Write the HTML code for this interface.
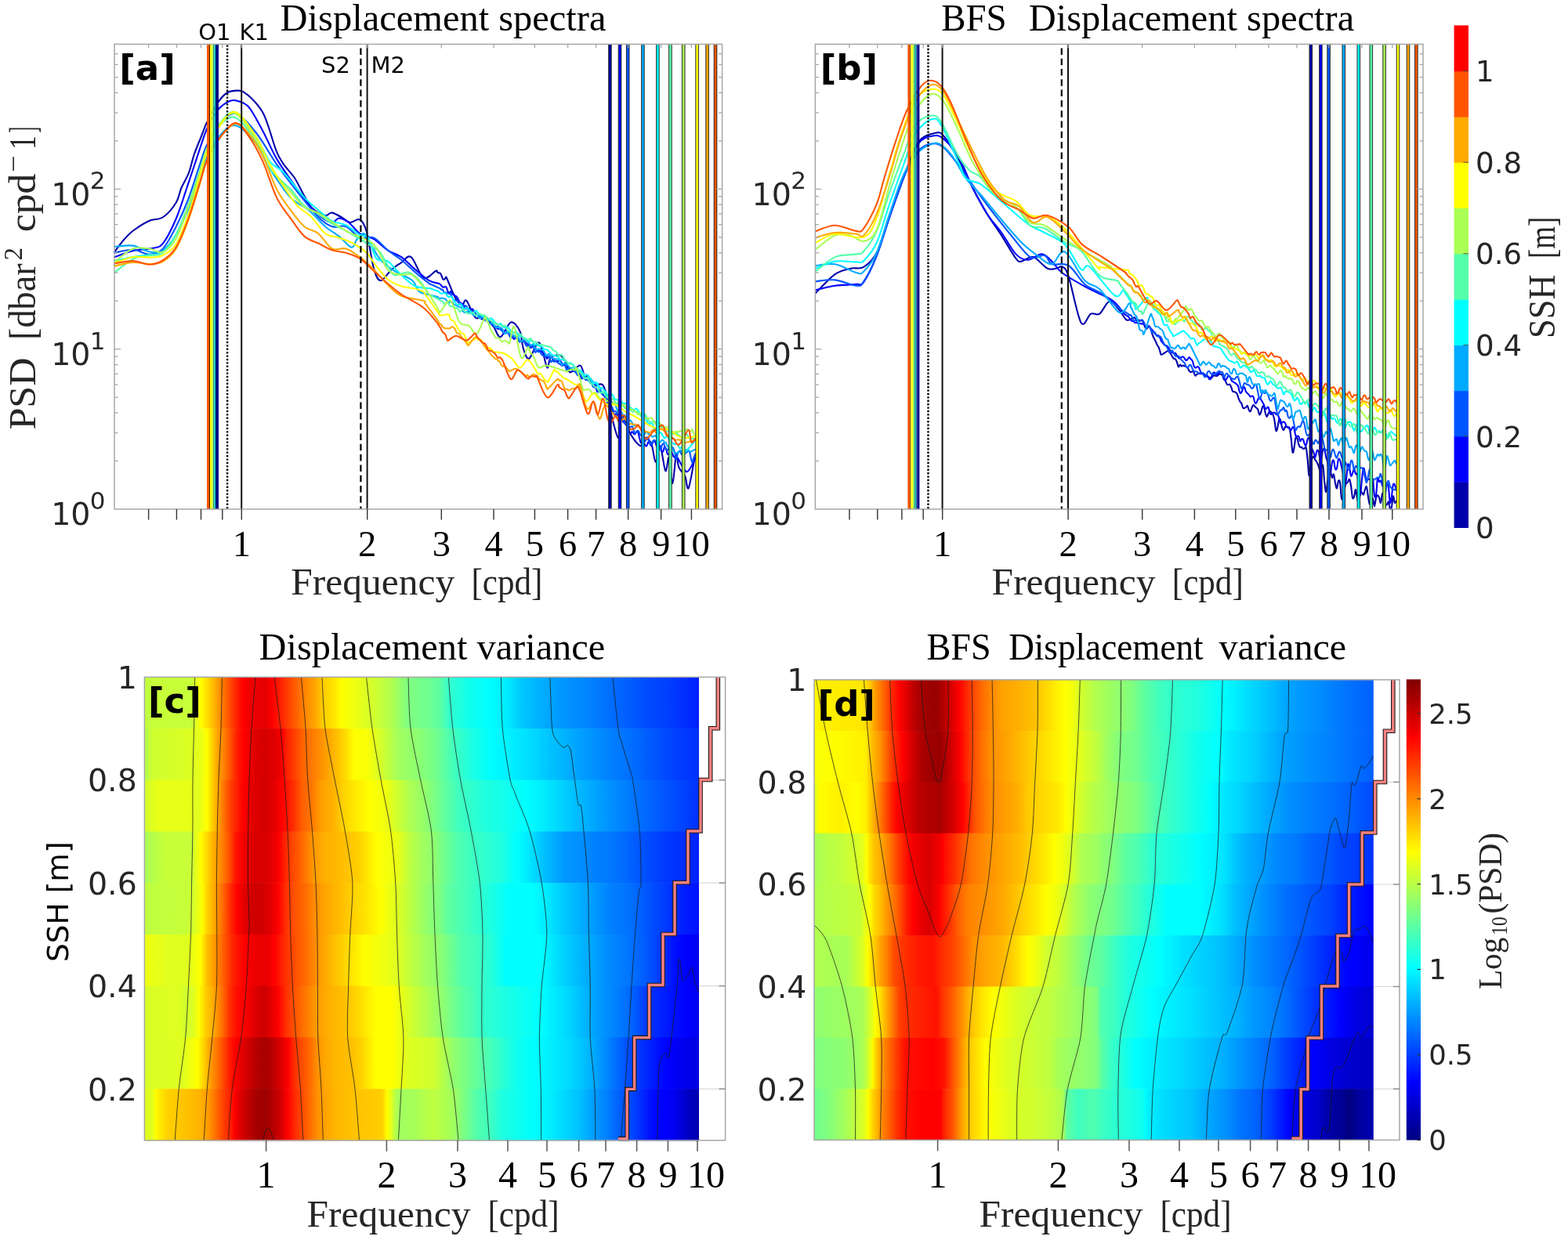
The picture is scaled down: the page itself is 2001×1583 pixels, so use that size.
<!DOCTYPE html><html><head><meta charset="utf-8"><title>Displacement spectra</title><style>html,body{margin:0;padding:0;background:#fff;}svg{display:block;}</style></head><body>
<svg width="2001" height="1583" viewBox="0 0 2001 1583">
<rect width="2001" height="1583" fill="#ffffff"/>
<g fill="none" stroke-width="2.1" stroke-linejoin="round" stroke-linecap="round">
<path d="M146,321.7C148.2,318.9 154.9,309.6 159,305C163.1,300.4 165.4,297.8 170.6,294C175.8,290.2 184,284.8 190.3,282C196.6,279.2 202.7,280.9 208.4,277C214.2,273.1 221,264.7 224.8,258.5C228.6,252.3 228.7,246.4 231.4,240C234.1,233.6 238.5,227.2 241.2,220C243.9,212.8 245.1,205 247.8,197C250.6,189 255,178.8 257.7,172C260.4,165.2 260.6,163.1 264.2,156C267.8,148.9 274.6,135.9 279,129.6C283.4,123.3 286.4,120.3 290.5,118C294.6,115.7 300.3,115.7 303.6,115.6C306.9,115.5 307.2,115.4 310.2,117.2C313.2,119 317.6,122 321.7,126.3C325.8,130.5 331.4,137.1 334.8,142.7C338.2,148.3 339,151.5 342,160C345,168.5 349.7,185.4 353,193.7C356.3,202 358.1,204.1 361.9,209.7C365.7,215.3 371.6,220.5 376,227.3C380.4,234.1 384.6,243.8 388.4,250.3C392.2,256.8 394.6,262.2 399,266.3C403.4,270.4 410.9,274.1 415,275C419.1,275.9 420,271 423.8,271.6C427.6,272.2 434.2,276.5 438,278.6C441.8,280.7 443.3,283.7 446.8,284C450.3,284.3 455.7,278.3 459.2,280.4C462.7,282.4 465.1,286 468,296.3C470.9,306.6 473.9,332 476.9,342.3C479.8,352.6 481.9,357.9 485.7,358.2C489.5,358.5 495.5,347.8 499.9,344C504.3,340.2 508.1,337.8 512.2,335.2C516.3,332.6 519.9,324.9 524.6,328.2C529.3,331.4 535.3,351.7 540.5,354.7C545.7,357.7 553.1,347.2 556,346C558.9,344.8 557.2,346.8 557.8,347.2C558.4,347.7 559,348.3 559.6,348.5C560.2,348.7 560.8,348 561.4,348.5C562,348.9 562.6,349.9 563.2,351.2C563.9,352.5 564.5,355.3 565.1,356.2C565.7,357.2 566.3,357.1 566.9,356.9C567.5,356.6 568.1,354.6 568.7,354.5C569.3,354.3 568.5,351.8 570.5,356C572.5,360.2 577.6,373.8 580.7,379.4C583.9,385 587,388.9 589.4,389.6C591.8,390.3 592.3,381.2 595.2,383.8C598.1,386.4 602.9,402.1 606.8,405.5C610.7,408.9 614.6,402.1 618.5,404C622.4,405.9 626.6,412.8 630,417.2C633.4,421.6 635.1,431.2 638.8,430.2C642.4,429.2 647.8,412.6 651.9,411.4C656,410.2 660.9,417.4 663.5,423C666.1,428.6 665.9,439 667.8,444.8C669.7,450.6 672,459 675.1,457.8C678.2,456.6 683.8,438.9 686.7,437.5C689.6,436.1 690.5,443.8 692.5,449.1C694.5,454.4 696.7,468.3 698.4,469.5C700.1,470.7 700.1,459.1 702.7,456.4C705.4,453.7 711.1,452.8 714.3,453.5C717.4,454.2 719.4,457.2 721.6,460.8C723.8,464.4 724.2,474.3 727.4,475.3C730.5,476.3 737.3,465.4 740.5,466.6C743.7,467.9 745.2,480.7 746.8,482.8C748.4,484.9 748.5,477.8 750.2,479.3C751.9,480.8 753.9,489.8 757.1,491.9C760.3,494 766.2,487.3 769.6,491.9C773,496.4 774.3,508 777.5,519.2C780.7,530.4 786.2,557.1 788.9,559C791.6,560.9 790.9,531.3 793.5,530.5C796.1,529.7 800.8,547.9 804.8,554.4C808.8,560.9 814.5,568.4 817.4,569.2C820.2,570 819.6,559.6 821.9,559C824.2,558.4 828.5,560.7 831,565.8C833.5,570.9 834.8,589.1 836.7,589.7C838.6,590.3 840.3,567.3 842.4,569.2C844.5,571.1 847.3,598.6 849.2,601.1C851.1,603.6 852.3,581.4 853.8,584C855.3,586.6 856.8,617.6 858.3,617C859.8,616.4 861.6,584 862.9,580.6C864.2,577.2 864.4,592 866.3,596.5C868.2,601 872.1,603.5 874.2,607.9C876.3,612.3 876.6,627.4 878.8,622.7C881,618 885.9,586.7 887.3,579.5" stroke="#0000aa"/>
<path d="M146,328.2C150.1,326.8 162.4,321.9 170.6,320C178.8,318.1 189,318.3 195.3,316.7C201.6,315.1 203.5,316.5 208.4,310.2C213.3,303.9 219.9,290.5 224.8,279C229.7,267.5 233.6,254.1 238,241.2C242.4,228.3 246.7,214.7 251.1,201.8C255.5,188.9 259.8,174.1 264.2,164C268.6,153.9 272.5,146.9 277.4,141C282.3,135.1 289.1,130.6 293.8,128.7C298.5,126.8 301.2,128.1 305.3,129.6C309.4,131.1 313.4,131.5 318.4,137.8C323.4,144.1 329.6,156.4 335.4,167.2C341.2,178 346.5,191.4 353,202.6C359.5,213.8 367.8,225 374.3,234.4C380.8,243.8 386.1,252.1 392,259.2C397.9,266.3 404.4,272.8 409.7,276.9C415,281 420,283.7 423.8,284C427.6,284.3 429.1,278.6 432.6,278.6C436.1,278.6 440.6,280.8 445,284C449.4,287.2 453.9,294.6 459.2,298.1C464.5,301.6 471,301.7 476.9,305.2C482.8,308.7 488.7,315.5 494.6,319.3C500.5,323.1 506.3,324.1 512.2,328.2C518.1,332.3 524,339.1 529.9,344.1C535.8,349.1 542.6,355.2 547.6,358.2C552.6,361.2 557.6,361.2 560,362C562.4,362.8 561.2,362.5 561.9,363C562.5,363.6 563.1,364.5 563.8,365.2C564.4,365.8 565,366.7 565.6,366.8C566.2,367 566.9,366.3 567.5,366.2C568.1,366.1 568.8,365.6 569.4,366.4C570,367.2 570.6,369.8 571.2,371.1C571.9,372.5 572.5,374.6 573.1,374.7C573.8,374.9 574.4,372 575,372C575.6,372 576.2,374.1 576.9,374.8C577.5,375.5 578.1,375.8 578.8,376.2C579.4,376.7 580,377 580.6,377.4C581.2,377.7 581.9,377.7 582.5,378.4C583.1,379.1 583.8,380.3 584.4,381.5C585,382.6 585.6,384.5 586.2,385.3C586.9,386.2 587.5,386.3 588.1,386.7C588.8,387.1 589.4,387.4 590,388C590.6,388.6 591.2,389.2 591.9,390.2C592.5,391.2 593.1,393.3 593.8,393.9C594.4,394.5 595,394 595.6,394C596.2,394 596.9,393.9 597.5,394.1C598.1,394.3 598.8,394.9 599.4,395.1C600,395.3 600.6,395.3 601.2,395.2C601.9,395.1 602.5,394.1 603.1,394.5C603.8,395 604.4,397.1 605,398C605.6,398.9 606.2,399.3 606.9,400.1C607.5,400.8 608.1,402 608.8,402.3C609.4,402.7 610,401.8 610.6,402.1C611.2,402.4 611.9,403.2 612.5,404C613.1,404.9 613.8,406.6 614.4,407.2C615,407.7 615.6,407.1 616.2,407.1C616.9,407.1 617.5,407 618.1,407.1C618.8,407.3 619.4,407.6 620,408C620.6,408.4 621.3,409.6 622,409.7C622.7,409.8 623.3,408.5 624,408.4C624.7,408.4 625.3,408.5 626,409.3C626.7,410.2 627.3,412.3 628,413.4C628.7,414.5 629.3,415.5 630,416C630.7,416.5 631.3,416 632,416.4C632.7,416.9 633.3,418.2 634,418.8C634.7,419.4 635.3,420.1 636,420C636.7,419.9 637.3,418.3 638,418.3C638.7,418.3 639.3,419.3 640,420C640.7,420.7 641.3,422 642,422.5C642.7,422.9 643.3,422.8 644,422.7C644.7,422.5 645.3,421.5 646,421.7C646.7,421.8 647.3,422.8 648,423.7C648.7,424.6 649.3,426.4 650,427.2C650.7,428.1 651.3,428.2 652,428.8C652.7,429.3 653.3,429.7 654,430.4C654.7,431.1 655.3,432.8 656,432.9C656.7,433 657.3,431.4 658,431.2C658.7,431.1 659.3,431.7 660,432C660.7,432.3 661.3,432.4 662,433C662.7,433.7 663.3,435.4 664,435.8C664.7,436.1 665.3,435.4 666,435.3C666.7,435.1 667.3,434.6 668,434.9C668.7,435.2 669.3,436.3 670,436.9C670.7,437.5 671.3,438.2 672,438.7C672.7,439.2 673.3,439.2 674,439.9C674.7,440.7 675.3,442.5 676,443.2C676.7,443.8 677.3,444 678,443.8C678.7,443.6 679.3,442.4 680,442C680.7,441.6 681.3,440.7 682,441.3C682.7,441.9 683.3,444.5 684,445.6C684.7,446.7 685.3,447.5 686,447.8C686.7,448.2 687.3,447.6 688,447.7C688.7,447.7 689.3,448 690,448.3C690.7,448.6 691.3,449.2 692,449.6C692.7,449.9 693.3,449.8 694,450.5C694.7,451.1 695.3,452.3 696,453.5C696.7,454.8 697.3,457.6 698,457.9C698.7,458.1 699.3,455.7 700,455C700.7,454.3 701.3,453.7 702,453.8C702.7,454 703.3,455.2 704,456.2C704.7,457.1 705.3,458.9 706,459.6C706.7,460.3 707.3,460.4 708,460.6C708.7,460.8 709.3,460.6 710,460.7C710.7,460.8 711.3,461.1 712,461.1C712.7,461.1 713.3,460.6 714,460.7C714.7,460.7 715.3,460.5 716,461.5C716.7,462.5 717.3,466 718,466.5C718.7,467.1 719.3,465 720,465C720.7,465 721.3,466.5 722,466.7C722.7,466.9 723.3,465.8 724,466.2C724.7,466.6 725.3,468.2 726,469C726.7,469.9 727.3,470.7 728,471.3C728.7,471.9 729.3,472 730,472.4C730.7,472.8 731.3,473.5 732,473.7C732.7,473.9 733.3,473.9 734,473.7C734.7,473.6 735.3,472.6 736,473C736.7,473.4 737.3,475.2 738,476C738.7,476.9 739.3,476.8 740,478C740.7,479.2 741.3,482.6 742,483.1C742.7,483.5 743.3,481.1 744,480.9C744.7,480.7 745.3,481.4 746,481.8C746.7,482.3 747.3,483.1 748,483.6C748.7,484.1 749.3,484.3 750,484.8C750.7,485.4 751.3,486.3 752,486.9C752.7,487.6 753.3,488.6 754,488.8C754.7,489.1 755.3,488.3 756,488.2C756.7,488.2 757.3,487.6 758,488.3C758.7,488.9 759.4,490.1 760,492C760.6,493.9 761.3,498.2 761.9,499.5C762.5,500.9 763.1,500 763.8,500.1C764.4,500.2 765,500 765.7,500.3C766.3,500.7 766.9,501.7 767.6,502.3C768.2,502.8 768.8,503.1 769.4,503.7C770.1,504.2 770.7,504.4 771.3,505.5C772,506.5 772.6,508.4 773.2,509.9C773.9,511.4 774.5,513.6 775.1,514.4C775.7,515.3 776.4,514.9 777,515C777.6,515.1 778.3,514.1 779,515.2C779.7,516.4 780.3,519.6 781,521.9C781.7,524.2 782.3,527.8 783,528.9C783.7,530 784.3,528.5 785,528.5C785.7,528.6 786.3,528.7 787,529C787.7,529.3 788.3,530.2 789,530.3C789.7,530.4 790.3,529.3 791,529.5C791.7,529.6 792.3,529.7 793,531.2C793.7,532.6 794.3,536.8 795,538.3C795.7,539.8 796.4,539.3 797,540C797.6,540.7 798.3,542 798.9,542.5C799.5,543.1 800.1,542 800.8,543.2C801.4,544.5 802,548.6 802.6,550.3C803.3,552 803.9,553.3 804.5,553.5C805.2,553.6 805.8,551.4 806.4,551.3C807,551.2 807.7,552.6 808.3,553.1C808.9,553.6 809.6,554.7 810.2,554.4C810.8,554.1 811.4,552 812.1,551.5C812.7,550.9 813.3,550 814,551.1C814.6,552.2 815.2,555.7 815.8,558C816.5,560.4 817.1,564.4 817.7,565.2C818.3,565.9 819,562.5 819.6,562.4C820.2,562.3 820.9,563.3 821.5,564.4C822.1,565.4 822.8,567.8 823.4,568.6C824,569.4 824.7,569.9 825.3,569.2C825.9,568.5 826.6,564.8 827.2,564.3C827.8,563.8 828.5,565.3 829.1,566C829.7,566.8 830.4,569 831,568.9C831.6,568.8 832.3,566.6 832.9,565.4C833.5,564.3 834.2,561.9 834.8,562C835.4,562 836.1,564.2 836.7,565.8C837.3,567.3 838,570.4 838.6,571.5C839.2,572.6 839.9,572.8 840.5,572.4C841.1,572 841.8,568.6 842.4,569.2C843,569.8 843.7,575 844.3,576.2C844.9,577.3 845.6,577.1 846.2,576.1C846.8,575.2 847.4,570.9 848.1,570.4C848.7,569.9 849.3,571.6 850,573.2C850.6,574.7 851.2,578.7 851.9,579.7C852.5,580.8 853.1,580.1 853.8,579.5C854.4,578.9 855,576.5 855.6,576.3C856.3,576 856.9,577 857.5,578C858.2,579 858.8,581.3 859.4,582.4C860.1,583.4 860.7,583.6 861.3,584.2C861.9,584.8 862.6,585.9 863.2,586C863.8,586.2 862.9,582.4 865.1,585.1C867.3,587.8 872.8,602.2 876.5,602.2C880.2,602.2 885.5,588 887.3,585.1" stroke="#0000ff"/>
<path d="M146,322.7C150,322.1 162.5,318.5 169.9,318.8C177.3,319.1 184.3,324.8 190.6,324.7C196.9,324.6 201.9,323.8 207.5,318C213.1,312.2 219,300.5 224.4,290C229.8,279.5 234.9,268.3 240,255C245.1,241.7 251,221.7 255,210C259,198.3 260,193.3 264,185C268,176.7 273,166.7 279,160C285,153.3 292.1,143.5 300,145C307.9,146.5 317.7,158.2 326.5,169C335.3,179.8 344.1,197 353,209.7C361.9,222.4 370.8,233.8 379.6,245C388.5,256.2 398.7,269.5 406.1,276.9C413.5,284.3 417.9,287.1 423.8,289.2C429.7,291.2 435.6,286.8 441.5,289.2C447.4,291.6 453.3,301 459.2,303.4C465.1,305.8 471,300.8 476.9,303.4C482.8,306 488.7,314.6 494.6,319.3C500.5,324 506.3,327 512.2,331.7C518.1,336.4 524,342.6 529.9,347.6C535.8,352.6 544.3,359.3 547.6,361.8C550.9,364.3 548.9,362.4 549.5,362.7C550.2,363 550.8,363.3 551.5,363.6C552.1,363.9 552.8,364.2 553.4,364.5C554,364.8 554.7,365.1 555.3,365.4C556,365.7 556.6,366.1 557.3,366.4C557.9,366.7 558.6,367 559.2,367.3C559.8,367.5 560.5,367.5 561.1,367.9C561.8,368.2 562.4,369.2 563.1,369.6C563.7,369.9 564.3,369.3 565,370C565.7,370.7 566.3,373.3 567,373.8C567.7,374.4 568.3,373.3 569,373.4C569.7,373.4 570.3,374 571,374.2C571.7,374.4 572.3,374.4 573,374.7C573.7,374.9 574.3,374.8 575,375.5C575.7,376.3 576.3,378.2 577,379.4C577.7,380.6 578.3,382.4 579,383C579.7,383.5 580.3,382.6 581,382.8C581.7,383 582.3,383.9 583,384.2C583.7,384.6 584.3,384.5 585,385C585.7,385.5 586.3,387 587,387.5C587.7,388 588.3,387.7 589,388.1C589.7,388.5 590.3,389.6 591,389.9C591.7,390.3 592.3,390.2 593,390.3C593.7,390.4 594.3,389.8 595,390.5C595.7,391.1 596.3,392.9 597,394.2C597.7,395.4 598.3,397.4 599,398.1C599.7,398.8 600.3,398.1 601,398.3C601.7,398.6 602.3,399.4 603,399.7C603.7,400 604.3,399.8 605,400C605.7,400.2 606.3,400.4 607,400.7C607.7,400.9 608.3,401 609,401.7C609.7,402.3 610.3,403.8 611,404.3C611.7,404.8 612.3,404.5 613,404.4C613.7,404.2 614.3,403.2 615,403.4C615.7,403.6 616.3,404.9 617,405.8C617.7,406.7 618.3,408.3 619,408.9C619.7,409.5 620.3,408.9 621,409.2C621.7,409.5 622.3,410.5 623,410.7C623.7,410.8 624.3,410.1 625,410C625.7,409.9 626.3,410 627,410.3C627.7,410.7 628.3,411.2 629,412.2C629.7,413.3 630.3,415.6 631,416.4C631.7,417.3 632.3,417.5 633,417.5C633.7,417.5 634.3,416.4 635,416.5C635.7,416.7 636.3,417.6 637,418.3C637.7,419.1 638.3,420.5 639,421.2C639.7,421.9 640.3,421.8 641,422.5C641.7,423.3 642.3,425.3 643,425.7C643.7,426.1 644.3,425.2 645,425C645.7,424.8 646.3,424.6 647,424.7C647.7,424.9 648.3,425.1 649,425.9C649.7,426.8 650.3,429.2 651,430.1C651.7,430.9 652.3,431.2 653,431.1C653.7,431 654.3,429.8 655,429.7C655.7,429.5 656.3,429.8 657,430.1C657.7,430.4 658.3,431 659,431.4C659.7,431.8 660.3,431.7 661,432.6C661.7,433.5 662.3,436.3 663,436.7C663.7,437.1 664.3,435.2 665,435C665.7,434.8 666.3,435.3 667,435.6C667.7,435.8 668.3,435.6 669,436.4C669.7,437.2 670.3,439.5 671,440.5C671.7,441.4 672.3,442 673,442.1C673.7,442.3 674.3,441.6 675,441.5C675.7,441.5 676.3,441.8 677,442C677.7,442.2 678.3,442.3 679,442.7C679.7,443.1 680.3,443.1 681,444.2C681.7,445.4 682.3,449.1 683,449.8C683.7,450.4 684.3,448.1 685,448C685.7,447.9 686.3,449.1 687,449.3C687.7,449.5 688.3,448.7 689,449.2C689.7,449.7 690.3,451.5 691,452.2C691.7,453 692.3,453.5 693,453.8C693.7,454.2 694.3,454 695,454.2C695.7,454.4 696.3,454.8 697,455C697.7,455.1 698.3,454.8 699,454.9C699.7,455.1 700.3,454.8 701,456C701.7,457.2 702.3,461.3 703,462C703.7,462.6 704.3,460 705,460C705.7,460 706.3,461.8 707,461.9C707.7,462.1 708.3,460.8 709,460.9C709.7,461 710.3,462.1 711,462.6C711.7,463.1 712.3,463.4 713,463.8C713.7,464.2 714.3,464.6 715,465.1C715.7,465.6 716.3,466.5 717,466.7C717.7,466.9 718.3,466.3 719,466.3C719.7,466.2 720.3,465.5 721,466.4C721.7,467.4 722.3,471.3 723,471.9C723.7,472.5 724.3,469.9 725,470C725.7,470.1 726.3,472.2 727,472.5C727.7,472.7 728.3,471.6 729,471.6C729.7,471.6 730.3,472.2 731,472.6C731.7,472.9 732.3,472.9 733,473.4C733.7,474 734.3,475 735,475.9C735.7,476.8 736.3,478.4 737,478.9C737.7,479.4 738.3,478.8 739,478.8C739.7,478.7 740.3,477.7 741,478.4C741.7,479.1 742.3,482.6 743,483.2C743.7,483.8 744.3,481.8 745,482C745.7,482.2 746.3,484.2 747,484.7C747.7,485.1 748.3,484.7 749,484.9C749.7,485.1 750.3,485.5 751,485.8C751.7,486 752.3,485.8 753,486.4C753.7,487.1 754.3,488.4 755,489.6C755.7,490.9 756.3,493.1 757,493.9C757.7,494.7 758.3,494.5 759,494.6C759.7,494.6 760.3,493.5 761,494.1C761.7,494.8 762.3,497.7 763,498.3C763.7,499 764.3,497.5 765,498C765.7,498.5 766.3,500.2 767,501.2C767.7,502.2 768.3,503 769,503.8C769.7,504.6 770.3,505.3 771,505.8C771.7,506.2 772.3,505.6 773,506.5C773.7,507.3 774.3,508.9 775,510.7C775.7,512.5 776.3,515.8 777,517.2C777.7,518.6 778.3,518.9 779,519.3C779.7,519.6 780.3,518.6 781,519.4C781.7,520.3 782.3,523.5 783,524.4C783.7,525.3 784.3,524.6 785,525C785.7,525.4 786.3,525.6 787,526.5C787.7,527.4 788.3,529.5 789,530.4C789.7,531.4 790.3,532.3 791,532.4C791.7,532.4 792.3,530.7 793,531C793.7,531.2 794.3,532.2 795,533.6C795.7,535.1 796.3,538.3 797,539.6C797.7,540.9 798.3,541.2 799,541.5C799.7,541.8 800.3,540.7 801,541.5C801.7,542.2 802.3,545.4 803,545.9C803.7,546.5 804.3,545.2 805,545C805.7,544.8 806.3,543.9 807,544.8C807.7,545.7 808.3,549.1 809,550.5C809.7,551.9 810.3,553.3 811,553.2C811.7,553.1 812.3,550.5 813,550C813.7,549.6 814.3,549.7 815,550.5C815.7,551.3 816.3,554 817,555C817.7,556 818.3,556.1 819,556.7C819.7,557.2 820.3,557 821,558.1C821.7,559.2 822.3,563.1 823,563.5C823.7,563.8 824.3,560.9 825,560C825.7,559.1 826.3,557.4 827,558.2C827.7,558.9 828.3,562.9 829,564.4C829.7,566 830.3,567.6 831,567.4C831.7,567.3 832.3,564.5 833,563.5C833.7,562.6 834.3,561.9 835,561.9C835.7,561.9 836.3,563.2 837,563.6C837.7,564 838.3,563.7 839,564.5C839.7,565.2 840.3,566.2 841,567.9C841.7,569.5 842.3,574.4 843,574.4C843.7,574.4 844.3,569.4 845,568C845.7,566.6 846.3,565.6 847,566.3C847.7,566.9 848.3,570.4 849,571.9C849.7,573.4 850.3,575.3 851,575.5C851.7,575.7 852.3,573.6 853,572.9C853.7,572.2 854.3,571.6 855,571.4C855.7,571.2 856.3,571.5 857,571.5C857.7,571.6 858.3,570.9 859,571.9C859.7,572.9 860.3,575.2 861,577.6C861.7,580 862.3,586.3 863,586.4C863.7,586.5 864.4,579.7 865,578C865.6,576.3 866.2,576 866.9,576C867.5,576 868.1,577.2 868.7,578.1C869.3,578.9 870,580.6 870.6,581C871.2,581.3 871.8,580.3 872.4,579.9C873.1,579.5 873.7,579 874.3,578.7C874.9,578.3 875.5,578.4 876.1,577.9C876.8,577.4 877.4,575.9 878,575.7C878.6,575.4 879.2,575 879.9,576.5C880.5,578 881.1,582.4 881.7,584.7C882.3,587.1 883,590.9 883.6,590.8C884.2,590.7 884.8,585.8 885.4,584C886.1,582.2 887,580.7 887.3,580" stroke="#0055ff"/>
<path d="M146,315C150,314.8 162.5,312.5 169.9,313.6C177.3,314.7 184.3,320.3 190.6,321.4C196.9,322.5 201.9,323.6 207.5,320C213.1,316.4 219,308.7 224.4,300C229.8,291.3 234.9,280.5 240,268C245.1,255.5 251,236.3 255,225C259,213.7 260,208.3 264,200C268,191.7 273,181.7 279,175C285,168.3 292.1,158.7 300,160C307.9,161.3 319.1,173.8 326.5,183C333.9,192.2 336.8,203.5 344.2,215C351.6,226.5 362.4,243.3 370.7,252.1C378.9,260.9 386.3,261.8 393.7,268C401.1,274.2 408.5,283.6 415,289.2C421.5,294.8 427,297.2 432.6,301.6C438.2,306 444.8,315.2 448.6,315.8C452.4,316.4 453,308.1 455.6,305.2C458.2,302.2 461.6,296.9 464.5,298.1C467.4,299.3 469.8,306.6 473.3,312.2C476.8,317.8 480.7,326.1 485.7,331.7C490.7,337.3 496.6,341.4 503.4,345.8C510.2,350.2 521.1,353.8 526.4,358.2C531.7,362.6 530.4,369.1 535.2,372.4C540,375.7 551.4,376.9 555,378C558.6,379.1 556.3,378.5 557,378.7C557.7,378.9 558.3,378.9 559,379.4C559.7,379.9 560.3,381.4 561,381.6C561.7,381.8 562.3,380.6 563,380.5C563.7,380.4 564.3,380.7 565,380.8C565.7,381 566.3,381.1 567,381.4C567.7,381.6 568.3,381.6 569,382.2C569.7,382.8 570.3,384.5 571,385.2C571.7,385.8 572.3,386.2 573,386.2C573.7,386.2 574.3,385.2 575,385C575.7,384.8 576.3,384.7 577,385.3C577.7,385.8 578.3,387.5 579,388.2C579.7,388.9 580.3,389.1 581,389.4C581.7,389.8 582.3,389.9 583,390.2C583.7,390.6 584.3,391.3 585,391.5C585.7,391.8 586.3,391.6 587,391.9C587.7,392.2 588.3,392.3 589,393.2C589.7,394.1 590.3,396.4 591,397.3C591.7,398.3 592.3,398.9 593,399C593.7,399.1 594.3,398.2 595,398C595.7,397.8 596.3,397.4 597,397.6C597.7,397.7 598.3,398.5 599,398.9C599.7,399.2 600.3,399.3 601,399.7C601.7,400.1 602.3,400.8 603,401.3C603.7,401.8 604.3,402.6 605,402.6C605.7,402.7 606.3,401.8 607,401.7C607.7,401.6 608.3,401.4 609,402C609.7,402.6 610.3,404.6 611,405.3C611.7,406 612.3,406.3 613,406.2C613.7,406.2 614.3,405.2 615,405C615.7,404.8 616.3,405 617,405.2C617.7,405.4 618.3,405.8 619,406.2C619.7,406.7 620.3,407 621,407.8C621.7,408.7 622.3,410.4 623,411.4C623.7,412.4 624.3,413.5 625,413.8C625.7,414 626.3,412.9 627,412.8C627.7,412.7 628.3,412.5 629,413.1C629.7,413.7 630.3,415.6 631,416.3C631.7,417.1 632.3,417.4 633,417.7C633.7,418 634.3,417.9 635,418C635.7,418.1 636.3,418.4 637,418.4C637.7,418.5 638.3,418.2 639,418.4C639.7,418.6 640.3,418.8 641,419.7C641.7,420.6 642.3,422.7 643,423.8C643.7,424.8 644.3,425.9 645,426C645.7,426 646.3,424.6 647,424.3C647.7,424 648.3,423.7 649,423.9C649.7,424.2 650.3,425.3 651,425.8C651.7,426.3 652.3,426.5 653,426.9C653.7,427.3 654.3,427.6 655,428C655.7,428.4 656.3,429.3 657,429.4C657.7,429.5 658.3,428.6 659,428.7C659.7,428.8 660.3,428.9 661,429.7C661.7,430.6 662.3,432.8 663,433.8C663.7,434.9 664.3,435.8 665,435.9C665.7,436 666.3,434.7 667,434.4C667.7,434 668.3,433.8 669,433.9C669.7,434 670.3,434.5 671,434.9C671.7,435.2 672.3,435.5 673,436.1C673.7,436.6 674.3,437.2 675,438C675.7,438.8 676.3,440.4 677,440.7C677.7,441 678.3,439.7 679,439.7C679.7,439.6 680.3,439.7 681,440.4C681.7,441.1 682.3,443.2 683,444.1C683.7,445.1 684.3,445.9 685,446.2C685.7,446.4 686.3,445.6 687,445.5C687.7,445.5 688.3,445.6 689,445.7C689.7,445.7 690.3,445.8 691,446.1C691.7,446.4 692.3,446.8 693,447.4C693.7,448.1 694.3,449 695,450C695.7,451 696.3,453.2 697,453.5C697.7,453.9 698.3,452.4 699,452.2C699.7,452 700.3,451.9 701,452.4C701.7,452.9 702.3,454.4 703,455.2C703.7,456 704.3,456.6 705,457.1C705.7,457.5 706.3,457.4 707,457.6C707.7,457.9 708.3,458.4 709,458.5C709.7,458.6 710.3,458.1 711,458.3C711.7,458.4 712.3,458.8 713,459.4C713.7,460 714.3,461 715,462C715.7,463 716.3,465.1 717,465.5C717.7,465.8 718.3,464.3 719,464C719.7,463.7 720.3,463.5 721,463.8C721.7,464 722.3,465 723,465.5C723.7,466 724.3,466.5 725,467C725.7,467.6 726.3,468.2 727,468.8C727.7,469.3 728.3,470.1 729,470.2C729.7,470.3 730.3,469.3 731,469.2C731.7,469.1 732.3,469.2 733,469.7C733.7,470.1 734.3,471.1 735,472C735.7,472.9 736.3,474.7 737,475.2C737.7,475.6 738.3,474.6 739,474.6C739.7,474.6 740.3,474.7 741,475C741.7,475.3 742.3,475.8 743,476.2C743.7,476.7 744.3,477.1 745,477.9C745.7,478.7 746.3,480.1 747,481C747.7,481.9 748.3,483.1 749,483.3C749.7,483.5 750.3,482.4 751,482.2C751.7,482.1 752.3,481.9 753,482.4C753.7,482.9 754.3,484.1 755,485C755.7,485.9 756.3,487.1 757,487.8C757.7,488.4 758.3,488.5 759,489C759.7,489.5 760.3,490.3 761,490.8C761.7,491.3 762.3,491.6 763,492.2C763.7,492.7 764.3,493 765,494.1C765.7,495.2 766.3,497.3 767,498.6C767.7,499.9 768.3,501.4 769,501.8C769.7,502.3 770.3,501.2 771,501.1C771.7,501.1 772.3,500.9 773,501.6C773.7,502.2 774.3,504.1 775,505C775.7,505.9 776.3,506.2 777,507C777.7,507.9 778.3,509.2 779,510.3C779.7,511.4 780.3,512.9 781,513.6C781.7,514.4 782.3,514.3 783,514.7C783.7,515.2 784.3,515.3 785,516.4C785.7,517.6 786.3,520.1 787,521.6C787.7,523.1 788.3,524.8 789,525.4C789.7,526 790.3,525.1 791,525.2C791.7,525.3 792.3,525.2 793,526.1C793.7,526.9 794.4,529.4 795,530C795.6,530.6 796.3,529.2 796.9,529.8C797.5,530.4 798.2,532.3 798.8,533.6C799.4,534.9 800,536.8 800.7,537.5C801.3,538.2 801.9,537.7 802.6,537.6C803.2,537.4 803.8,536.3 804.5,536.6C805.1,536.9 805.7,538.2 806.4,539.2C807,540.2 807.6,542.1 808.2,542.8C808.9,543.4 809.5,543.1 810.1,543.2C810.8,543.3 811.4,543.2 812,543.3C812.7,543.5 813.3,544 813.9,544.2C814.6,544.3 815.2,543.8 815.8,544.2C816.4,544.7 817.1,546 817.7,547C818.3,548 819,548.6 819.6,550C820.2,551.4 820.9,554.7 821.5,555.2C822.1,555.6 822.8,553.3 823.4,552.7C824,552.1 824.7,551.3 825.3,551.5C825.9,551.6 826.6,553 827.2,553.6C827.8,554.1 828.5,554.5 829.1,554.9C829.7,555.3 830.4,555.5 831,556C831.6,556.5 832.3,557.5 832.9,557.6C833.5,557.8 834.2,557 834.8,556.7C835.4,556.5 836.1,555.4 836.7,556.1C837.3,556.7 838,559 838.6,560.5C839.2,562 839.9,564.4 840.5,565.1C841.1,565.8 841.8,565.2 842.4,564.7C843,564.2 843.7,562.6 844.3,562.1C844.9,561.7 845.6,561.6 846.2,562C846.8,562.4 847.5,564.1 848.1,564.7C848.7,565.3 849.4,564.5 850,565.3C850.6,566.1 851.2,568.6 851.9,569.6C852.5,570.6 853.1,571.3 853.8,571.2C854.4,571.2 855,569.3 855.7,569.2C856.3,569.1 856.9,569.4 857.5,570.5C858.2,571.5 858.8,574.3 859.4,575.7C860.1,577 860.7,578.1 861.3,578.5C862,578.9 862.6,578 863.2,578C863.8,577.9 864.5,578.7 865.1,578.3C865.7,577.9 866.3,576.4 867,575.9C867.6,575.3 868.2,574.6 868.8,574.9C869.4,575.2 870,576.5 870.6,577.5C871.3,578.4 871.9,580.5 872.5,580.7C873.1,580.8 873.7,579.6 874.4,578.6C875,577.5 875.6,575 876.2,574.3C876.8,573.6 877.4,573.9 878,574.2C878.7,574.5 879.3,575.8 879.9,576.1C880.5,576.5 881.1,576.5 881.8,576.4C882.4,576.3 883,575.9 883.6,575.6C884.2,575.2 884.8,574.7 885.4,574.4C886.1,574.1 887,573.9 887.3,573.8" stroke="#00aaff"/>
<path d="M146,333C150,332.2 162.5,329.3 169.9,328C177.3,326.7 184.3,326.3 190.6,325.3C196.9,324.3 201.9,326.2 207.5,322C213.1,317.8 219,309.5 224.4,300C229.8,290.5 234.9,278.7 240,265C245.1,251.3 251,230.5 255,218C259,205.5 260,199.7 264,190C268,180.3 273,167.8 279,160C285,152.2 292.1,140.6 300,143C307.9,145.4 319.1,163.8 326.5,174.3C333.9,184.8 338.3,198.4 344.2,206.1C350.1,213.8 354.5,212.6 361.9,220.3C369.3,228 381,244.2 388.4,252.1C395.8,260.1 400.2,263 406.1,268C412,273 417.9,278.9 423.8,282.2C429.7,285.4 435.6,284.6 441.5,287.5C447.4,290.4 454.5,297.2 459.2,299.9C463.9,302.5 466.3,298.4 469.8,303.4C473.3,308.4 476.3,325 480.4,330C484.5,335 489.3,330 494.6,333.5C499.9,337 506.3,345.9 512.2,351.2C518.1,356.5 523.9,362.5 529.9,365.3C535.9,368.1 544.7,367.4 548,368C551.3,368.6 549.3,368.4 549.9,368.6C550.5,368.8 551.2,369.1 551.8,369.3C552.5,369.5 553.1,369.7 553.7,369.9C554.4,370.1 555,370.3 555.6,370.5C556.3,370.8 556.9,371 557.5,371.2C558.2,371.4 558.8,371.4 559.5,371.8C560.1,372.3 560.7,373.4 561.4,373.9C562,374.3 562.6,374.4 563.3,374.6C563.9,374.7 564.5,374.8 565.2,374.6C565.8,374.5 566.5,373.7 567.1,373.8C567.7,373.8 568.4,374.4 569,375C569.6,375.6 570.3,376.9 570.9,377.6C571.5,378.3 572.2,379.3 572.8,379.4C573.5,379.6 574.1,378.4 574.7,378.4C575.4,378.3 576,378.5 576.6,379.2C577.3,379.9 577.9,381.5 578.5,382.5C579.2,383.5 579.8,384.5 580.5,385.4C581.1,386.3 581.7,387.2 582.4,387.9C583,388.5 583.6,389.2 584.3,389.3C584.9,389.4 585.5,388.7 586.2,388.5C586.8,388.3 587.5,387.7 588.1,388.3C588.7,388.9 589.3,391 590,392C590.7,393 591.3,393.9 592,394.1C592.7,394.4 593.3,393.5 594,393.4C594.7,393.3 595.3,393.2 596,393.4C596.7,393.7 597.3,394.5 598,395C598.7,395.6 599.3,395.9 600,396.5C600.7,397.2 601.3,398.3 602,398.8C602.7,399.3 603.3,399.9 604,399.6C604.7,399.4 605.3,397.9 606,397.4C606.7,396.9 607.3,396.2 608,396.6C608.7,397 609.3,399.1 610,400C610.7,400.9 611.3,401.7 612,402.1C612.7,402.5 613.3,402.2 614,402.5C614.7,402.7 615.3,403.1 616,403.4C616.7,403.6 617.3,403.6 618,403.8C618.7,404.1 619.3,404.2 620,404.9C620.7,405.5 621.3,407.1 622,407.7C622.7,408.3 623.3,408.7 624,408.5C624.7,408.3 625.3,406.8 626,406.5C626.7,406.2 627.3,406.3 628,406.8C628.7,407.4 629.3,409.1 630,410C630.7,410.9 631.3,411.4 632,412C632.7,412.5 633.3,412.9 634,413.3C634.7,413.6 635.3,414.1 636,414.1C636.7,414.1 637.3,413.2 638,413.2C638.7,413.2 639.3,413.5 640,414.1C640.7,414.8 641.3,416.6 642,417.3C642.7,417.9 643.3,418.1 644,418C644.7,417.9 645.3,416.8 646,416.8C646.7,416.8 647.3,417.4 648,418C648.7,418.5 649.3,419.3 650,420C650.7,420.7 651.3,421.2 652,421.9C652.7,422.6 653.3,423.7 654,424.2C654.7,424.7 655.3,424.8 656,424.6C656.7,424.5 657.3,423.1 658,423.2C658.7,423.2 659.3,424 660,424.8C660.7,425.7 661.3,427.4 662,428.2C662.7,428.9 663.3,429 664,429.3C664.7,429.5 665.3,429.2 666,429.5C666.7,429.8 667.3,430.4 668,430.8C668.7,431.2 669.3,431.6 670,432C670.7,432.4 671.3,432.5 672,433.1C672.7,433.8 673.3,435.4 674,435.8C674.7,436.2 675.3,435.8 676,435.5C676.7,435.2 677.3,434.1 678,434.2C678.7,434.3 679.3,435.3 680,436.1C680.7,436.9 681.3,438.2 682,438.8C682.7,439.5 683.3,439.6 684,440C684.7,440.4 685.3,440.9 686,441.1C686.7,441.3 687.3,441.2 688,441.4C688.7,441.5 689.3,441.8 690,442C690.7,442.2 691.3,442.2 692,442.9C692.7,443.5 693.3,445.6 694,446.2C694.7,446.7 695.3,446.1 696,446.1C696.7,446.1 697.3,445.7 698,446.1C698.7,446.4 699.3,447.5 700,448.3C700.7,449 701.3,449.7 702,450.3C702.7,451 703.3,451.6 704,452.3C704.7,452.9 705.3,454 706,454.2C706.7,454.4 707.3,453.5 708,453.6C708.7,453.7 709.3,454.7 710,455C710.7,455.3 711.3,454.8 712,455.3C712.7,455.9 713.3,457.8 714,458.3C714.7,458.8 715.3,458.3 716,458.5C716.7,458.6 717.3,458.9 718,459.2C718.7,459.4 719.3,459.9 720,460.1C720.7,460.4 721.3,460.4 722,460.9C722.7,461.4 723.3,462.4 724,463.1C724.7,463.7 725.3,464.8 726,464.8C726.7,464.8 727.3,463.1 728,463.1C728.7,463.2 729.3,464.5 730,465C730.7,465.5 731.3,465.3 732,466.1C732.6,466.8 733.3,468.5 733.9,469.3C734.6,470.1 735.2,470.4 735.9,471C736.6,471.6 737.2,472.4 737.9,472.7C738.5,473 739.2,472.8 739.8,472.9C740.5,473 741.1,472.7 741.8,473.3C742.5,473.9 743.1,475.6 743.8,476.5C744.4,477.5 745.1,478.9 745.7,479.2C746.4,479.5 747,478.5 747.7,478.4C748.4,478.3 749,478 749.7,478.6C750.3,479.2 751,481 751.6,481.9C752.3,482.8 753,483 753.6,483.9C754.2,484.8 754.9,486.5 755.5,487.4C756.2,488.3 756.8,489.1 757.5,489.3C758.1,489.6 758.7,488.8 759.4,488.6C760,488.4 760.7,487.7 761.3,488.2C762,488.7 762.6,490.4 763.3,491.6C763.9,492.7 764.5,494.4 765.2,495.1C765.8,495.7 766.5,495.2 767.1,495.3C767.8,495.4 768.4,495.3 769,495.7C769.7,496.2 770.3,497.4 771,498.2C771.6,499 772.3,499.5 772.9,500.4C773.6,501.2 774.2,502.4 774.8,503.4C775.5,504.4 776.1,506 776.8,506.3C777.4,506.5 778.1,505.5 778.7,505C779.3,504.5 779.9,503.1 780.5,503.1C781.1,503.2 781.7,504.1 782.3,505.1C782.9,506 783.6,508 784.2,508.8C784.8,509.7 785.4,509.9 786,510.2C786.6,510.4 787.2,510.2 787.8,510.4C788.4,510.6 789,511.1 789.6,511.4C790.2,511.6 790.8,511.5 791.4,511.7C792,511.8 792.7,511.8 793.3,512.5C793.9,513.2 794.5,515.6 795.1,516C795.7,516.4 796.3,515.1 796.9,515C797.5,514.9 798.1,515.5 798.7,515.3C799.3,515.1 799.9,513.7 800.5,513.9C801.1,514.1 801.7,515.6 802.3,516.6C802.9,517.6 803.5,519.1 804.1,519.9C804.7,520.7 805.3,520.9 806,521.4C806.6,521.9 807.2,522.4 807.8,522.7C808.4,523 809,523.4 809.6,523.2C810.2,523 810.8,521.7 811.4,521.6C812,521.5 812.6,521.8 813.2,522.4C813.8,523 814.4,523.9 815,525C815.6,526.1 816.3,528.7 817,529.1C817.6,529.6 818.3,527.9 818.9,528C819.6,528 820.3,528.5 820.9,529.4C821.6,530.3 822.2,532.2 822.9,533.3C823.5,534.5 824.2,535.2 824.9,536.3C825.5,537.3 826.2,538.8 826.8,539.7C827.5,540.6 828.2,541.7 828.8,541.8C829.5,541.8 830.1,540.1 830.8,540C831.4,539.9 832.1,540 832.8,541.2C833.4,542.3 834.1,545.9 834.7,547C835.4,548.1 836.1,547.6 836.7,548C837.3,548.4 838,549.1 838.6,549.6C839.2,550.1 839.9,550.4 840.5,550.8C841.1,551.3 841.8,551.9 842.4,552.4C843,552.8 843.7,552.7 844.3,553.5C844.9,554.2 845.6,555.9 846.2,556.9C846.8,557.9 847.5,559.4 848.1,559.5C848.7,559.6 849.4,557.9 850,557.5C850.6,557.1 851.3,556.3 851.9,557C852.5,557.6 853.2,560 853.8,561.3C854.4,562.6 855.1,563.9 855.7,564.7C856.3,565.5 857,565.7 857.6,565.9C858.2,566.1 858.9,565.8 859.5,566C860.1,566.2 860.8,567.4 861.4,567.4C862,567.4 862.6,566 863.3,566.1C863.9,566.2 864.5,567.2 865.2,568.1C865.8,569.1 866.4,571.4 867.1,572C867.7,572.6 868.3,572.1 868.9,571.7C869.6,571.4 870.2,569.9 870.8,570C871.5,570.1 872.1,571.5 872.7,572.3C873.4,573.1 874,574.5 874.6,574.9C875.2,575.4 874.4,577.2 876.5,575C878.6,572.8 885.5,564.2 887.3,562" stroke="#00ffff"/>
<path d="M146,348C150,345.1 162.5,334.2 169.9,330.5C177.3,326.8 184.3,327.2 190.6,326C196.9,324.8 201.9,327.3 207.5,323C213.1,318.7 219,310.2 224.4,300C229.8,289.8 234.9,275.7 240,262C245.1,248.3 251,230 255,218C259,206 260,199.3 264,190C268,180.7 273,168.7 279,162C285,155.3 292.1,147.1 300,150C307.9,152.9 319.1,168.8 326.5,179.6C333.9,190.4 336.8,204.7 344.2,215C351.6,225.3 363.3,233.6 370.7,241.5C378.1,249.4 382.5,257.4 388.4,262.7C394.3,268 400.2,269.5 406.1,273.3C412,277.1 417.9,282.1 423.8,285.7C429.7,289.2 435.6,291.4 441.5,294.6C447.4,297.9 453.3,301.7 459.2,305.2C465.1,308.7 472.5,312.9 476.9,315.8C481.3,318.7 482.8,319 485.7,322.8C488.6,326.6 491.7,334.1 494.6,338.8C497.6,343.5 499,349.7 503.4,351.2C507.8,352.7 515.8,346.4 521.1,347.6C526.4,348.8 530.8,353.5 535.2,358.2C539.6,362.9 545.2,372.8 547.6,375.9C550,379 548.9,376.6 549.5,376.9C550.2,377.2 550.8,377.6 551.5,377.9C552.1,378.3 552.8,378.6 553.4,378.9C554,379.3 554.7,379.6 555.3,379.9C556,380.3 556.6,380.6 557.3,381C557.9,381.3 558.6,381.7 559.2,382C559.8,382.3 560.5,382.4 561.1,382.8C561.8,383.2 562.4,383.9 563.1,384.2C563.7,384.6 564.3,384.3 565,385C565.7,385.7 566.3,388.2 567,388.5C567.7,388.7 568.3,387 569,386.6C569.7,386.1 570.3,385.2 571,385.6C571.7,385.9 572.3,387.8 573,388.7C573.7,389.6 574.3,390.6 575,391C575.7,391.4 576.3,391.1 577,391.3C577.7,391.5 578.3,391.9 579,392.2C579.7,392.4 580.3,392.7 581,392.9C581.7,393.1 582.3,393 583,393.3C583.7,393.7 584.4,394.2 585,395C585.6,395.8 586.2,397.9 586.9,398.2C587.5,398.5 588.1,397.3 588.8,396.7C589.4,396.1 590,394.7 590.6,394.6C591.2,394.5 591.9,395.4 592.5,396.1C593.1,396.7 593.8,397.9 594.4,398.5C595,399.1 595.6,399.3 596.2,399.6C596.9,400 597.5,400.6 598.1,400.6C598.8,400.7 599.4,400.2 600,400C600.6,399.8 601.2,399.6 601.9,399.5C602.5,399.3 603.1,398.6 603.7,399C604.3,399.3 604.9,400.7 605.5,401.4C606.2,402.1 606.8,403.2 607.4,403.2C608,403.3 608.6,402 609.2,401.5C609.9,400.9 610.5,400 611.1,400C611.7,399.9 612.3,400.7 613,401C613.6,401.4 614.2,401.9 614.8,402.2C615.4,402.6 616,403 616.6,403.1C617.3,403.2 616.3,401.1 618.5,402.6C620.7,404.1 626.4,409.8 630,412C633.6,414.2 638.2,415 640.2,415.7C642.2,416.4 641.4,416.1 642.1,416C642.7,416 643.3,415 643.9,415.4C644.5,415.8 645.1,417.3 645.8,418.4C646.4,419.5 647,421.1 647.6,421.8C648.2,422.5 648.8,422.5 649.5,422.8C650.1,423.1 650.7,423.4 651.3,423.7C651.9,423.9 652.5,424.3 653.1,424.5C653.8,424.7 654.4,425 655,425C655.6,425 656.2,424.3 656.8,424.6C657.4,425 658,426.7 658.7,427.4C659.3,428.1 659.9,428.8 660.5,428.8C661.1,428.8 661.7,427.7 662.3,427.3C662.9,427 663.5,426.5 664.1,426.7C664.7,427 665.4,428.2 666,428.9C666.6,429.7 667.2,430.7 667.8,431.3C668.4,431.8 669,431.9 669.6,432.3C670.2,432.6 670.8,433.2 671.4,433.5C672.1,433.7 672.7,433.8 673.3,433.7C673.9,433.7 674.5,433.5 675.1,433.2C675.7,432.9 676.3,431.7 677,431.9C677.6,432.2 678.2,434.1 678.8,434.9C679.4,435.8 680.1,436.7 680.7,437C681.3,437.3 681.9,436.6 682.5,436.5C683.2,436.5 683.8,436.3 684.4,436.7C685,437 685.7,437.9 686.3,438.4C686.9,438.9 687.5,439.5 688.1,439.7C688.8,440 687.6,439.4 690,440C692.4,440.6 700.3,442.4 702.7,443.3C705.1,444.2 704,444.9 704.6,445.5C705.3,446.2 705.9,446.9 706.5,447.3C707.2,447.7 707.8,447.6 708.5,448C709.1,448.4 709.7,448.9 710.4,449.8C711,450.7 711.7,452.5 712.3,453.2C713,453.8 713.6,453.9 714.2,453.9C714.9,453.8 715.5,452.7 716.2,452.8C716.8,452.9 717.4,453.7 718.1,454.5C718.7,455.4 719.4,457 720,458C720.6,459 721.2,459.5 721.8,460.2C722.4,460.9 723.1,461.5 723.7,462.2C724.3,462.8 724.9,463.7 725.5,464.1C726.1,464.4 726.7,464.4 727.4,464.3C728,464.3 728.6,463.5 729.2,463.8C729.8,464.1 730.4,465.1 731,466C731.6,466.9 732.3,468.8 732.9,469.4C733.5,469.9 734.1,469.4 734.7,469.5C735.3,469.6 735.9,469.8 736.5,470.2C737.2,470.7 737.8,471.5 738.4,472.3C739,473.1 739.6,474.2 740.2,475C740.9,475.8 741.5,476.4 742.1,477.3C742.7,478.2 743.3,479.3 743.9,480.3C744.5,481.2 745.2,482.5 745.8,482.9C746.4,483.4 747,483.1 747.6,483C748.2,482.9 748.8,482 749.5,482.3C750.1,482.7 750.7,483.9 751.3,485C751.9,486.1 752.5,488.1 753.2,489C753.8,489.8 754.4,489.5 755,490C755.6,490.5 756.3,491.2 757,491.8C757.7,492.4 758.3,493.1 759,493.5C759.7,494 760.3,494.1 761,494.6C761.7,495.1 762.3,495.7 763,496.6C763.7,497.6 764.3,499.5 765,500.4C765.7,501.3 766.3,501.9 767,501.9C767.7,501.9 768.3,500.5 769,500.4C769.7,500.4 770.3,500.7 771,501.5C771.7,502.4 772.3,504.6 773,505.5C773.7,506.4 774.3,506.4 775,507C775.7,507.6 776.3,508.7 776.9,509.3C777.6,509.8 778.2,510.2 778.8,510.2C779.5,510.2 780.1,509.4 780.8,509.3C781.4,509.1 782.1,508.7 782.7,509.2C783.3,509.8 784,511.5 784.6,512.6C785.3,513.6 785.9,515 786.5,515.3C787.2,515.6 787.8,514.6 788.5,514.2C789.1,513.9 789.7,513 790.4,513.2C791,513.4 791.7,514.6 792.3,515.3C792.9,516 793.6,516.7 794.2,517.4C794.9,518.1 795.5,518.6 796.2,519.3C796.8,520 797.4,521.3 798.1,521.5C798.7,521.6 799.3,520.5 800,520C800.7,519.5 801.3,518.2 802,518.2C802.7,518.2 803.3,519 804,520.1C804.7,521.2 805.3,523.7 806,524.7C806.7,525.6 807.3,525.8 808,525.9C808.7,525.9 809.3,524.9 810,524.9C810.7,524.9 811.3,525.5 812,525.8C812.7,526.1 813.3,526.2 814,526.6C814.7,527 815.3,527.4 816,528.3C816.7,529.1 817.3,531.3 818,531.6C818.7,531.9 819.3,530.5 820,530C820.7,529.5 821.3,528.4 822,528.3C822.6,528.2 823.3,528.5 823.9,529.6C824.6,530.6 825.2,533.2 825.9,534.5C826.5,535.8 827.2,536.8 827.8,537.4C828.5,538 829.1,537.7 829.8,537.9C830.4,538.1 831.1,538.6 831.8,538.7C832.4,538.7 833.1,538.1 833.7,538C834.4,538 835,537.6 835.7,538.3C836.3,539.1 837,541.3 837.6,542.3C838.3,543.4 838.9,544.6 839.6,544.6C840.2,544.6 840.9,542.4 841.5,542.5C842.2,542.5 842.8,544.5 843.5,545C844.2,545.5 844.8,544.9 845.5,545.5C846.1,546.1 846.8,547.9 847.4,548.7C848.1,549.4 848.7,549.7 849.4,550.1C850,550.5 850.7,551.3 851.4,551.2C852,551.1 852.7,550.2 853.3,549.6C854,548.9 854.6,547.3 855.3,547.4C855.9,547.5 856.6,549.1 857.2,550.2C857.9,551.3 858.6,553.4 859.2,554C859.9,554.6 860.5,553.8 861.2,553.7C861.8,553.5 862.5,552.6 863.1,552.9C863.8,553.1 864.5,554.4 865.1,555C865.7,555.6 866.3,555.8 867,556.2C867.6,556.6 868.2,556.8 868.8,557.3C869.4,557.8 870,558.7 870.6,559C871.3,559.2 871.9,559.4 872.5,558.7C873.1,558.1 873.7,556 874.4,555.1C875,554.3 875.6,553.5 876.2,553.9C876.8,554.2 877.4,556.1 878,557.1C878.7,558.1 879.3,559.3 879.9,559.8C880.5,560.2 881.1,559.7 881.8,559.7C882.4,559.7 883,559.7 883.6,559.8C884.2,559.9 884.8,560.2 885.4,560.2C886.1,560.3 887,560 887.3,560" stroke="#55ffaa"/>
<path d="M146,334.4C150,331.6 162.5,320.3 169.9,317.5C177.3,314.7 184.3,316.8 190.6,317.5C196.9,318.2 201.9,324.1 207.5,322C213.1,319.9 219,314.5 224.4,305C229.8,295.5 234.9,279.2 240,265C245.1,250.8 251,232.5 255,220C259,207.5 260,200 264,190C268,180 273,167.5 279,160C285,152.5 292.1,142 300,145C307.9,148 317.7,164.9 326.5,178C335.3,191.1 345.6,212.6 353,223.8C360.4,235 364.8,238.2 370.7,245C376.6,251.8 382.5,260 388.4,264.5C394.3,269 397.2,267 406.1,272C415,277 429.7,287.9 441.5,294.6C453.3,301.3 468,303.8 476.9,312C485.8,320.2 488.7,337.5 494.6,344C500.5,350.5 506.9,349.8 512.2,351C517.5,352.2 520.5,347.1 526.4,351.2C532.3,355.3 543.8,371.3 547.6,375.9C551.4,380.5 548.8,377.8 549.4,378.7C550,379.6 550.6,380.6 551.1,381.5C551.7,382.4 552.3,383.4 552.9,384.3C553.5,385.2 554.1,386.2 554.7,387.1C555.3,388 555.9,389 556.5,389.9C557.1,390.8 557.7,391.5 558.2,392.7C558.8,393.9 559.4,396.2 560,397.1C560.6,398 559.3,400.5 561.8,398.3C564.3,396.1 570.8,381.6 574.9,383.8C579,386 582.6,406.1 586.5,411.4C590.4,416.7 594.5,413.3 598.1,415.7C601.7,418.1 604.9,427.6 608.3,425.9C611.7,424.2 616.5,408.4 618.5,405.5C620.5,402.6 619.7,407.9 620.3,408.7C620.9,409.6 621.5,409.4 622.1,410.4C622.7,411.3 623.3,412.9 623.9,414.5C624.5,416 625.1,418.1 625.8,419.6C626.4,421.1 627,422.3 627.6,423.4C628.2,424.5 628.8,425.2 629.4,426.1C630,427 630.6,428 631.2,429C631.8,429.9 632.4,431.4 633,431.7C633.6,432 634.3,431.1 634.9,431.1C635.6,431 636.2,431 636.9,431.5C637.5,432 638.2,433.4 638.8,434.2C639.4,435 640.1,436.1 640.7,436.3C641.4,436.5 642,435.8 642.7,435.5C643.3,435.3 644,434.7 644.6,434.8C645.2,434.8 645.9,435.5 646.5,435.9C647.2,436.3 647.8,436.9 648.5,437.2C649.1,437.5 649.1,440.8 650.4,437.5C651.7,434.2 653.8,414.1 656.2,417.2C658.6,420.3 662.1,452 665,456.4C667.9,460.8 671.9,444.7 673.7,443.3C675.5,441.9 674.9,446.5 675.5,447.8C676.1,449.1 676.7,450.2 677.3,451C677.9,451.7 678.5,451.8 679.1,452.5C679.7,453.2 680.3,453.8 681,455C681.6,456.2 682.2,458.2 682.8,459.9C683.4,461.5 684,463.4 684.6,464.7C685.2,466 685.8,466.9 686.4,467.7C687,468.5 686.4,469.7 688.2,469.5C690,469.3 693.5,466.6 696.9,466.6C700.3,466.6 704.4,468.3 708.5,469.5C712.6,470.7 719.1,472.9 721.6,473.8C724.1,474.7 722.8,474.7 723.4,474.6C724,474.5 724.6,473.3 725.2,473C725.8,472.6 726.4,472.6 727,472.4C727.6,472.3 728.2,472 728.9,471.9C729.5,471.7 730.1,471.4 730.7,471.5C731.3,471.6 731.9,472 732.5,472.2C733.1,472.3 733.7,472.5 734.3,472.3C734.9,472.1 734.6,467 736.1,470.9C737.6,474.8 741.9,491.1 743.4,495.6C744.9,500.1 744.6,497.8 745.2,498.1C745.8,498.4 746.4,497.7 747,497.6C747.6,497.5 748.2,497.5 748.8,497.4C749.4,497.3 750,497 750.6,497C751.3,497.1 751.9,497 752.5,497.5C753.1,498 753.7,499.2 754.3,500C754.9,500.8 755.5,502.1 756.1,502.3C756.7,502.6 757.3,501.5 757.9,501.4C758.5,501.3 759.1,501.2 759.7,501.4C760.3,501.6 760.9,502 761.5,502.6C762.1,503.3 762.7,504.6 763.3,505.5C763.9,506.4 764.5,507.3 765.1,507.9C765.7,508.5 766.2,508.7 766.8,509C767.4,509.3 768,509.4 768.6,509.6C769.2,509.7 769.8,509.9 770.4,509.8C771,509.8 771.6,508.9 772.2,509.2C772.8,509.6 773.4,511.6 774,512C774.6,512.4 775.3,511.3 776,511.9C776.6,512.5 777.3,514.8 778,515.5C778.6,516.1 779.3,516 779.9,515.8C780.6,515.6 781.3,514.5 781.9,514.4C782.6,514.2 783.2,514.4 783.9,514.7C784.6,515.1 785.2,515.8 785.9,516.2C786.5,516.6 787.2,517 787.9,517.3C788.5,517.7 789.2,518.1 789.8,518.4C790.5,518.7 791.2,519.3 791.8,519.2C792.5,519.2 793.1,518.5 793.8,518C794.5,517.6 795.1,516.3 795.8,516.4C796.4,516.5 797.1,517.6 797.8,518.6C798.4,519.7 799.1,521.8 799.7,522.7C800.4,523.6 801.1,524 801.7,523.9C802.4,523.8 803,522.2 803.7,522C804.4,521.8 805,522.6 805.7,522.8C806.4,523 807,523.1 807.7,523.3C808.3,523.5 809,523.5 809.7,524C810.3,524.5 811,525.4 811.7,526.2C812.3,527 813,528.5 813.6,529C814.3,529.4 815,529.2 815.6,528.9C816.3,528.5 817,526.8 817.6,527C818.3,527.2 818.9,529.1 819.6,530C820.3,530.9 820.9,531.7 821.6,532.4C822.3,533.1 822.9,533.9 823.6,534.2C824.2,534.5 824.9,534.1 825.6,534.2C826.2,534.2 826.9,534.5 827.6,534.5C828.2,534.4 828.9,534.1 829.6,534C830.2,533.9 830.9,533.3 831.5,533.7C832.2,534.1 832.9,535.2 833.5,536.3C834.2,537.4 834.9,539.5 835.5,540.3C836.2,541.2 836.9,541.5 837.5,541.3C838.2,541.2 838.9,539.8 839.5,539.5C840.2,539.3 840.8,539.5 841.5,539.9C842.2,540.3 842.8,541.4 843.5,542C844.2,542.6 844.8,543 845.5,543.4C846.1,543.8 846.8,544 847.4,544.4C848.1,544.8 848.7,545.6 849.4,545.8C850,546 850.7,545.7 851.4,545.4C852,545.2 852.7,544.2 853.3,544.3C854,544.4 854.6,545 855.3,546C855.9,547 856.6,549.1 857.2,550.2C857.9,551.3 858.6,552.2 859.2,552.4C859.9,552.6 860.5,551.6 861.2,551.3C861.8,551 862.5,550.6 863.1,550.8C863.8,550.9 864.5,552.1 865.1,552C865.7,551.9 866.3,550.7 866.9,550.3C867.5,550 868.1,549.9 868.7,550.1C869.3,550.3 870,551.3 870.6,551.6C871.2,552 871.8,552.4 872.4,552.1C873,551.9 873.6,550.7 874.2,550C874.8,549.3 875.4,548.1 876,547.9C876.6,547.7 877.2,548.1 877.8,548.6C878.4,549 879.1,550.3 879.7,550.7C880.3,551.1 880.9,551.4 881.5,551C882.1,550.5 882.3,546.8 883.3,548C884.3,549.2 886.6,556.3 887.3,558" stroke="#aaff55"/>
<path d="M146,335.7C150,334.4 162.5,329.2 169.9,328C177.3,326.8 184.3,328.9 190.6,328.6C196.9,328.3 201.9,328.8 207.5,326C213.1,323.2 219,320.5 224.4,312C229.8,303.5 234.9,289.5 240,275C245.1,260.5 251,238.3 255,225C259,211.7 260,205.3 264,195C268,184.7 273,171.7 279,163C285,154.3 292.1,141.2 300,143C307.9,144.8 319.1,162.9 326.5,174C333.9,185.1 338.3,199 344.2,209.7C350.1,220.4 356,229.2 361.9,238C367.8,246.8 373.7,256.2 379.6,262.7C385.5,269.2 391.4,271 397.3,276.9C403.2,282.8 409.1,293.7 415,298.1C420.9,302.5 426.7,301.3 432.6,303.4C438.5,305.5 444.4,307.3 450.3,310.5C456.2,313.7 463.6,318.7 468,322.8C472.4,326.9 472.5,329.6 476.9,335.2C481.3,340.8 488.7,351.5 494.6,356.5C500.5,361.5 506.3,363.2 512.2,365.3C518.1,367.4 525.3,367.7 529.9,368.8C534.5,369.9 538,371.1 540,372.1C542,373.1 541.3,373.9 542,374.9C542.6,375.8 543.3,376.7 544,377.6C544.6,378.6 545.3,379.5 545.9,380.4C546.6,381.3 547.3,382.3 547.9,383.2C548.6,384.1 549.2,385 549.9,386C550.6,386.9 551.2,387.8 551.9,388.7C552.6,389.7 553.2,390.6 553.9,391.5C554.5,392.4 555.2,393.4 555.9,394.3C556.5,395.2 557.2,396.1 557.8,397.1C558.5,398 559.2,398.9 559.8,399.8C560.5,400.8 559.8,402.4 561.8,402.6C563.8,402.8 570,400.9 572,401.2C574,401.5 573.2,403.3 573.9,404.6C574.5,405.8 575.1,407.8 575.7,408.6C576.3,409.4 577,409 577.6,409.2C578.2,409.5 578.8,409.4 579.5,410.1C580.1,410.9 580.7,412.5 581.3,413.8C581.9,415 582.6,416.5 583.2,417.6C583.8,418.7 584.4,419.4 585,420.3C585.7,421.3 586.3,422.3 586.9,423.1C587.5,424 588.2,424.9 588.8,425.4C589.4,425.8 590,425.6 590.6,425.9C591.3,426.1 591.9,426.1 592.5,427.1C593.1,428.1 593.8,430 594.4,431.7C595,433.4 595.6,436.2 596.2,437.2C596.9,438.1 596.1,438.4 598.1,437.5C600.1,436.6 606.3,432.3 608.3,431.7C610.3,431.1 609.6,433.9 610.3,434.1C610.9,434.4 611.6,433.2 612.2,433.2C612.9,433.2 613.6,433.2 614.2,434.1C614.9,435 615.5,437.3 616.2,438.6C616.8,439.9 617.5,441.5 618.2,442.1C618.8,442.8 619.5,442.4 620.1,442.6C620.8,442.8 621.5,443.1 622.1,443.3C622.8,443.6 623.4,444 624.1,444.2C624.7,444.4 625.4,444.1 626.1,444.6C626.7,445 627.4,446 628,446.7C628.7,447.5 627.7,448.5 630,449.1C632.3,449.7 637.8,449.2 641.7,450.6C645.6,452.1 649.7,454.7 653.3,457.8C656.9,460.9 660.1,469.2 663.5,469.5C666.9,469.8 670.1,458.3 673.7,459.3C677.3,460.3 683.1,472.2 685.3,475.3C687.5,478.4 686.5,477.4 687.1,477.6C687.7,477.9 688.3,476.8 688.9,476.8C689.5,476.8 690.1,476.9 690.7,477.6C691.3,478.3 691.9,479.9 692.5,480.9C693.2,482 693.8,483.2 694.4,484C695,484.7 695.6,484.9 696.2,485.4C696.8,485.8 697.4,486.3 698,486.5C698.6,486.8 698.3,489.3 699.8,486.9C701.3,484.5 705.5,474.5 707.1,472.4C708.7,470.3 708.4,474.2 709.1,474.5C709.8,474.8 710.4,473.9 711.1,474.2C711.8,474.5 712.4,475.5 713.1,476.3C713.8,477 714.4,478.1 715.1,478.8C715.8,479.5 716.4,479.8 717.1,480.4C717.8,480.9 718.4,481.7 719.1,482.3C719.8,482.9 720.4,483.4 721.1,483.7C721.8,484 721.3,483 723.1,484C724.9,485 729,488.1 731.8,489.8C734.6,491.5 737.3,490.2 740,494C742.7,497.8 745.2,511 748,512.3C750.8,513.6 754.2,502.4 757,502C759.8,501.6 762.2,507.7 765,510C767.8,512.3 770.6,514.6 774,515.7C777.4,516.9 781.7,515.4 785.5,516.9C789.3,518.4 793.1,522.5 796.9,524.8C800.7,527.1 804.5,528.4 808.3,530.5C812.1,532.6 815.8,535.1 819.6,537.4C823.4,539.7 827.2,542.5 831,544.2C834.8,545.9 838.6,546.9 842.4,547.6C846.2,548.4 850,547.2 853.8,548.7C857.6,550.2 861.3,555 865.1,556.7C868.9,558.4 872.8,559 876.5,559C880.2,559 885.5,557.1 887.3,556.7" stroke="#ffff00"/>
<path d="M146,339.6C150,338.8 162.5,335.4 169.9,335C177.3,334.6 184.3,337.2 190.6,337C196.9,336.8 201.9,337.2 207.5,334C213.1,330.8 219,326.7 224.4,318C229.8,309.3 234.9,295.8 240,282C245.1,268.2 251,247.8 255,235C259,222.2 260,214.5 264,205C268,195.5 273,185.8 279,178C285,170.2 293.6,159.2 300,158C306.4,156.8 311.8,163.9 317.7,170.7C323.6,177.5 329.5,187.2 335.4,199C341.3,210.8 347.1,230 353,241.5C358.9,253 364.8,260.1 370.7,268C376.6,275.9 382.5,284.2 388.4,289.2C394.3,294.2 400.2,293.4 406.1,298.1C412,302.8 417.9,314.3 423.8,317.5C429.7,320.7 435.6,315.7 441.5,317.5C447.4,319.3 453.3,323.8 459.2,328.2C465.1,332.6 471,338.1 476.9,344C482.8,349.9 488.7,357.9 494.6,363.5C500.5,369.1 504.6,374.3 512.2,377.7C519.8,381.1 535,382.4 540,383.8C545,385.2 541.3,385.5 541.9,386.4C542.5,387.2 543.2,388.1 543.8,388.9C544.4,389.8 545.1,390.7 545.7,391.5C546.3,392.4 547,393.2 547.6,394.1C548.2,394.9 548.9,395.8 549.5,396.6C550.1,397.5 550.8,398.4 551.4,399.2C552,400.1 552.7,400.9 553.3,401.8C553.9,402.6 554.6,403.5 555.2,404.4C555.8,405.2 556.5,406.1 557.1,406.9C557.7,407.8 558.4,408.4 559,409.5C559.6,410.6 560.3,412.6 560.9,413.4C561.5,414.1 562.2,413.4 562.8,414C563.4,414.6 564.1,416.4 564.7,417.2C565.4,418 566,418.2 566.7,418.6C567.4,418.9 568,419.2 568.7,419.3C569.4,419.4 570,419.1 570.7,419.1C571.4,419.1 572,419.5 572.7,419.4C573.4,419.4 574,419.2 574.7,418.8C575.4,418.4 576,417.3 576.7,417.2C577.4,417 578,417.3 578.7,417.8C579.4,418.2 580,419 580.7,420.1C581.4,421.2 582,423.6 582.6,424.5C583.3,425.4 583.9,425 584.6,425.4C585.2,425.7 585.9,426.1 586.5,426.8C587.1,427.5 587.8,428.8 588.4,429.6C589.1,430.5 589.7,431 590.4,431.6C591,432.3 591.7,432.6 592.3,433.5C592.9,434.3 593.6,435.6 594.2,436.6C594.9,437.5 595.5,438.4 596.2,439C596.8,439.6 596.1,441.9 598.1,440.4C600.1,438.9 604.4,429.2 608.3,430.2C612.2,431.2 618.9,443.5 621.4,446.2C623.9,448.9 622.6,446 623.2,446.7C623.8,447.4 624.4,449.2 625,450.3C625.6,451.4 626.2,452.4 626.8,453.1C627.4,453.9 628,454.1 628.6,454.6C629.3,455.2 629.9,455.8 630.5,456.4C631.1,457 631.7,457.8 632.3,458.1C632.9,458.3 633.5,457.7 634.1,458.1C634.7,458.6 635.3,460.2 635.9,460.8C636.5,461.4 637.1,460.6 637.7,461.4C638.3,462.2 638.9,464.5 639.5,465.5C640.1,466.5 640.7,467.2 641.3,467.5C641.9,467.8 642.5,467.3 643.1,467.4C643.8,467.5 644.4,467.7 645,468.1C645.6,468.6 646.2,469.7 646.8,470.4C647.4,471.1 648,471.9 648.6,472.4C649.2,473 648.6,474.1 650.4,473.8C652.2,473.5 655.7,469.9 659.1,470.9C662.5,471.9 668.5,478.3 670.8,479.6C673.1,480.9 672,478.5 672.6,478.6C673.2,478.7 673.8,479.7 674.4,480.2C675,480.7 675.6,481.7 676.2,481.7C676.8,481.7 677.4,480.9 678,480.3C678.7,479.6 679.3,478.3 679.9,477.9C680.5,477.6 681.1,477.8 681.7,478.2C682.3,478.6 682.9,480.1 683.5,480.3C684.1,480.6 684.7,479.2 685.3,479.6C685.9,480 686.5,482.1 687.1,482.8C687.7,483.6 688.3,483.7 688.9,484.2C689.5,484.6 690.1,485.2 690.7,485.5C691.3,485.9 691.9,485.9 692.5,486.2C693.2,486.5 693.8,486.6 694.4,487.4C695,488.3 695.6,489.8 696.2,491.2C696.8,492.6 697.4,495.1 698,495.9C698.6,496.6 697.6,497.6 699.8,495.6C702,493.6 709.2,485.6 711.4,484C713.6,482.4 712.6,485.6 713.2,485.9C713.8,486.2 714.4,485.6 715,485.8C715.7,486 716.3,486.1 716.9,487C717.5,487.9 718.1,489.8 718.7,491.3C719.3,492.8 719.9,494.8 720.5,495.8C721.1,496.8 721.7,496.9 722.4,497.1C723,497.3 723.6,496.8 724.2,497C724.8,497.2 725.4,498.4 726,498.5C726.6,498.6 727.2,497.8 727.8,497.5C728.4,497.1 729,496.7 729.6,496.4C730.2,496.1 730.8,495.9 731.4,495.9C732,495.9 732.6,496.3 733.2,496.3C733.9,496.3 734.5,496.4 735.1,495.9C735.7,495.4 736.3,494.1 736.9,493.3C737.5,492.6 738.1,491.4 738.7,491.3C739.3,491.1 738.7,487.6 740.5,492.7C742.3,497.8 746.3,518.4 749.2,521.8C752.1,525.2 755.2,510.9 757.9,513.1C760.6,515.3 762.8,534.2 765.2,534.9C767.6,535.6 769.2,517.9 772.5,517.4C775.8,516.9 782.6,529.3 785,532C787.4,534.7 786.2,533.2 786.9,533.5C787.5,533.8 788.1,533.5 788.8,533.6C789.4,533.8 790,534.2 790.6,534.6C791.2,535 791.9,535.9 792.5,536.1C793.1,536.3 793.8,535.9 794.4,535.6C795,535.3 795.6,534.2 796.2,534.1C796.9,534.1 797.5,534.6 798.1,535.3C798.8,535.9 799.4,537 800,538C800.6,539 801.2,540.8 801.9,541.4C802.5,541.9 803.1,541.3 803.8,541.2C804.4,541.1 805,540.9 805.6,541C806.2,541.1 806.9,541.7 807.5,541.8C808.1,542 808.8,541.9 809.4,541.9C810,541.9 810.6,541.4 811.2,541.8C811.9,542.2 812.5,543.7 813.1,544.2C813.8,544.7 814.4,544.6 815,545C815.6,545.4 816.2,546.4 816.9,546.4C817.5,546.4 818.1,545 818.8,545C819.4,544.9 820,545.5 820.6,546.3C821.2,547.1 821.9,548.7 822.5,549.5C823.1,550.3 823.8,550.9 824.4,551.2C825,551.5 825.6,551.3 826.2,551.4C826.9,551.5 827.5,551.9 828.1,552C828.8,552.1 829.4,552.4 830,552C830.6,551.6 831.2,550.4 831.9,549.9C832.5,549.3 833.1,548.5 833.8,548.6C834.4,548.8 835,550.2 835.6,550.8C836.2,551.4 836.9,552.5 837.5,552.5C838.1,552.4 838.8,551.4 839.4,550.7C840,550 840.6,548.7 841.2,548.2C841.9,547.7 842.5,547.9 843.1,547.9C843.8,547.8 844.4,547.7 845,548C845.6,548.3 846.2,549.2 846.9,549.8C847.5,550.4 848.1,550.8 848.8,551.5C849.4,552.2 850,553.4 850.6,553.9C851.2,554.4 851.9,554.7 852.5,554.7C853.1,554.6 853.8,553.5 854.4,553.5C855,553.5 855.6,553.7 856.2,554.7C856.9,555.7 857.5,558.4 858.1,559.3C858.8,560.2 859.4,559.5 860,560C860.6,560.5 861.2,562 861.9,562.2C862.5,562.4 863.1,561.4 863.8,561.3C864.4,561.2 865,561.4 865.6,561.5C866.2,561.6 866.9,561.5 867.5,561.6C868.1,561.7 868.8,561.5 869.4,561.8C870,562.2 870.6,563.1 871.2,563.9C871.9,564.6 872.5,566.3 873.1,566.5C873.8,566.7 872.6,565.8 875,565C877.4,564.2 885.2,562.5 887.3,562" stroke="#ffaa00"/>
<path d="M146,336.4C150,335.8 162.5,332.9 169.9,333.1C177.3,333.3 184.3,337.8 190.6,337.7C196.9,337.6 201.9,336.1 207.5,332.5C213.1,328.9 219,324.8 224.4,316C229.8,307.2 234.9,293.8 240,280C245.1,266.2 251,245.5 255,233C259,220.5 260,214.2 264,205C268,195.8 273,186 279,178C285,170 293.6,157.6 300,157C306.4,156.4 311.8,166.1 317.7,174.3C323.6,182.5 329.5,193.1 335.4,206.1C341.3,219.1 347.1,240 353,252.1C358.9,264.2 364.8,270.4 370.7,278.6C376.6,286.9 382.5,296.3 388.4,301.6C394.3,306.9 400.2,307.6 406.1,310.5C412,313.4 417.9,317.2 423.8,319.3C429.7,321.4 435.6,321 441.5,322.8C447.4,324.6 453.3,326.1 459.2,329.9C465.1,333.7 471,340.5 476.9,345.8C482.8,351.1 488.7,356.8 494.6,361.8C500.5,366.8 504.6,370.8 512.2,375.9C519.8,381 532.5,386.6 540,392.5C547.5,398.4 554.2,407.8 557.4,411.4C560.6,415 558.6,413.4 559.2,414.3C559.8,415.2 560.4,416 561,416.9C561.7,417.9 562.3,419.1 562.9,420.2C563.5,421.3 564.1,422.9 564.7,423.7C565.3,424.6 565.9,424.8 566.5,425.4C567.1,425.9 567.7,425.9 568.4,427.1C569,428.2 569.6,431.1 570.2,432.3C570.8,433.6 570,435.2 572,434.6C574,434 578.2,428.8 582.1,428.8C586,428.8 591.3,435.1 595.2,434.6C599.1,434.1 603.4,427.1 605.4,425.9C607.4,424.7 606.7,426.6 607.4,427.4C608.1,428.2 608.7,429.7 609.4,430.6C610.1,431.6 610.7,432.2 611.4,432.9C612.1,433.6 612.7,434 613.4,434.7C614.1,435.4 614.7,436.6 615.4,437.2C616.1,437.7 616.7,437.7 617.4,438C618.1,438.4 618.7,438.3 619.4,439.2C620.1,440.1 620.8,441.9 621.4,443.3C622,444.7 622.6,446.8 623.2,447.5C623.9,448.2 624.5,447.4 625.1,447.4C625.7,447.5 626.3,447.4 626.9,447.8C627.6,448.1 628.2,449 628.8,449.5C629.4,449.9 630,449.9 630.6,450.4C631.2,450.9 631.9,451.6 632.5,452.4C633.1,453.3 633.7,454.9 634.3,455.6C634.9,456.3 635.5,456.6 636.2,456.7C636.8,456.8 637.4,455.9 638,456.2C638.6,456.5 639.2,457.6 639.9,458.4C640.5,459.2 639.7,456.5 641.7,460.8C643.7,465.1 648.8,482.1 651.9,484C655,485.9 657.5,472.9 660.6,472.4C663.8,471.9 668.8,479.4 670.8,481.1C672.8,482.8 672,482.3 672.6,482.7C673.2,483.1 673.8,483.8 674.4,483.6C675,483.4 675.6,482 676.2,481.4C676.8,480.8 677.4,480.2 678,480.1C678.7,479.9 679.3,480.4 679.9,480.4C680.5,480.5 681.1,480.4 681.7,480.5C682.3,480.6 682.9,481.1 683.5,481.2C684.1,481.3 682.8,476.8 685.3,481.1C687.8,485.4 694,505.5 698.4,507.2C702.8,508.9 708.9,493.4 711.4,491.3C713.9,489.2 712.7,493.7 713.4,494.3C714.1,495 714.7,494.9 715.4,495.4C716.1,495.8 716.7,496.5 717.4,496.9C718.1,497.3 718.7,497.1 719.4,497.6C720.1,498.1 720.7,498.5 721.4,499.9C722.1,501.2 722.7,504.2 723.4,505.5C724.1,506.9 724.7,507.7 725.4,508C726.1,508.3 725.6,509.5 727.4,507.2C729.2,504.9 734,495.6 736.1,494.2C738.2,492.8 737.6,493 740,498.7C742.4,504.4 747.4,526 750.2,528.3C753,530.6 754.9,512.1 757,512.3C759.1,512.5 760.7,530 762.8,529.4C764.9,528.8 767.5,508.1 769.6,508.9C771.7,509.7 773.6,528.9 775.3,534C777,539.1 778.1,540.2 779.8,539.6C781.5,539 783.8,530.7 785.5,530.5C787.2,530.3 788.7,538.5 790,538.5C791.3,538.5 792,531.2 793.5,530.5C795,529.8 797.5,531.1 799.2,534C800.9,536.9 801.8,545.5 803.7,547.6C805.6,549.7 808.6,547.3 810.5,546.5C812.4,545.7 812.7,540.7 815,543C817.3,545.3 821.2,558.8 824.2,560.1C827.2,561.4 830.6,553.3 833.3,551C835.9,548.7 838,547.8 840.1,546.5C842.2,545.2 843.9,541.3 845.8,543C847.7,544.7 849.2,553.9 851.5,556.7C853.8,559.6 857.2,558.2 859.5,560.1C861.8,562 863.2,567.6 865.1,568C867,568.4 868.5,565.6 870.8,562.4C873.1,559.2 876.9,548.3 878.8,548.7C880.7,549.1 880.8,562.8 882.2,564.7C883.6,566.6 886.4,560.9 887.3,560.1" stroke="#ff5500"/>
</g>
<rect x="264" y="56.4" width="3" height="593.6" fill="#ff5500"/>
<rect x="267" y="56.4" width="1" height="593.6" fill="#3a1a00"/>
<rect x="268" y="56.4" width="2.5" height="593.6" fill="#ffff00"/>
<rect x="270.5" y="56.4" width="1.5" height="593.6" fill="#aaff55"/>
<rect x="272" y="56.4" width="1.5" height="593.6" fill="#3c9a68"/>
<rect x="273.5" y="56.4" width="1.5" height="593.6" fill="#00c8c8"/>
<rect x="275" y="56.4" width="1" height="593.6" fill="#001a70"/>
<rect x="276" y="56.4" width="3" height="593.6" fill="#00008c"/>
<line x1="290.1" y1="57.4" x2="290.1" y2="650" stroke="#000" stroke-width="2.4" stroke-dasharray="2.4 2.0"/>
<line x1="308.2" y1="56.4" x2="308.2" y2="650" stroke="#111" stroke-width="2"/>
<line x1="460.4" y1="61.4" x2="460.4" y2="650" stroke="#000" stroke-width="2.2" stroke-dasharray="8.5 4.8"/>
<line x1="468.6" y1="56.4" x2="468.6" y2="650" stroke="#111" stroke-width="2"/>
<rect x="776.1" y="56.4" width="4.6" height="593.6" fill="#2a2a2a"/>
<rect x="777.1" y="56.4" width="2.6" height="593.6" fill="#0000aa"/>
<rect x="788.7" y="56.4" width="4.6" height="593.6" fill="#2a2a2a"/>
<rect x="789.7" y="56.4" width="2.6" height="593.6" fill="#0000ff"/>
<rect x="798.9" y="56.4" width="4.6" height="593.6" fill="#2a2a2a"/>
<rect x="799.9" y="56.4" width="2.6" height="593.6" fill="#0055ff"/>
<rect x="818.1" y="56.4" width="4.6" height="593.6" fill="#2a2a2a"/>
<rect x="819.1" y="56.4" width="2.6" height="593.6" fill="#00aaff"/>
<rect x="837.1" y="56.4" width="4.6" height="593.6" fill="#2a2a2a"/>
<rect x="838.1" y="56.4" width="2.6" height="593.6" fill="#00ffff"/>
<rect x="853.1" y="56.4" width="4.6" height="593.6" fill="#2a2a2a"/>
<rect x="854.1" y="56.4" width="2.6" height="593.6" fill="#55ffaa"/>
<rect x="869.9" y="56.4" width="4.6" height="593.6" fill="#2a2a2a"/>
<rect x="870.9" y="56.4" width="2.6" height="593.6" fill="#aaff55"/>
<rect x="887.3" y="56.4" width="4.6" height="593.6" fill="#2a2a2a"/>
<rect x="888.3" y="56.4" width="2.6" height="593.6" fill="#ffff00"/>
<rect x="900.3" y="56.4" width="4.6" height="593.6" fill="#2a2a2a"/>
<rect x="901.3" y="56.4" width="2.6" height="593.6" fill="#ffaa00"/>
<rect x="910.7" y="56.4" width="4.6" height="593.6" fill="#2a2a2a"/>
<rect x="911.7" y="56.4" width="2.6" height="593.6" fill="#ff5500"/>
<rect x="146" y="56.4" width="775.6" height="593.6" fill="none" stroke="#a6a6a6" stroke-width="1.5"/>
<line x1="146" y1="588.5" x2="150.5" y2="588.5" stroke="#a6a6a6" stroke-width="1.3"/>
<line x1="921.6" y1="588.5" x2="917.1" y2="588.5" stroke="#a6a6a6" stroke-width="1.3"/>
<line x1="146" y1="552.5" x2="150.5" y2="552.5" stroke="#a6a6a6" stroke-width="1.3"/>
<line x1="921.6" y1="552.5" x2="917.1" y2="552.5" stroke="#a6a6a6" stroke-width="1.3"/>
<line x1="146" y1="527" x2="150.5" y2="527" stroke="#a6a6a6" stroke-width="1.3"/>
<line x1="921.6" y1="527" x2="917.1" y2="527" stroke="#a6a6a6" stroke-width="1.3"/>
<line x1="146" y1="507.2" x2="150.5" y2="507.2" stroke="#a6a6a6" stroke-width="1.3"/>
<line x1="921.6" y1="507.2" x2="917.1" y2="507.2" stroke="#a6a6a6" stroke-width="1.3"/>
<line x1="146" y1="491" x2="150.5" y2="491" stroke="#a6a6a6" stroke-width="1.3"/>
<line x1="921.6" y1="491" x2="917.1" y2="491" stroke="#a6a6a6" stroke-width="1.3"/>
<line x1="146" y1="477.3" x2="150.5" y2="477.3" stroke="#a6a6a6" stroke-width="1.3"/>
<line x1="921.6" y1="477.3" x2="917.1" y2="477.3" stroke="#a6a6a6" stroke-width="1.3"/>
<line x1="146" y1="465.5" x2="150.5" y2="465.5" stroke="#a6a6a6" stroke-width="1.3"/>
<line x1="921.6" y1="465.5" x2="917.1" y2="465.5" stroke="#a6a6a6" stroke-width="1.3"/>
<line x1="146" y1="455" x2="150.5" y2="455" stroke="#a6a6a6" stroke-width="1.3"/>
<line x1="921.6" y1="455" x2="917.1" y2="455" stroke="#a6a6a6" stroke-width="1.3"/>
<line x1="146" y1="445.7" x2="154" y2="445.7" stroke="#a6a6a6" stroke-width="1.3"/>
<line x1="921.6" y1="445.7" x2="913.6" y2="445.7" stroke="#a6a6a6" stroke-width="1.3"/>
<line x1="146" y1="384.2" x2="150.5" y2="384.2" stroke="#a6a6a6" stroke-width="1.3"/>
<line x1="921.6" y1="384.2" x2="917.1" y2="384.2" stroke="#a6a6a6" stroke-width="1.3"/>
<line x1="146" y1="348.2" x2="150.5" y2="348.2" stroke="#a6a6a6" stroke-width="1.3"/>
<line x1="921.6" y1="348.2" x2="917.1" y2="348.2" stroke="#a6a6a6" stroke-width="1.3"/>
<line x1="146" y1="322.7" x2="150.5" y2="322.7" stroke="#a6a6a6" stroke-width="1.3"/>
<line x1="921.6" y1="322.7" x2="917.1" y2="322.7" stroke="#a6a6a6" stroke-width="1.3"/>
<line x1="146" y1="302.9" x2="150.5" y2="302.9" stroke="#a6a6a6" stroke-width="1.3"/>
<line x1="921.6" y1="302.9" x2="917.1" y2="302.9" stroke="#a6a6a6" stroke-width="1.3"/>
<line x1="146" y1="286.7" x2="150.5" y2="286.7" stroke="#a6a6a6" stroke-width="1.3"/>
<line x1="921.6" y1="286.7" x2="917.1" y2="286.7" stroke="#a6a6a6" stroke-width="1.3"/>
<line x1="146" y1="273" x2="150.5" y2="273" stroke="#a6a6a6" stroke-width="1.3"/>
<line x1="921.6" y1="273" x2="917.1" y2="273" stroke="#a6a6a6" stroke-width="1.3"/>
<line x1="146" y1="261.2" x2="150.5" y2="261.2" stroke="#a6a6a6" stroke-width="1.3"/>
<line x1="921.6" y1="261.2" x2="917.1" y2="261.2" stroke="#a6a6a6" stroke-width="1.3"/>
<line x1="146" y1="250.7" x2="150.5" y2="250.7" stroke="#a6a6a6" stroke-width="1.3"/>
<line x1="921.6" y1="250.7" x2="917.1" y2="250.7" stroke="#a6a6a6" stroke-width="1.3"/>
<line x1="146" y1="241.4" x2="154" y2="241.4" stroke="#a6a6a6" stroke-width="1.3"/>
<line x1="921.6" y1="241.4" x2="913.6" y2="241.4" stroke="#a6a6a6" stroke-width="1.3"/>
<line x1="146" y1="179.9" x2="150.5" y2="179.9" stroke="#a6a6a6" stroke-width="1.3"/>
<line x1="921.6" y1="179.9" x2="917.1" y2="179.9" stroke="#a6a6a6" stroke-width="1.3"/>
<line x1="146" y1="143.9" x2="150.5" y2="143.9" stroke="#a6a6a6" stroke-width="1.3"/>
<line x1="921.6" y1="143.9" x2="917.1" y2="143.9" stroke="#a6a6a6" stroke-width="1.3"/>
<line x1="146" y1="118.4" x2="150.5" y2="118.4" stroke="#a6a6a6" stroke-width="1.3"/>
<line x1="921.6" y1="118.4" x2="917.1" y2="118.4" stroke="#a6a6a6" stroke-width="1.3"/>
<line x1="146" y1="98.6" x2="150.5" y2="98.6" stroke="#a6a6a6" stroke-width="1.3"/>
<line x1="921.6" y1="98.6" x2="917.1" y2="98.6" stroke="#a6a6a6" stroke-width="1.3"/>
<line x1="146" y1="82.4" x2="150.5" y2="82.4" stroke="#a6a6a6" stroke-width="1.3"/>
<line x1="921.6" y1="82.4" x2="917.1" y2="82.4" stroke="#a6a6a6" stroke-width="1.3"/>
<line x1="146" y1="68.7" x2="150.5" y2="68.7" stroke="#a6a6a6" stroke-width="1.3"/>
<line x1="921.6" y1="68.7" x2="917.1" y2="68.7" stroke="#a6a6a6" stroke-width="1.3"/>
<line x1="189.6" y1="650" x2="189.6" y2="663.5" stroke="#333" stroke-width="1.4"/>
<line x1="189.6" y1="56.4" x2="189.6" y2="61.4" stroke="#a6a6a6" stroke-width="1.3"/>
<line x1="225.4" y1="650" x2="225.4" y2="663.5" stroke="#333" stroke-width="1.4"/>
<line x1="225.4" y1="56.4" x2="225.4" y2="61.4" stroke="#a6a6a6" stroke-width="1.3"/>
<line x1="256.5" y1="650" x2="256.5" y2="663.5" stroke="#333" stroke-width="1.4"/>
<line x1="256.5" y1="56.4" x2="256.5" y2="61.4" stroke="#a6a6a6" stroke-width="1.3"/>
<line x1="283.8" y1="650" x2="283.8" y2="663.5" stroke="#333" stroke-width="1.4"/>
<line x1="283.8" y1="56.4" x2="283.8" y2="61.4" stroke="#a6a6a6" stroke-width="1.3"/>
<line x1="308.3" y1="650" x2="308.3" y2="663.5" stroke="#333" stroke-width="1.4"/>
<line x1="308.3" y1="56.4" x2="308.3" y2="61.4" stroke="#a6a6a6" stroke-width="1.3"/>
<line x1="468.7" y1="650" x2="468.7" y2="663.5" stroke="#333" stroke-width="1.4"/>
<line x1="468.7" y1="56.4" x2="468.7" y2="61.4" stroke="#a6a6a6" stroke-width="1.3"/>
<line x1="563.3" y1="650" x2="563.3" y2="663.5" stroke="#333" stroke-width="1.4"/>
<line x1="563.3" y1="56.4" x2="563.3" y2="61.4" stroke="#a6a6a6" stroke-width="1.3"/>
<line x1="630" y1="650" x2="630" y2="663.5" stroke="#333" stroke-width="1.4"/>
<line x1="630" y1="56.4" x2="630" y2="61.4" stroke="#a6a6a6" stroke-width="1.3"/>
<line x1="682.4" y1="650" x2="682.4" y2="663.5" stroke="#333" stroke-width="1.4"/>
<line x1="682.4" y1="56.4" x2="682.4" y2="61.4" stroke="#a6a6a6" stroke-width="1.3"/>
<line x1="724.6" y1="650" x2="724.6" y2="663.5" stroke="#333" stroke-width="1.4"/>
<line x1="724.6" y1="56.4" x2="724.6" y2="61.4" stroke="#a6a6a6" stroke-width="1.3"/>
<line x1="760.6" y1="650" x2="760.6" y2="663.5" stroke="#333" stroke-width="1.4"/>
<line x1="760.6" y1="56.4" x2="760.6" y2="61.4" stroke="#a6a6a6" stroke-width="1.3"/>
<line x1="801.6" y1="650" x2="801.6" y2="663.5" stroke="#333" stroke-width="1.4"/>
<line x1="801.6" y1="56.4" x2="801.6" y2="61.4" stroke="#a6a6a6" stroke-width="1.3"/>
<line x1="843.6" y1="650" x2="843.6" y2="663.5" stroke="#333" stroke-width="1.4"/>
<line x1="843.6" y1="56.4" x2="843.6" y2="61.4" stroke="#a6a6a6" stroke-width="1.3"/>
<line x1="882.4" y1="650" x2="882.4" y2="663.5" stroke="#333" stroke-width="1.4"/>
<line x1="882.4" y1="56.4" x2="882.4" y2="61.4" stroke="#a6a6a6" stroke-width="1.3"/>
<text x="308.3" y="710.4" font-family="'Liberation Serif', serif" font-size="46.5" fill="#000" text-anchor="middle">1</text>
<text x="468.7" y="710.4" font-family="'Liberation Serif', serif" font-size="46.5" fill="#000" text-anchor="middle">2</text>
<text x="563.3" y="710.4" font-family="'Liberation Serif', serif" font-size="46.5" fill="#000" text-anchor="middle">3</text>
<text x="630" y="710.4" font-family="'Liberation Serif', serif" font-size="46.5" fill="#000" text-anchor="middle">4</text>
<text x="682.4" y="710.4" font-family="'Liberation Serif', serif" font-size="46.5" fill="#000" text-anchor="middle">5</text>
<text x="724.6" y="710.4" font-family="'Liberation Serif', serif" font-size="46.5" fill="#000" text-anchor="middle">6</text>
<text x="760.6" y="710.4" font-family="'Liberation Serif', serif" font-size="46.5" fill="#000" text-anchor="middle">7</text>
<text x="801.6" y="710.4" font-family="'Liberation Serif', serif" font-size="46.5" fill="#000" text-anchor="middle">8</text>
<text x="843.6" y="710.4" font-family="'Liberation Serif', serif" font-size="46.5" fill="#000" text-anchor="middle">9</text>
<text x="882.4" y="710.4" font-family="'Liberation Serif', serif" font-size="46.5" fill="#000" text-anchor="middle">10</text>
<text x="65.2" y="670.2" font-family="'DejaVu Sans', 'Liberation Sans', sans-serif" font-size="39.5" fill="#262626">10<tspan dy="-20.3" dx="-0.6" font-size="31">0</tspan></text>
<text x="65.2" y="466" font-family="'DejaVu Sans', 'Liberation Sans', sans-serif" font-size="39.5" fill="#262626">10<tspan dy="-20.3" dx="-0.6" font-size="31">1</tspan></text>
<text x="65.2" y="261.6" font-family="'DejaVu Sans', 'Liberation Sans', sans-serif" font-size="39.5" fill="#262626">10<tspan dy="-20.3" dx="-0.6" font-size="31">2</tspan></text>
<text x="152.3" y="102.3" font-family="'DejaVu Sans', 'Liberation Sans', sans-serif" font-size="45" fill="#000" font-weight="bold">[a]</text>
<text x="253.2" y="50.7" font-family="'DejaVu Sans', 'Liberation Sans', sans-serif" font-size="29" fill="#000">O1</text>
<text x="305.5" y="50.7" font-family="'DejaVu Sans', 'Liberation Sans', sans-serif" font-size="29" fill="#000">K1</text>
<text x="410" y="92.7" font-family="'DejaVu Sans', 'Liberation Sans', sans-serif" font-size="29" fill="#000">S2</text>
<text x="473.5" y="92.7" font-family="'DejaVu Sans', 'Liberation Sans', sans-serif" font-size="29" fill="#000">M2</text>
<text x="357.6" y="39.1" font-family="'Liberation Serif', serif" font-size="48.5" fill="#000" textLength="415.9" lengthAdjust="spacingAndGlyphs">Displacement spectra</text>
<text x="371.2" y="759" font-family="'Liberation Serif', serif" font-size="47.6" fill="#262626" textLength="209" lengthAdjust="spacingAndGlyphs">Frequency</text>
<text x="601.4" y="759" font-family="'Liberation Serif', serif" font-size="47.6" fill="#262626" textLength="91" lengthAdjust="spacingAndGlyphs">[cpd]</text>
<g fill="none" stroke-width="2.1" stroke-linejoin="round" stroke-linecap="round">
<path d="M1041,373.9C1045.1,369.9 1058.1,355.3 1065.6,350.1C1073.1,344.9 1079.7,344.2 1085.8,342.7C1091.9,341.2 1096.8,344.2 1102.3,340.9C1107.8,337.5 1113.3,333.3 1118.8,322.6C1124.3,311.9 1129.4,293 1135.2,276.8C1141,260.6 1147.5,241.4 1153.6,225.5C1159.7,209.6 1165.2,190.9 1171.9,181.6C1178.6,172.3 1188.3,170.9 1193.8,169.7C1199.3,168.5 1199.9,168.5 1204.8,174.2C1209.7,179.8 1217.1,192.6 1223.2,203.6C1229.3,214.6 1235.4,228.6 1241.5,240.2C1247.6,251.8 1253.7,263.1 1259.8,273.2C1265.9,283.3 1272,291.2 1278.1,300.6C1284.2,310.1 1292.1,324.4 1296.4,329.9C1300.7,335.4 1300,333.9 1303.7,333.6C1307.4,333.3 1312.9,326.6 1318.4,328.1C1323.9,329.6 1331.8,340.3 1336.7,342.7C1341.6,345.1 1344.5,343 1347.7,342.7C1350.9,342.4 1353.1,338.9 1355.8,340.6C1358.5,342.4 1359.8,341.4 1363.7,353.2C1367.7,365 1374.8,403.8 1379.5,411.7C1384.2,419.6 1388.1,402.5 1392.1,400.6C1396,398.8 1399.2,403.2 1403.2,400.6C1407.2,398 1411.6,385.6 1415.8,384.8C1420,384 1424.8,391.9 1428.5,395.9C1432.2,399.8 1434.8,406.9 1437.9,408.5C1441.1,410.1 1445.5,405.5 1447.4,405.4C1449.3,405.3 1448.6,407.2 1449.3,407.9C1449.9,408.7 1450.5,409.5 1451.1,409.6C1451.7,409.8 1452.4,409.1 1453,408.9C1453.6,408.8 1454.2,408.7 1454.8,408.8C1455.5,408.9 1456.1,409.1 1456.7,409.3C1457.3,409.6 1457.9,409.4 1458.6,410.4C1459.2,411.4 1459.8,413.8 1460.4,415.4C1461,417 1461.7,419.4 1462.3,419.9C1462.9,420.5 1463.5,419.4 1464.1,418.8C1464.8,418.1 1465.4,416.1 1466,416C1466.6,415.9 1467.2,417.2 1467.8,418.5C1468.4,419.7 1469,422 1469.6,423.8C1470.2,425.5 1470.8,427.5 1471.4,429C1472,430.5 1472.6,431.5 1473.2,432.7C1473.8,433.9 1474.4,435.1 1475,436.4C1475.6,437.7 1476.2,439.2 1476.8,440.4C1477.4,441.5 1478,441.9 1478.6,443.3C1479.2,444.6 1479.8,446.9 1480.4,448.5C1481,450 1480.6,452.8 1482.2,452.7C1483.8,452.6 1488.5,448.5 1490.1,448C1491.7,447.5 1491.4,448.8 1492.1,449.4C1492.7,450 1493.4,450.8 1494,451.7C1494.7,452.7 1495.4,454.1 1496,455.1C1496.7,456.1 1497.3,457.4 1498,457.9C1498.7,458.5 1499.3,457.6 1500,458.4C1500.6,459.1 1501.3,460.7 1502,462.4C1502.6,464 1503.3,467.8 1503.9,468.3C1504.6,468.8 1505.2,465.6 1505.9,465.4C1506.6,465.2 1507.2,467.2 1507.8,467.4C1508.5,467.6 1509.1,466.6 1509.8,466.6C1510.4,466.5 1511.1,467 1511.7,467.2C1512.3,467.4 1513,467.4 1513.6,467.8C1514.3,468.2 1514.9,468.7 1515.6,469.7C1516.2,470.6 1516.9,472.5 1517.5,473.4C1518.1,474.3 1518.8,474.9 1519.4,475.1C1520.1,475.2 1520.7,474.3 1521.4,474.3C1522,474.2 1522.7,474 1523.3,474.9C1523.9,475.8 1524.5,478.9 1525.2,479.5C1525.8,480.1 1526.4,478.7 1527,478.3C1527.6,477.9 1528.2,477.3 1528.9,477.1C1529.5,476.8 1530.1,476.9 1530.7,476.9C1531.3,476.9 1532,477.1 1532.6,477C1533.2,476.9 1533.8,476.3 1534.4,476.4C1535.1,476.4 1535.7,476.4 1536.3,477.2C1536.9,477.9 1537.5,480.3 1538.1,480.8C1538.8,481.3 1539.4,479.9 1540,480C1540.6,480.1 1541.3,481.1 1542,481.4C1542.7,481.7 1543.3,481.7 1544,481.9C1544.7,482.1 1545.3,482.9 1546,482.6C1546.7,482.3 1547.3,480.7 1548,480.1C1548.7,479.6 1549.3,479.3 1550,479.3C1550.7,479.3 1551.3,480.1 1552,480.1C1552.7,480.1 1553.3,480 1554,479.5C1554.7,479.1 1555.3,477.6 1556,477.4C1556.7,477.1 1557.3,477.8 1558,478.1C1558.7,478.4 1559.4,478 1560,479C1560.6,480 1561.2,483.2 1561.9,484.4C1562.5,485.6 1563.1,485.2 1563.8,486.2C1564.4,487.2 1565,489.5 1565.6,490.3C1566.2,491.1 1566.9,491.2 1567.5,491.3C1568.1,491.3 1568.8,490.2 1569.4,490.7C1570,491.2 1570.6,492.7 1571.2,494.2C1571.9,495.7 1572.5,498.7 1573.1,499.7C1573.8,500.6 1574.4,499.8 1575,500C1575.6,500.2 1576.2,500.7 1576.9,501.1C1577.5,501.6 1578.1,501.6 1578.8,502.9C1579.4,504.1 1580,507.1 1580.6,508.7C1581.2,510.4 1581.9,511.7 1582.5,512.8C1583.1,513.9 1583.8,513.9 1584.4,515.2C1585,516.5 1585.6,519.7 1586.2,520.7C1586.9,521.7 1587.5,521.2 1588.1,521C1588.8,520.9 1589.4,520.5 1590,520C1590.6,519.5 1591.3,517.4 1591.9,518C1592.5,518.6 1593.2,522.2 1593.8,523.5C1594.5,524.7 1595.1,525.7 1595.7,525.2C1596.4,524.7 1597,521.7 1597.6,520.3C1598.3,518.9 1598.9,517.2 1599.5,517C1600.2,516.7 1600.8,518.4 1601.5,519C1602.1,519.7 1602.7,520.1 1603.4,520.7C1604,521.3 1604.6,521.3 1605.3,522.8C1605.9,524.2 1606.5,528.7 1607.2,529.3C1607.8,530 1608.5,528 1609.1,526.5C1609.7,524.9 1610.4,521.3 1611,520C1611.6,518.7 1612.3,517.3 1612.9,518.6C1613.6,519.9 1614.2,525.4 1614.9,527.6C1615.5,529.8 1616.2,531.8 1616.8,531.9C1617.4,531.9 1618.1,528.9 1618.7,527.7C1619.4,526.5 1620,525 1620.7,524.9C1621.3,524.8 1622,526.3 1622.6,527C1623.2,527.7 1623.9,527.5 1624.5,529.1C1625.2,530.8 1625.8,533.5 1626.5,537C1627.1,540.4 1627.8,548.3 1628.4,549.8C1629,551.4 1629.7,548.5 1630.3,546.1C1631,543.7 1631.6,536.9 1632.3,535.3C1632.9,533.7 1633.6,534.8 1634.2,536.5C1634.8,538.3 1635.5,543.6 1636.1,545.7C1636.8,547.8 1637.4,549.3 1638.1,549.2C1638.7,549.1 1639.4,545.8 1640,545C1640.6,544.2 1641.3,544.4 1641.9,544.5C1642.6,544.6 1643.2,545.1 1643.8,545.5C1644.5,545.9 1645.1,544.4 1645.8,546.8C1646.4,549.3 1647,555.1 1647.7,560.2C1648.3,565.3 1648.9,575.5 1649.6,577.4C1650.2,579.4 1650.9,574.9 1651.5,571.8C1652.1,568.8 1652.8,561.3 1653.4,559.2C1654.1,557.1 1654.7,557.8 1655.3,559.2C1656,560.5 1656.6,565.2 1657.3,567.1C1657.9,569.1 1658.5,570.3 1659.2,570.9C1659.8,571.6 1660.5,570.6 1661.1,570.9C1661.7,571.3 1662.4,572.6 1663,572.9C1663.7,573.1 1664.3,572.7 1664.9,572.4C1665.6,572.2 1666.2,568.8 1666.8,571.4C1667.5,574 1668.1,581.9 1668.8,587.9C1669.4,593.9 1670,607.8 1670.7,607.3C1671.3,606.8 1672,588.5 1672.6,584.8C1673.2,581.1 1673.9,585.4 1674.6,585.1C1675.2,584.8 1675.9,582.4 1676.5,582.8C1677.2,583.1 1677.8,586.1 1678.5,587.2C1679.1,588.4 1679.8,588.5 1680.4,589.7C1681.1,590.9 1681.7,592.6 1682.4,594.4C1683,596.1 1683.7,599.9 1684.3,600.3C1685,600.7 1685.6,597.9 1686.3,596.9C1687,595.9 1687.6,591.3 1688.3,594.3C1688.9,597.3 1689.6,609.2 1690.2,614.9C1690.9,620.5 1691.5,628.2 1692.2,628.1C1692.8,628.1 1693.5,618.6 1694.1,614.5C1694.8,610.4 1695.4,605.7 1696.1,603.7C1696.7,601.7 1697.4,601.6 1698,602.6C1698.7,603.7 1699.3,609.5 1700,610C1700.7,610.5 1701.3,604.3 1702,605.5C1702.7,606.6 1703.3,613.8 1704,616.8C1704.7,619.8 1705.3,623.9 1706,623.5C1706.7,623 1707.3,615.4 1708,614.1C1708.7,612.8 1709.3,611.9 1710,615.6C1710.7,619.3 1711.3,633.3 1712,636.2C1712.7,639.2 1713.3,635.9 1714,633.1C1714.7,630.4 1715.3,622.4 1716,619.8C1716.7,617.1 1717.3,617.9 1718,617.2C1718.7,616.5 1719.3,616.3 1720,615.5C1720.7,614.6 1721.3,611.1 1722,611.8C1722.7,612.6 1723.3,616 1724,619.8C1724.7,623.7 1725.3,632.7 1726,635.1C1726.7,637.5 1727.3,635.9 1728,634.3C1728.7,632.6 1729.3,624.8 1730,625C1730.7,625.2 1731.3,632.7 1732,635.4C1732.7,638.1 1733.3,642.3 1734,641.3C1734.7,640.2 1735.3,631.2 1736,629.1C1736.7,627.1 1737.3,628.3 1738,628.7C1738.7,629.1 1739.3,632.1 1740,631.4C1740.7,630.7 1741.3,626.4 1742,624.8C1742.7,623.1 1743.3,619.9 1744,621.5C1744.7,623.1 1745.3,630.7 1746,634.4C1746.7,638.2 1747.3,643.8 1748,644.1C1748.7,644.4 1749.3,637.6 1750,636.3C1750.7,635 1751.3,634.9 1752,636.6C1752.7,638.2 1753.3,646.4 1754,646.3C1754.7,646.2 1755.3,638.1 1756,635.8C1756.7,633.5 1757.3,632.4 1758,632.3C1758.7,632.2 1759.3,633.4 1760,635C1760.7,636.6 1761.3,642.7 1762,642C1762.6,641.3 1763.3,632.5 1764,630.6C1764.6,628.8 1765.3,628.9 1765.9,630.9C1766.6,632.9 1767.3,640.4 1767.9,642.6C1768.6,644.8 1769.2,644.7 1769.9,644.4C1770.6,644 1771.2,639.9 1771.9,640.7C1772.6,641.5 1773.2,647.8 1773.9,649C1774.5,650.2 1775.2,650.3 1775.9,647.7C1776.5,645.1 1777.2,634.4 1777.8,633.4C1778.5,632.3 1779.2,640.5 1779.8,641.6C1780.5,642.7 1781.5,640.3 1781.8,640" stroke="#0000aa"/>
<path d="M1041,370.2C1045.1,369.3 1056.9,365.9 1065.6,364.7C1074.3,363.5 1087,363.7 1093.1,362.9C1099.2,362.1 1098,366.1 1102.3,360C1106.6,353.9 1113.3,340.2 1118.8,326.3C1124.3,312.4 1129.4,293.6 1135.2,276.8C1141,260 1147.5,241.1 1153.6,225.5C1159.7,209.9 1165.5,192.1 1171.9,183.4C1178.3,174.7 1186.5,174.2 1192,173.3C1197.5,172.4 1199.6,173.5 1204.8,177.9C1210,182.3 1217.1,189.5 1223.2,199.9C1229.3,210.3 1235.4,228 1241.5,240.2C1247.6,252.4 1253.7,263.7 1259.8,273.2C1265.9,282.7 1272,288.5 1278.1,297C1284.2,305.5 1290.9,318.6 1296.4,324.4C1301.9,330.2 1305.6,331.8 1311.1,331.8C1316.6,331.8 1324.2,324.1 1329.4,324.4C1334.6,324.7 1337.8,329.6 1342.2,333.6C1346.6,337.6 1348.3,342.9 1355.8,348.5C1363.3,354.1 1376.9,361.6 1387.4,367.4C1397.9,373.2 1411.1,377.7 1419,383.2C1426.9,388.7 1431.8,397.5 1434.8,400.6C1437.8,403.7 1436.1,401.5 1436.8,402C1437.4,402.4 1438.1,402.9 1438.8,403.4C1439.4,403.9 1440.1,404.2 1440.7,405.1C1441.4,405.9 1442,407.6 1442.7,408.4C1443.4,409.2 1444,409.5 1444.7,409.8C1445.3,410.1 1446,410 1446.6,410.4C1447.3,410.7 1448,411.8 1448.6,412C1449.3,412.2 1449.9,411.5 1450.6,411.7C1451.3,411.9 1451.9,412.9 1452.6,413.1C1453.2,413.2 1453.9,412.6 1454.5,412.7C1455.2,412.7 1455.9,413.3 1456.5,413.4C1457.2,413.5 1457.8,413.2 1458.5,413.4C1459.2,413.6 1459.8,413.8 1460.5,414.6C1461.1,415.3 1461.8,417.1 1462.5,417.7C1463.1,418.3 1463.8,418.2 1464.4,418C1465.1,417.8 1465.7,416.2 1466.4,416.4C1467.1,416.6 1467.7,418.6 1468.4,419.4C1469,420.2 1469.7,420.4 1470.4,421.1C1471,421.8 1471.7,422.8 1472.3,423.7C1473,424.5 1473.6,425.6 1474.3,426.4C1475,427.1 1475.6,427.9 1476.3,428.2C1476.9,428.4 1477.6,427.6 1478.2,428.1C1478.9,428.5 1479.6,429.6 1480.2,430.9C1480.9,432.2 1481.5,434.6 1482.2,435.8C1482.9,437 1483.5,437.4 1484.2,438.2C1484.8,439 1485.5,440.1 1486.2,440.5C1486.8,441 1487.5,440.6 1488.1,440.9C1488.8,441.2 1489.4,441.6 1490.1,442.4C1490.8,443.2 1491.4,444.5 1492.1,445.6C1492.7,446.8 1493.4,448.6 1494,449.3C1494.7,450 1495.4,449.6 1496,449.9C1496.7,450.2 1497.3,451.1 1498,451.2C1498.7,451.3 1499.3,450.3 1500,450.7C1500.6,451.2 1501.3,453.2 1502,454.2C1502.6,455.1 1503.3,456 1503.9,456.6C1504.6,457.2 1505.2,457.9 1505.9,457.8C1506.6,457.6 1507.2,456.1 1507.9,455.7C1508.5,455.3 1509.2,455 1509.8,455.4C1510.5,455.7 1511.2,456.8 1511.8,457.7C1512.5,458.5 1513.1,460.1 1513.8,460.3C1514.5,460.4 1515.1,459.1 1515.8,458.4C1516.4,457.7 1517.1,456.1 1517.8,456.1C1518.4,456.1 1519.1,457.7 1519.7,458.5C1520.4,459.2 1521,459.1 1521.7,460.6C1522.4,462.1 1523,465.9 1523.7,467.4C1524.3,468.9 1525,469.6 1525.7,469.7C1526.3,469.9 1527,468.3 1527.6,468.2C1528.3,468 1528.9,467.9 1529.6,468.8C1530.3,469.6 1530.9,471.7 1531.6,473.1C1532.2,474.5 1532.9,476.6 1533.5,477.1C1534.2,477.7 1534.9,476.2 1535.5,476.6C1536.2,477.1 1536.9,479.3 1537.5,479.6C1538.1,479.9 1538.8,478.1 1539.4,478.2C1540,478.3 1540.6,479.2 1541.2,480.2C1541.9,481.1 1542.5,483.3 1543.1,483.9C1543.8,484.5 1544.4,484.5 1545,483.7C1545.6,482.8 1546.2,480.2 1546.9,478.8C1547.5,477.5 1548.1,475.9 1548.8,475.5C1549.4,475 1550,475.8 1550.6,476.3C1551.2,476.8 1551.9,478.3 1552.5,478.4C1553.1,478.6 1553.8,477.7 1554.4,477.1C1555,476.5 1555.6,475.3 1556.2,475C1556.9,474.6 1557.5,474.9 1558.1,475C1558.8,475.1 1559.4,474.5 1560,475.6C1560.6,476.7 1561.3,480.1 1562,481.7C1562.7,483.3 1563.3,485.3 1564,485.4C1564.7,485.5 1565.3,483.2 1566,482.2C1566.7,481.1 1567.3,479.3 1568,479.2C1568.7,479.1 1569.3,480.4 1570,481.5C1570.7,482.7 1571.3,485.2 1572,486.3C1572.7,487.3 1573.3,487.2 1574,487.7C1574.7,488.1 1575.3,488.5 1576,489C1576.7,489.4 1577.3,489.8 1578,490.4C1578.7,491 1579.3,491.1 1580,492.8C1580.7,494.4 1581.3,499 1582,500.5C1582.7,502 1583.3,502.1 1584,501.5C1584.7,500.8 1585.3,497.8 1586,496.6C1586.7,495.3 1587.3,493.6 1588,494.1C1588.7,494.7 1589.3,498.7 1590,500C1590.7,501.3 1591.3,501.2 1591.9,501.9C1592.5,502.5 1593.2,503.3 1593.8,504.1C1594.5,504.8 1595.1,506.3 1595.7,506.5C1596.4,506.8 1597,505.6 1597.6,505.6C1598.3,505.6 1598.9,505.3 1599.5,506.7C1600.2,508.1 1600.8,512.8 1601.5,514.1C1602.1,515.4 1602.7,515 1603.4,514.3C1604,513.6 1604.6,511 1605.3,509.9C1605.9,508.7 1606.5,507.3 1607.2,507.3C1607.8,507.3 1608.5,508.9 1609.1,509.9C1609.7,510.8 1610.4,512 1611,513.1C1611.6,514.2 1612.3,515.2 1612.9,516.7C1613.6,518.2 1614.2,521.2 1614.9,521.9C1615.5,522.5 1616.2,521 1616.8,520.7C1617.4,520.4 1618.1,518.9 1618.7,520.1C1619.4,521.3 1620,526.2 1620.7,527.7C1621.3,529.2 1622,529 1622.6,528.9C1623.2,528.7 1623.9,527.3 1624.5,526.9C1625.2,526.5 1625.8,526.4 1626.5,526.8C1627.1,527.1 1627.8,528.5 1628.4,528.9C1629,529.4 1629.7,528.8 1630.3,529.6C1631,530.3 1631.6,531.6 1632.3,533.4C1632.9,535.2 1633.6,539.6 1634.2,540.6C1634.8,541.5 1635.5,539.6 1636.1,539.3C1636.8,538.9 1637.4,538.4 1638.1,538.5C1638.7,538.7 1639.4,538.9 1640,540C1640.6,541.1 1641.3,544.2 1641.9,545.1C1642.6,546 1643.2,544.8 1643.8,545.3C1644.5,545.7 1645.1,547.3 1645.8,547.9C1646.4,548.5 1647,549.4 1647.7,549C1648.3,548.5 1648.9,545.5 1649.6,545.2C1650.2,544.9 1650.9,545.3 1651.5,547.1C1652.1,548.9 1652.8,554.4 1653.4,556C1654.1,557.6 1654.7,556.5 1655.3,556.7C1656,556.9 1656.6,556.2 1657.3,557.2C1657.9,558.3 1658.5,562.5 1659.2,563C1659.8,563.6 1660.5,560.7 1661.1,560.4C1661.7,560.1 1662.4,560.1 1663,561.3C1663.7,562.4 1664.3,565.9 1664.9,567.1C1665.6,568.3 1666.2,569.4 1666.8,568.3C1667.5,567.2 1668.1,561.9 1668.8,560.4C1669.4,558.9 1670,558 1670.7,559.2C1671.3,560.4 1672,565.4 1672.6,567.7C1673.2,570 1673.9,571.6 1674.6,573.3C1675.2,575 1675.9,576.3 1676.5,578C1677.2,579.6 1677.8,583.8 1678.5,583.4C1679.1,583 1679.8,577 1680.4,575.7C1681.1,574.4 1681.7,574.2 1682.4,575.6C1683,577 1683.7,582.7 1684.3,584.3C1685,585.9 1685.6,587.1 1686.3,585.4C1687,583.8 1687.6,576.5 1688.3,574.5C1688.9,572.4 1689.6,571.5 1690.2,573C1690.9,574.5 1691.5,580.7 1692.2,583.5C1692.8,586.3 1693.5,586.7 1694.1,589.7C1694.8,592.7 1695.4,599.2 1696.1,601.5C1696.7,603.8 1697.4,605.5 1698,603.6C1698.7,601.7 1699.3,592.6 1700,590C1700.7,587.4 1701.3,586.6 1702,588C1702.7,589.4 1703.3,597 1704,598.7C1704.7,600.3 1705.3,599.9 1706,597.9C1706.7,595.8 1707.3,588.1 1708,586.4C1708.7,584.6 1709.3,585.9 1710,587.4C1710.7,589 1711.3,592.9 1712,595.8C1712.7,598.8 1713.3,600.8 1714,605.1C1714.7,609.4 1715.3,620.6 1716,621.6C1716.7,622.7 1717.3,616.1 1718,611.4C1718.7,606.7 1719.3,595.8 1720,593.3C1720.7,590.8 1721.3,594 1722,596.4C1722.7,598.7 1723.3,606.1 1724,607.5C1724.7,608.8 1725.3,605.9 1726,604.4C1726.7,603 1727.3,598.7 1728,598.8C1728.7,598.9 1729.3,603.9 1730,605C1730.7,606.1 1731.3,602.9 1732,605.5C1732.7,608.2 1733.3,616.5 1734,620.9C1734.7,625.4 1735.3,633.8 1736,632.2C1736.7,630.7 1737.3,617.3 1738,611.5C1738.7,605.8 1739.3,598.7 1740,597.6C1740.7,596.5 1741.3,602.2 1742,604.8C1742.7,607.4 1743.3,612.2 1744,613.4C1744.7,614.5 1745.3,612 1746,611.8C1746.7,611.5 1747.3,612 1748,611.9C1748.7,611.8 1749.3,611.1 1750,611.1C1750.7,611.2 1751.3,608.7 1752,612.3C1752.7,615.9 1753.3,629.5 1754,632.9C1754.7,636.2 1755.3,636.3 1756,632.6C1756.7,628.9 1757.3,613.8 1758,610.8C1758.7,607.9 1759.3,614.5 1760,615C1760.7,615.5 1761.3,612.9 1762,613.6C1762.6,614.4 1763.3,618 1764,619.5C1764.6,621 1765.3,621.8 1765.9,622.7C1766.6,623.6 1767.3,625.6 1767.9,624.8C1768.6,623.9 1769.2,618 1769.9,617.5C1770.6,617.1 1771.2,617.8 1771.9,621.8C1772.6,625.9 1773.2,639.7 1773.9,641.7C1774.5,643.7 1775.2,637.7 1775.9,633.9C1776.5,630.2 1777.2,621.7 1777.8,619.1C1778.5,616.6 1779.2,617.5 1779.8,618.6C1780.5,619.7 1781.5,624.5 1781.8,625.7" stroke="#0000ff"/>
<path d="M1041,359.2C1045.1,358.9 1056.9,356.5 1065.6,357.4C1074.3,358.3 1087,364.4 1093.1,364.7C1099.2,365 1098,365.6 1102.3,359.2C1106.6,352.8 1113.3,340 1118.8,326.3C1124.3,312.6 1129.4,293.6 1135.2,276.8C1141,260 1147.5,239.5 1153.6,225.5C1159.7,211.5 1165.8,199.6 1171.9,192.6C1178,185.6 1184.7,184 1190.2,183.4C1195.7,182.8 1199.3,184.3 1204.8,188.9C1210.3,193.5 1217.1,203 1223.2,210.9C1229.3,218.8 1235.4,228 1241.5,236.5C1247.6,245 1251.9,251.4 1260,262C1268.1,272.6 1280.9,289 1290,300C1299.1,311 1307.5,323.8 1314.7,328.1C1321.9,332.4 1328.4,324.5 1333,326C1337.6,327.5 1337.1,334.8 1342.2,337C1347.3,339.2 1356.7,334.7 1363.7,339C1370.7,343.3 1377.1,356.6 1384.2,362.7C1391.3,368.8 1398.8,369.9 1406.4,375.3C1414,380.7 1425.8,391.5 1430,395C1434.2,398.5 1431.2,395.7 1431.9,396.1C1432.5,396.4 1433.1,396.8 1433.7,397.2C1434.4,397.5 1435,397.9 1435.6,398.2C1436.2,398.6 1436.9,399 1437.5,399.3C1438.1,399.7 1438.7,399.9 1439.4,400.4C1440,400.9 1440.6,402 1441.2,402.3C1441.9,402.6 1442.5,401.5 1443.1,402C1443.7,402.6 1444.4,404.3 1445,405.5C1445.6,406.8 1446.2,408.9 1446.9,409.5C1447.5,410 1448.1,409.3 1448.7,408.8C1449.4,408.4 1450,406.7 1450.6,406.9C1451.2,407.1 1451.9,409.2 1452.5,409.7C1453.2,410.3 1453.8,410.3 1454.5,410.1C1455.1,409.8 1455.8,408.7 1456.4,408.5C1457,408.2 1457.7,408 1458.3,408.7C1459,409.3 1459.6,411.1 1460.3,412.4C1460.9,413.6 1461.6,415.4 1462.2,416.2C1462.8,417 1463.5,417 1464.1,417.3C1464.8,417.5 1465.4,417.5 1466.1,417.7C1466.7,417.8 1467.3,416.9 1468,418C1468.7,419.1 1469.3,423.5 1470,424.4C1470.7,425.3 1471.3,423.3 1472,423.4C1472.7,423.4 1473.3,423.7 1474,424.6C1474.7,425.4 1475.3,427.6 1476,428.5C1476.7,429.3 1477.3,429.6 1478,429.7C1478.7,429.9 1479.3,428.9 1480,429.2C1480.7,429.4 1481.3,430 1482,431.2C1482.7,432.3 1483.3,434.5 1484,435.9C1484.7,437.3 1485.3,438.7 1486,439.7C1486.7,440.7 1487.3,440.8 1488,441.7C1488.7,442.6 1489.3,443.6 1490,444.9C1490.7,446.1 1491.3,448.4 1492,449C1492.7,449.7 1493.3,448.8 1494,448.5C1494.7,448.2 1495.3,446.9 1496,447.3C1496.7,447.8 1497.3,450 1498,451.2C1498.7,452.4 1499.3,454.1 1500,454.7C1500.6,455.3 1501.3,454.9 1502,454.8C1502.6,454.8 1503.3,454.2 1503.9,454.5C1504.6,454.8 1505.2,455.8 1505.9,456.7C1506.6,457.5 1507.2,458.8 1507.9,459.6C1508.5,460.4 1509.2,460.8 1509.8,461.5C1510.5,462.2 1511.2,462.6 1511.8,463.7C1512.5,464.8 1513.1,466.9 1513.8,467.9C1514.5,468.9 1515.1,469.9 1515.8,469.6C1516.4,469.4 1517.1,466.9 1517.8,466.3C1518.4,465.8 1519.1,465.4 1519.7,466.2C1520.4,466.9 1521,469.4 1521.7,470.7C1522.4,472 1523,473.2 1523.7,473.8C1524.3,474.4 1525,474 1525.6,474.2C1526.3,474.3 1527,474.3 1527.6,474.7C1528.3,475.1 1529,476.2 1529.6,476.4C1530.2,476.6 1530.9,476.1 1531.5,476C1532.1,475.9 1532.8,475.5 1533.4,475.8C1534,476 1534.7,476.7 1535.3,477.6C1535.9,478.5 1536.6,480.7 1537.2,481.2C1537.8,481.6 1538.5,481.4 1539.1,480.4C1539.7,479.4 1540.4,476.3 1541,475.2C1541.6,474.1 1542.3,473.6 1542.9,473.8C1543.5,474 1544.2,475.7 1544.8,476.4C1545.4,477.1 1546.1,477.8 1546.7,477.9C1547.3,478.1 1548,477.7 1548.6,477.5C1549.2,477.3 1549.9,477.1 1550.5,476.9C1551.1,476.7 1551.8,476.6 1552.4,476.2C1553,475.9 1553.7,475.1 1554.3,474.6C1554.9,474.2 1555.6,473.4 1556.2,473.6C1556.8,473.7 1557.5,475.3 1558.1,475.6C1558.7,476 1559.3,474.5 1560,475.6C1560.7,476.7 1561.3,481.7 1562,482.1C1562.7,482.4 1563.3,478.6 1564,477.8C1564.7,476.9 1565.3,476.5 1566,476.8C1566.7,477.1 1567.3,479 1568,479.8C1568.7,480.6 1569.3,481.4 1570,481.9C1570.7,482.4 1571.3,482.5 1572,482.9C1572.7,483.3 1573.3,484 1574,484.1C1574.7,484.3 1575.3,484.2 1576,483.7C1576.7,483.2 1577.3,481.6 1578,481.2C1578.7,480.9 1579.3,480.4 1580,481.6C1580.7,482.8 1581.3,486 1582,488.4C1582.7,490.8 1583.3,495 1584,495.9C1584.7,496.8 1585.3,495 1586,493.8C1586.7,492.6 1587.3,489.6 1588,489C1588.7,488.3 1589.3,489.7 1590,490C1590.7,490.3 1591.3,490.7 1591.9,491C1592.5,491.2 1593.2,491.2 1593.8,491.7C1594.5,492.1 1595.1,493 1595.7,493.8C1596.4,494.5 1597,495.9 1597.6,496C1598.3,496.1 1598.9,495.3 1599.5,494.5C1600.2,493.6 1600.8,491.3 1601.5,490.8C1602.1,490.4 1602.7,490.1 1603.4,491.7C1604,493.4 1604.6,497.8 1605.3,500.7C1605.9,503.6 1606.5,508.1 1607.2,509.1C1607.8,510.1 1608.5,508.2 1609.1,506.6C1609.7,505 1610.4,500.3 1611,499.5C1611.6,498.7 1612.3,501.5 1612.9,501.8C1613.6,502.1 1614.2,501.6 1614.9,501.5C1615.5,501.5 1616.2,500.8 1616.8,501.5C1617.4,502.2 1618.1,504 1618.7,505.7C1619.4,507.3 1620,510.2 1620.7,511.1C1621.3,512.1 1622,511.9 1622.6,511.4C1623.2,510.8 1623.9,508.3 1624.5,507.9C1625.2,507.6 1625.8,507.3 1626.5,509.3C1627.1,511.3 1627.8,516.7 1628.4,520C1629,523.3 1629.7,528.1 1630.3,529.2C1631,530.3 1631.6,527.7 1632.3,526.8C1632.9,525.8 1633.6,524 1634.2,523.4C1634.8,522.8 1635.5,523.8 1636.1,523.2C1636.8,522.7 1637.4,519.8 1638.1,520.1C1638.7,520.4 1639.4,524.3 1640,525C1640.6,525.7 1641.3,523 1641.9,524.2C1642.6,525.4 1643.2,530.5 1643.8,532.1C1644.5,533.7 1645.1,534 1645.8,533.8C1646.4,533.6 1647,531.1 1647.7,530.8C1648.3,530.5 1648.9,530.2 1649.6,532C1650.2,533.9 1650.9,539.1 1651.5,541.9C1652.1,544.7 1652.8,548.4 1653.4,549.1C1654.1,549.7 1654.7,546.6 1655.3,545.8C1656,545 1656.6,544.5 1657.3,544.3C1657.9,544.2 1658.5,545.7 1659.2,545C1659.8,544.3 1660.5,541.7 1661.1,540.3C1661.7,539 1662.4,536.6 1663,537C1663.7,537.4 1664.3,540.2 1664.9,542.8C1665.6,545.4 1666.2,550.3 1666.8,552.6C1667.5,554.8 1668.1,555.9 1668.8,556.2C1669.4,556.6 1670,555 1670.7,554.6C1671.3,554.3 1672,552.5 1672.6,554C1673.2,555.5 1673.9,561.3 1674.6,563.5C1675.2,565.6 1675.9,567.2 1676.5,567C1677.2,566.7 1677.8,562.5 1678.5,561.9C1679.1,561.2 1679.8,562.5 1680.4,563.2C1681.1,563.8 1681.7,566.3 1682.4,565.8C1683,565.3 1683.7,561.9 1684.3,560.3C1685,558.8 1685.6,556 1686.3,556.4C1687,556.8 1687.6,560 1688.3,562.5C1688.9,565 1689.6,569.5 1690.2,571.6C1690.9,573.6 1691.5,574.2 1692.2,574.7C1692.8,575.2 1693.5,574.1 1694.1,574.7C1694.8,575.2 1695.4,576.2 1696.1,577.7C1696.7,579.3 1697.4,584.3 1698,583.8C1698.7,583.4 1699.3,576.5 1700,575C1700.7,573.5 1701.3,573.5 1702,574.6C1702.7,575.6 1703.3,579.6 1704,581.2C1704.7,582.9 1705.3,585 1706,584.6C1706.7,584.1 1707.3,580 1708,578.7C1708.7,577.4 1709.3,576 1710,576.7C1710.7,577.3 1711.3,580.7 1712,582.5C1712.7,584.3 1713.3,586.2 1714,587.3C1714.7,588.4 1715.3,588.1 1716,589C1716.7,589.8 1717.3,590.6 1718,592.3C1718.7,594 1719.3,597.8 1720,599C1720.7,600.1 1721.3,600.8 1722,599C1722.7,597.3 1723.3,590.2 1724,588.7C1724.7,587.1 1725.3,587.9 1726,589.8C1726.7,591.7 1727.3,599 1728,599.9C1728.7,600.8 1729.3,595.6 1730,595C1730.7,594.4 1731.3,596.1 1732,596.4C1732.7,596.6 1733.3,596.2 1734,596.4C1734.7,596.6 1735.3,597.5 1736,597.6C1736.7,597.7 1737.3,596.7 1738,597.2C1738.7,597.7 1739.3,598.7 1740,600.8C1740.7,602.8 1741.3,606.8 1742,609.4C1742.7,612 1743.3,616.4 1744,616.1C1744.7,615.9 1745.3,610.7 1746,607.8C1746.7,604.9 1747.3,599.1 1748,598.9C1748.7,598.6 1749.3,603.9 1750,606.2C1750.7,608.6 1751.3,612 1752,613C1752.7,614 1753.3,612.5 1754,612.1C1754.7,611.8 1755.3,611.3 1756,610.9C1756.7,610.5 1757.3,609.7 1758,609.5C1758.7,609.4 1759.3,610.8 1760,610C1760.7,609.2 1761.3,604.1 1762,604.8C1762.6,605.4 1763.3,610 1764,613.8C1764.6,617.6 1765.3,624.7 1765.9,627.4C1766.6,630.1 1767.3,631.5 1767.9,629.9C1768.6,628.2 1769.2,620 1769.9,617.4C1770.6,614.7 1771.2,613.3 1771.9,613.9C1772.6,614.4 1773.2,619.1 1773.9,620.7C1774.5,622.3 1775.2,622.9 1775.9,623.5C1776.5,624.2 1777.2,624.2 1777.8,624.5C1778.5,624.8 1779.2,625.8 1779.8,625.4C1780.5,625.1 1781.5,622.8 1781.8,622.3" stroke="#0055ff"/>
<path d="M1041,339.1C1045.1,338.8 1056.9,335.8 1065.6,337.3C1074.3,338.8 1087,346.7 1093.1,348.2C1099.2,349.7 1098,350.7 1102.3,346.4C1106.6,342.1 1113.3,334.8 1118.8,322.6C1124.3,310.4 1129.4,290 1135.2,273.2C1141,256.4 1147.5,235 1153.6,221.9C1159.7,208.8 1165.8,200.8 1171.9,194.4C1178,188 1185.3,184.9 1190.2,183.4C1195.1,181.9 1196.9,182.4 1201.2,185.2C1205.5,187.9 1210.6,192.9 1215.8,199.9C1221,206.9 1226.5,219.5 1232.3,227.4C1238.1,235.3 1244.5,240.5 1250.6,247.5C1256.7,254.5 1262.8,262.2 1268.9,269.5C1275,276.8 1281.2,284.5 1287.3,291.5C1293.4,298.5 1299.5,305.8 1305.6,311.6C1311.7,317.4 1317.8,322 1323.9,326.3C1330,330.6 1336.4,338.1 1342.2,337.3C1348,336.5 1352,318.2 1359,321.6C1366,325.1 1376.8,350.1 1384.2,358C1391.6,365.9 1395.8,362.2 1403.2,369C1410.6,375.8 1422.2,396 1428.5,399C1434.8,402 1438.7,388.4 1441.1,387.2C1443.5,386 1442.4,390.5 1443,391.9C1443.6,393.3 1444.2,394.2 1444.9,395.5C1445.5,396.8 1446.1,398.4 1446.8,399.6C1447.4,400.8 1448,401.8 1448.7,402.5C1449.3,403.3 1449.9,402.7 1450.5,404.2C1451.2,405.6 1451.8,408.6 1452.4,411.3C1453.1,414 1453.7,418.5 1454.3,420.3C1455,422.1 1455.6,421.6 1456.2,422C1456.8,422.4 1457.5,421.8 1458.1,422.4C1458.7,423.1 1458.4,429.3 1460,425.9C1461.6,422.5 1466.3,405.9 1468,402.2C1469.7,398.5 1469.3,402.5 1470,403.6C1470.7,404.7 1471.3,406.6 1472,408.7C1472.7,410.9 1473.3,414.9 1474,416.3C1474.7,417.7 1475.3,416.8 1476,416.9C1476.7,417.1 1477.3,416.8 1478,417.2C1478.7,417.6 1479.3,418.5 1480,419.1C1480.7,419.6 1481.3,419.8 1482,420.5C1482.7,421.1 1483.3,421.6 1484,422.9C1484.7,424.3 1485.3,427.1 1486,428.7C1486.7,430.3 1487.3,431.9 1488,432.6C1488.7,433.3 1489.3,432.2 1490,433.2C1490.7,434.2 1491.3,437 1492,438.7C1492.7,440.5 1493.3,443 1494,443.8C1494.7,444.6 1495.3,443.6 1496,443.7C1496.7,443.9 1497.4,444.7 1498,444.9C1498.6,445.1 1499.2,445.1 1499.9,444.7C1500.5,444.2 1501.1,442.7 1501.7,442.1C1502.3,441.4 1503,440.6 1503.6,440.8C1504.2,441.1 1504.8,442.7 1505.5,443.5C1506.1,444.3 1506.7,445.5 1507.3,445.5C1507.9,445.5 1508.6,443.8 1509.2,443.6C1509.8,443.3 1510.4,443.5 1511,443.8C1511.7,444.1 1512.3,445.7 1512.9,445.5C1513.5,445.2 1514.2,443.1 1514.8,442.3C1515.4,441.5 1516,440.8 1516.6,440.4C1517.3,440.1 1516.3,436.5 1518.5,440.1C1520.7,443.7 1527.4,457.8 1529.6,462.2C1531.8,466.6 1530.9,465.9 1531.5,466.3C1532.1,466.8 1532.8,465.8 1533.4,465C1534,464.2 1534.7,461.9 1535.3,461.6C1535.9,461.3 1536.6,462.7 1537.2,463.3C1537.8,464 1538.5,465.5 1539.1,465.6C1539.7,465.7 1540.4,464.6 1541,464C1541.6,463.5 1542.3,462.3 1542.9,462.4C1543.5,462.4 1544.2,463.8 1544.8,464.5C1545.4,465.2 1546.1,466.3 1546.7,466.7C1547.3,467.1 1548,466.4 1548.6,466.8C1549.2,467.2 1549.9,468.8 1550.5,469.2C1551.1,469.6 1551.8,470.1 1552.4,469.3C1553,468.5 1553.7,465.3 1554.3,464.5C1554.9,463.7 1555.6,464 1556.2,464.7C1556.8,465.4 1557.5,468.1 1558.1,468.5C1558.7,468.9 1559.3,467.2 1560,467C1560.7,466.8 1561.3,467.2 1562,467.3C1562.7,467.5 1563.3,467.6 1564,468C1564.7,468.4 1565.3,469.5 1566,469.9C1566.7,470.4 1567.3,470 1568,470.9C1568.7,471.9 1569.3,474.6 1570,475.6C1570.7,476.6 1571.3,477.8 1572,477C1572.7,476.3 1573.3,472 1574,471.1C1574.7,470.3 1575.3,470.9 1576,471.9C1576.7,472.9 1577.3,476.2 1578,477.3C1578.7,478.4 1579.3,478.6 1580,478.5C1580.7,478.4 1581.3,477 1582,476.7C1582.7,476.4 1583.3,476.7 1584,476.7C1584.7,476.8 1585.3,476.5 1586,476.8C1586.7,477.1 1587.3,478 1588,478.5C1588.7,479.1 1589.3,478.4 1590,480C1590.7,481.6 1591.3,487.7 1591.9,487.9C1592.5,488.2 1593.2,482.4 1593.8,481.6C1594.5,480.7 1595.1,481.6 1595.7,482.7C1596.4,483.9 1597,487.2 1597.6,488.5C1598.3,489.9 1598.9,490.6 1599.5,491C1600.2,491.4 1600.8,490.7 1601.5,490.7C1602.1,490.7 1602.7,491.2 1603.4,491.1C1604,491 1604.6,490.3 1605.3,490.3C1605.9,490.3 1606.5,489.3 1607.2,491.1C1607.8,492.9 1608.5,500 1609.1,501.1C1609.7,502.2 1610.4,497.7 1611,497.7C1611.6,497.7 1612.3,501.1 1612.9,501.1C1613.6,501.2 1614.2,497.9 1614.9,497.9C1615.5,497.9 1616.2,500.4 1616.8,501.4C1617.4,502.4 1618.1,503.3 1618.7,503.8C1619.4,504.3 1620,504.1 1620.7,504.4C1621.3,504.8 1622,505.8 1622.6,505.7C1623.2,505.7 1623.9,504.7 1624.5,504C1625.2,503.4 1625.8,500.8 1626.5,502C1627.1,503.2 1627.8,507.9 1628.4,511.2C1629,514.5 1629.7,521.1 1630.3,521.9C1631,522.8 1631.6,518.2 1632.3,516.3C1632.9,514.5 1633.6,511.6 1634.2,510.9C1634.8,510.1 1635.5,511.5 1636.1,511.7C1636.8,512 1637.4,512 1638.1,512.5C1638.7,513.1 1639.4,514 1640,515C1640.6,516 1641.3,517.8 1641.9,518.5C1642.6,519.1 1643.2,519.3 1643.8,518.7C1644.5,518.1 1645.1,514.5 1645.8,515C1646.4,515.4 1647,518.1 1647.7,521.4C1648.3,524.7 1648.9,532.9 1649.6,534.7C1650.2,536.5 1650.9,533.6 1651.5,532.2C1652.1,530.8 1652.8,527.2 1653.4,526.1C1654.1,524.9 1654.7,525.8 1655.3,525.4C1656,525.1 1656.6,524.3 1657.3,524.2C1657.9,524 1658.5,523.4 1659.2,524.7C1659.8,526 1660.5,529.8 1661.1,531.7C1661.7,533.6 1662.4,536.1 1663,536.2C1663.7,536.3 1664.3,532.8 1664.9,532.3C1665.6,531.9 1666.2,531.4 1666.8,533.8C1667.5,536.1 1668.1,544.3 1668.8,546.5C1669.4,548.6 1670,548.2 1670.7,546.9C1671.3,545.6 1672,539.7 1672.6,538.7C1673.2,537.7 1673.9,540.9 1674.6,540.8C1675.2,540.6 1675.9,538.8 1676.5,537.9C1677.2,537 1677.8,534.7 1678.5,535.5C1679.1,536.3 1679.8,540.3 1680.4,542.9C1681.1,545.5 1681.7,550.1 1682.4,551C1683,551.9 1683.7,549.2 1684.3,548.6C1685,548 1685.6,545.9 1686.3,547.4C1687,548.9 1687.6,556 1688.3,557.4C1688.9,558.8 1689.6,557.1 1690.2,556C1690.9,555 1691.5,551.3 1692.2,551C1692.8,550.7 1693.5,554 1694.1,554.1C1694.8,554.2 1695.4,552.7 1696.1,551.5C1696.7,550.4 1697.4,546.4 1698,547C1698.7,547.6 1699.3,552.4 1700,555C1700.7,557.6 1701.3,561.7 1702,562.8C1702.7,563.8 1703.3,561.8 1704,561.5C1704.7,561.2 1705.3,559.7 1706,560.9C1706.7,562.1 1707.3,568.3 1708,568.5C1708.7,568.7 1709.3,563.8 1710,562.3C1710.7,560.8 1711.3,558.8 1712,559.5C1712.7,560.2 1713.3,565.9 1714,566.7C1714.7,567.4 1715.3,565.5 1716,564.2C1716.7,562.8 1717.3,558.8 1718,558.8C1718.7,558.9 1719.3,562.5 1720,564.5C1720.7,566.5 1721.3,570.1 1722,571C1722.7,572 1723.3,569.7 1724,570.1C1724.7,570.6 1725.3,572.5 1726,573.8C1726.7,575.2 1727.3,578.9 1728,578.3C1728.7,577.6 1729.3,571.5 1730,570C1730.7,568.5 1731.3,567.7 1732,569.1C1732.7,570.4 1733.3,577.2 1734,578.3C1734.7,579.4 1735.3,576.9 1736,575.5C1736.7,574.2 1737.3,570.7 1738,570.4C1738.7,570 1739.3,572.5 1740,573.4C1740.7,574.3 1741.3,575.3 1742,575.9C1742.7,576.4 1743.3,575.2 1744,576.8C1744.7,578.4 1745.3,584 1746,585.6C1746.7,587.2 1747.3,588.4 1748,586.4C1748.7,584.4 1749.3,574.8 1750,573.5C1750.7,572.1 1751.3,575.9 1752,578.2C1752.7,580.5 1753.3,586.1 1754,587.2C1754.7,588.2 1755.3,585.5 1756,584.3C1756.7,583.2 1757.3,580.6 1758,580.2C1758.7,579.8 1759.3,582.1 1760,582C1760.7,581.9 1761.3,579.2 1762,579.5C1762.6,579.8 1763.3,580.8 1764,583.8C1764.6,586.8 1765.3,595.6 1765.9,597.5C1766.6,599.5 1767.3,598.3 1767.9,595.7C1768.6,593.2 1769.2,583.7 1769.9,582.3C1770.6,580.9 1771.2,585.2 1771.9,587.2C1772.6,589.1 1773.2,593.3 1773.9,594.2C1774.5,595.1 1775.2,593.1 1775.9,592.5C1776.5,591.8 1777.2,590.9 1777.8,590.2C1778.5,589.4 1779.2,587.7 1779.8,587.9C1780.5,588.2 1781.5,591 1781.8,591.6" stroke="#00aaff"/>
<path d="M1041,342.7C1045.1,341.2 1056.9,335 1065.6,333.6C1074.3,332.2 1087,334.6 1093.1,334.5C1099.2,334.4 1098,336.8 1102.3,332.7C1106.6,328.6 1113.3,321.9 1118.8,309.8C1124.3,297.7 1129.4,277.1 1135.2,260.3C1141,243.5 1148.1,223.9 1153.6,209C1159.1,194.1 1162.4,180 1168.2,170.6C1174,161.2 1182.9,154.1 1188.4,152.3C1193.9,150.5 1195.4,150.4 1201.2,159.6C1207,168.8 1218,195.9 1223.2,207.2C1228.4,218.5 1227.7,222.8 1232.3,227.4C1236.9,232 1244.5,231 1250.6,234.7C1256.7,238.3 1261.3,242.9 1268.9,249.3C1276.5,255.7 1288.8,266.8 1296.4,273.2C1304,279.6 1308.6,283.8 1314.7,287.8C1320.8,291.8 1325.6,292.9 1333,297C1340.4,301.1 1351.2,304.3 1359,312.1C1366.8,319.9 1374.2,338.9 1379.5,343.7C1384.8,348.4 1383.5,335.1 1390.6,340.6C1397.7,346.1 1415,371.9 1422.1,376.9C1429.2,381.9 1431,371.2 1433.2,370.6C1435.4,370 1434.5,372.4 1435.1,373.2C1435.8,374.1 1436.4,375 1437.1,375.9C1437.7,376.7 1438.4,377.6 1439,378.5C1439.6,379.4 1440.3,380.3 1440.9,381.4C1441.6,382.5 1442.2,384.3 1442.9,385.1C1443.5,386 1444.2,386.3 1444.8,386.7C1445.4,387 1446.1,386.4 1446.7,387.2C1447.4,388.1 1448,390.6 1448.7,391.8C1449.3,392.9 1448.2,396.2 1450.6,394.3C1453,392.4 1460.8,381.6 1463.2,380.1C1465.6,378.6 1464.4,384.3 1465,385.1C1465.6,385.9 1466.2,384.6 1466.8,384.7C1467.3,384.8 1467.9,384.7 1468.5,385.6C1469.1,386.5 1469.7,388.6 1470.3,390C1470.9,391.4 1471.5,393.2 1472.1,394.1C1472.7,395 1473.3,395.1 1473.9,395.5C1474.4,395.9 1475,395.7 1475.6,396.3C1476.2,396.9 1476.8,398.4 1477.4,399C1478,399.6 1478.6,399.4 1479.3,400C1479.9,400.6 1480.5,401.2 1481.1,402.5C1481.8,403.8 1482.4,405.8 1483,407.6C1483.6,409.5 1484.3,412.3 1484.9,413.6C1485.5,414.9 1486.1,415.3 1486.8,415.5C1487.4,415.6 1488,414.4 1488.6,414.6C1489.3,414.8 1489.9,415.8 1490.5,416.8C1491.1,417.9 1491.8,420 1492.4,421.2C1493,422.4 1493.6,423.2 1494.3,424.1C1494.9,424.9 1495.5,425.5 1496.1,426.3C1496.8,427.2 1495.9,429.6 1498,429C1500.1,428.4 1506.9,423.7 1509,422.7C1511.1,421.7 1510.2,422.4 1510.9,422.7C1511.5,423 1512.1,423.9 1512.7,424.5C1513.4,425 1514,425.6 1514.6,426.2C1515.2,426.7 1515.9,427.2 1516.5,428C1517.1,428.8 1517.7,430.1 1518.4,430.9C1519,431.6 1519.6,432.3 1520.2,432.4C1520.9,432.6 1521.5,431.7 1522.1,431.7C1522.7,431.7 1523.4,431.6 1524,432.5C1524.6,433.4 1525.2,435.6 1525.9,437C1526.5,438.4 1527.1,440.6 1527.7,440.8C1528.4,441.1 1527.7,439.9 1529.6,438.5C1531.5,437.1 1537.1,432.6 1539,432.2C1540.9,431.8 1540.3,435.7 1540.9,436.3C1541.5,436.9 1542.2,435.8 1542.8,435.6C1543.5,435.3 1544.1,434.5 1544.7,434.9C1545.4,435.4 1546,436.9 1546.6,438.1C1547.3,439.2 1547.9,441.1 1548.5,441.9C1549.2,442.6 1549.8,442.3 1550.5,442.4C1551.1,442.5 1551.7,442.2 1552.4,442.4C1553,442.6 1553.6,443.2 1554.3,443.4C1554.9,443.6 1555.5,443.3 1556.2,443.6C1556.8,443.9 1557.5,444.2 1558.1,445C1558.7,445.7 1558.4,445.9 1560,448.3C1561.6,450.7 1565.9,457 1567.5,459.1C1569.1,461.2 1568.8,460.4 1569.4,460.7C1570.1,461.1 1570.7,461 1571.4,461.3C1572,461.5 1572.7,461.8 1573.3,462.2C1574,462.5 1574.6,463.4 1575.3,463.4C1575.9,463.4 1576.6,462.4 1577.2,462.1C1577.9,461.9 1578.5,461.3 1579.2,461.9C1579.8,462.6 1580.5,464.7 1581.1,465.9C1581.8,467.1 1582.4,468.9 1583.1,469.3C1583.7,469.6 1584.4,468.6 1585,468.1C1585.7,467.6 1586.3,466.4 1587,466.3C1587.6,466.2 1588.3,466.9 1588.9,467.3C1589.6,467.7 1590.2,468.3 1590.9,468.7C1591.5,469.2 1592.2,469.3 1592.8,470C1593.4,470.7 1594,471.9 1594.6,472.8C1595.2,473.7 1595.8,475.1 1596.4,475.3C1597,475.5 1597.7,474.3 1598.3,473.9C1598.9,473.4 1599.5,472.4 1600.1,472.7C1600.7,473 1601.3,474.5 1601.9,475.7C1602.5,476.8 1603.1,478.8 1603.7,479.6C1604.3,480.4 1604.9,480.3 1605.5,480.3C1606.1,480.3 1606.8,479.7 1607.4,479.7C1608,479.8 1608.6,480.1 1609.2,480.6C1609.8,481 1610.4,482.2 1611,482.4C1611.6,482.6 1612.3,481.5 1612.9,481.9C1613.6,482.4 1614.2,483.7 1614.9,485.1C1615.5,486.4 1616.2,489.3 1616.8,490.2C1617.4,491 1618.1,490.6 1618.7,490C1619.4,489.4 1620,487.2 1620.7,486.8C1621.3,486.4 1622,486.8 1622.6,487.5C1623.2,488.1 1623.9,489.8 1624.5,490.6C1625.2,491.3 1625.8,491.5 1626.5,491.9C1627.1,492.3 1627.8,492.6 1628.4,493.1C1629,493.7 1629.7,495 1630.3,495.4C1631,495.9 1631.6,495.9 1632.3,495.7C1632.9,495.6 1633.6,494.1 1634.2,494.5C1634.8,494.8 1635.5,496.5 1636.1,498.1C1636.8,499.6 1637.4,503.3 1638.1,503.7C1638.7,504 1639.4,500.6 1640,500C1640.6,499.4 1641.3,499.9 1641.9,499.9C1642.6,499.9 1643.2,499.7 1643.8,499.9C1644.5,500.2 1645.1,501 1645.8,501.5C1646.4,502 1647,502.1 1647.7,502.9C1648.3,503.8 1648.9,505.4 1649.6,506.7C1650.2,508 1650.9,510.4 1651.5,511C1652.1,511.7 1652.8,511.2 1653.4,510.6C1654.1,510 1654.7,507.6 1655.3,507.5C1656,507.4 1656.6,508.9 1657.3,510.2C1657.9,511.5 1658.5,514.6 1659.2,515.5C1659.8,516.4 1660.5,515.9 1661.1,515.5C1661.7,515.2 1662.4,513.7 1663,513.4C1663.7,513 1664.3,513.3 1664.9,513.3C1665.6,513.3 1666.2,513.1 1666.8,513.3C1667.5,513.5 1668.1,513.2 1668.8,514.4C1669.4,515.5 1670,519.2 1670.7,520.2C1671.3,521.1 1672,519.1 1672.6,520C1673.2,520.9 1673.9,525.4 1674.6,525.5C1675.2,525.6 1675.9,521.1 1676.5,520.5C1677.2,519.8 1677.8,520.8 1678.5,521.7C1679.1,522.5 1679.8,524.9 1680.4,525.6C1681.1,526.3 1681.7,525.9 1682.4,526.1C1683,526.2 1683.7,526.3 1684.3,526.5C1685,526.6 1685.6,527.4 1686.3,527.2C1687,527 1687.6,525.5 1688.3,525.3C1688.9,525.1 1689.6,524.7 1690.2,526.1C1690.9,527.5 1691.5,531.3 1692.2,533.7C1692.8,536 1693.5,539.5 1694.1,540.1C1694.8,540.6 1695.4,538.5 1696.1,537.1C1696.7,535.7 1697.4,532.1 1698,531.7C1698.7,531.4 1699.3,534.6 1700,535C1700.7,535.4 1701.3,534 1702,534C1702.7,534.1 1703.3,534.7 1704,535.5C1704.7,536.4 1705.3,538.7 1706,539.3C1706.7,540 1707.3,540.1 1708,539.4C1708.7,538.7 1709.3,535.5 1710,535C1710.7,534.5 1711.3,534.9 1712,536.5C1712.7,538.1 1713.3,542.7 1714,544.5C1714.7,546.4 1715.3,548 1716,547.7C1716.7,547.3 1717.3,543.9 1718,542.5C1718.7,541.1 1719.3,539.7 1720,539.1C1720.7,538.5 1721.3,538.9 1722,538.9C1722.7,539 1723.3,538.4 1724,539.4C1724.7,540.3 1725.3,542.9 1726,544.6C1726.7,546.4 1727.3,549.9 1728,550C1728.7,550.1 1729.3,546.4 1730,545C1730.7,543.6 1731.3,541.8 1732,541.8C1732.7,541.7 1733.3,543.3 1734,544.7C1734.7,546.2 1735.3,549.5 1736,550.4C1736.7,551.3 1737.3,550.7 1738,550.1C1738.7,549.5 1739.3,547.6 1740,546.8C1740.7,546.1 1741.3,546.1 1742,545.5C1742.7,544.9 1743.3,543.2 1744,543.1C1744.7,543 1745.3,543.2 1746,544.8C1746.7,546.3 1747.3,550.8 1748,552.5C1748.7,554.2 1749.3,555.5 1750,554.9C1750.7,554.2 1751.3,550.3 1752,548.7C1752.7,547.2 1753.3,545.5 1754,545.5C1754.7,545.5 1755.3,547.6 1756,548.7C1756.7,549.7 1757.3,551.4 1758,551.6C1758.7,551.8 1759.3,549.8 1760,550C1760.7,550.2 1761.3,552.4 1762,552.5C1762.6,552.7 1763.3,551.6 1764,550.7C1764.6,549.8 1765.3,547.2 1765.9,547.3C1766.6,547.4 1767.3,549.6 1767.9,551.4C1768.6,553.3 1769.2,557.5 1769.9,558.5C1770.6,559.5 1771.2,558.5 1771.9,557.5C1772.6,556.5 1773.2,553.3 1773.9,552.2C1774.5,551.2 1775.2,551 1775.9,551.2C1776.5,551.4 1777.2,552.6 1777.8,553.3C1778.5,553.9 1779.2,554.7 1779.8,555.2C1780.5,555.6 1781.5,555.7 1781.8,555.8" stroke="#00ffff"/>
<path d="M1041,346.4C1045.1,343.3 1056.9,331.8 1065.6,328.1C1074.3,324.4 1087,325.6 1093.1,324.4C1099.2,323.2 1098,325.7 1102.3,320.8C1106.6,315.9 1113.3,307.6 1118.8,295.1C1124.3,282.6 1129.4,262.2 1135.2,245.7C1141,229.2 1148.1,210.5 1153.6,196.2C1159.1,181.8 1162.4,167.7 1168.2,159.6C1174,151.5 1182.9,148.3 1188.4,147.7C1193.9,147.1 1195.4,147.2 1201.2,155.9C1207,164.6 1217.1,189.5 1223.2,199.9C1229.3,210.3 1233.2,213.9 1237.8,218.2C1242.4,222.5 1245.4,220.6 1250.6,225.5C1255.8,230.4 1261.3,241.1 1268.9,247.5C1276.5,253.9 1288.8,257.3 1296.4,264C1304,270.7 1308.6,283.2 1314.7,287.8C1320.8,292.4 1325.5,287.8 1333,291.5C1340.5,295.2 1352.2,305.1 1360,309.8C1367.8,314.6 1372.3,313 1379.5,320C1386.7,327 1395.6,345.3 1403.2,351.6C1410.8,357.9 1421.3,356.5 1425.3,358C1429.3,359.5 1426.6,359.7 1427.3,360.5C1427.9,361.3 1428.6,362.2 1429.2,363C1429.9,363.8 1430.5,364.7 1431.2,365.5C1431.8,366.4 1432.5,367.2 1433.1,368C1433.8,368.9 1434.4,369.7 1435.1,370.5C1435.7,371.4 1436.4,372.2 1437,373C1437.7,373.9 1438.3,374.6 1439,375.5C1439.6,376.5 1440.3,377.6 1440.9,378.6C1441.6,379.6 1442.2,380.4 1442.9,381.4C1443.5,382.5 1444.2,383.9 1444.8,384.7C1445.5,385.4 1446.1,385.6 1446.8,386C1447.4,386.4 1448.1,386.1 1448.7,386.8C1449.4,387.6 1450,388.9 1450.7,390.4C1451.3,391.8 1452,394.3 1452.6,395.5C1453.3,396.7 1453.9,397.5 1454.6,397.8C1455.2,398.1 1455.9,396.7 1456.5,397.2C1457.2,397.6 1456.9,402.6 1458.5,400.6C1460.1,398.6 1464.4,386.8 1466,385C1467.6,383.2 1467.3,389 1468,389.5C1468.7,390.1 1469.3,388.5 1470,388.4C1470.7,388.2 1471.3,387.9 1472,388.6C1472.7,389.3 1473.3,391.2 1474,392.4C1474.7,393.6 1475.3,395.4 1476,396C1476.7,396.7 1477.3,396.3 1478,396.3C1478.7,396.3 1479.3,395.9 1480,396.2C1480.7,396.5 1481.3,397.4 1482,398.1C1482.7,398.8 1483.3,399.5 1484,400.4C1484.7,401.2 1485.3,401.9 1486,403.1C1486.7,404.4 1487.3,406.6 1488,407.8C1488.7,409.1 1489.3,410.4 1490,410.6C1490.7,410.8 1491.3,409.5 1492,409.1C1492.7,408.6 1493.3,407.7 1494,408C1494.7,408.3 1495.3,409.8 1496,410.8C1496.7,411.8 1497.3,413.6 1498,414C1498.7,414.4 1499.3,413.8 1500,413.4C1500.6,413 1501.3,412 1502,411.5C1502.6,411 1503.3,410.9 1503.9,410.5C1504.6,410 1505.2,409.3 1505.9,408.8C1506.6,408.4 1507.2,407.5 1507.9,407.5C1508.5,407.6 1509.2,408.7 1509.8,409.2C1510.5,409.6 1511.2,410.9 1511.8,410.2C1512.5,409.5 1513.1,406 1513.8,405C1514.5,404 1515.1,404.3 1515.8,404.3C1516.4,404.3 1517.1,404.5 1517.8,405.1C1518.4,405.8 1519.1,407.2 1519.7,408.1C1520.4,408.9 1521,409.5 1521.7,410.1C1522.4,410.8 1523,411.3 1523.7,411.9C1524.3,412.6 1525,413.6 1525.7,414C1526.3,414.4 1527,414.3 1527.6,414.3C1528.3,414.2 1528.9,413.3 1529.6,413.6C1530.3,414 1530.9,415.2 1531.6,416.3C1532.2,417.4 1532.9,419.7 1533.5,420.5C1534.2,421.3 1534.9,421.1 1535.5,420.9C1536.2,420.7 1536.8,419.4 1537.5,419.1C1538.2,418.8 1538.8,418.8 1539.5,419.2C1540.1,419.5 1540.8,420.6 1541.5,421.2C1542.1,421.9 1542.8,422.5 1543.4,423.1C1544.1,423.8 1544.8,424 1545.4,425C1546,426 1546.6,428.3 1547.2,429.4C1547.8,430.5 1548.4,431.2 1549.1,431.4C1549.7,431.7 1550.3,430.8 1550.9,430.8C1551.5,430.8 1552.1,430.6 1552.7,431.3C1553.3,432.1 1553.9,434 1554.5,435.3C1555.1,436.6 1555.7,438.4 1556.3,439.2C1557,440.1 1557.6,440.1 1558.2,440.4C1558.8,440.8 1559.4,441.1 1560,441.4C1560.6,441.7 1561.3,441.8 1561.9,442.2C1562.6,442.6 1563.2,443.4 1563.9,443.8C1564.5,444.3 1565.1,444.4 1565.8,445.1C1566.4,445.8 1567.1,446.8 1567.7,447.9C1568.4,449.1 1569,451.2 1569.6,452.1C1570.3,453 1570.9,453.5 1571.6,453.4C1572.2,453.3 1572.9,451.8 1573.5,451.5C1574.1,451.2 1574.8,451.1 1575.4,451.7C1576.1,452.4 1576.7,454.3 1577.4,455.4C1578,456.4 1578.7,457.3 1579.3,457.9C1579.9,458.6 1580.6,458.5 1581.2,459C1581.9,459.5 1582.5,460.3 1583.2,461C1583.8,461.6 1584.4,462.4 1585.1,462.7C1585.7,463 1586.4,462.6 1587,462.7C1587.7,462.7 1588.3,462.5 1588.9,463.2C1589.6,464 1590.2,466.4 1590.9,467.2C1591.5,468 1592.2,467.5 1592.8,468C1593.4,468.5 1594,470.3 1594.6,470.2C1595.2,470.2 1595.8,468.2 1596.4,467.9C1597,467.6 1597.7,468.1 1598.3,468.6C1598.9,469.1 1599.5,470.3 1600.1,470.9C1600.7,471.4 1601.3,471.4 1601.9,471.8C1602.5,472.2 1603.1,472.5 1603.7,473.1C1604.3,473.8 1604.9,475.2 1605.5,475.8C1606.1,476.4 1606.8,477.1 1607.4,476.9C1608,476.8 1608.6,475 1609.2,474.8C1609.8,474.6 1610.4,475.4 1611,475.6C1611.6,475.8 1612.3,475 1612.9,475.8C1613.6,476.5 1614.2,479.3 1614.9,480.1C1615.5,480.9 1616.2,480.8 1616.8,480.8C1617.4,480.8 1618.1,479.8 1618.7,480C1619.4,480.2 1620,481.3 1620.7,481.8C1621.3,482.4 1622,483.1 1622.6,483.5C1623.2,483.8 1623.9,483.3 1624.5,483.8C1625.2,484.4 1625.8,485.7 1626.5,486.9C1627.1,488.2 1627.8,490.6 1628.4,491.4C1629,492.2 1629.7,492.2 1630.3,491.6C1631,491.1 1631.6,488.7 1632.3,488C1632.9,487.3 1633.6,486.7 1634.2,487.3C1634.8,487.8 1635.5,490 1636.1,491.3C1636.8,492.5 1637.4,494 1638.1,494.6C1638.7,495.2 1639.4,494.5 1640,495C1640.6,495.5 1641.3,496.9 1641.9,497.7C1642.6,498.4 1643.2,499.5 1643.8,499.6C1644.5,499.7 1645.1,498.4 1645.8,498.1C1646.4,497.9 1647,497.3 1647.7,498.1C1648.3,498.9 1648.9,501.4 1649.6,502.8C1650.2,504.2 1650.9,506.3 1651.5,506.6C1652.1,506.8 1652.8,505.4 1653.4,504.5C1654.1,503.5 1654.7,501.3 1655.3,500.9C1656,500.4 1656.6,501 1657.3,501.7C1657.9,502.5 1658.5,504.3 1659.2,505.3C1659.8,506.4 1660.5,506.9 1661.1,507.8C1661.7,508.8 1662.4,509.7 1663,511C1663.7,512.2 1664.3,514.6 1664.9,515.2C1665.6,515.8 1666.2,515.4 1666.8,514.6C1667.5,513.8 1668.1,511 1668.8,510.4C1669.4,509.9 1670,510.5 1670.7,511.2C1671.3,511.9 1672,513.5 1672.6,514.8C1673.2,516.1 1673.9,518.8 1674.6,519.1C1675.2,519.3 1675.9,517 1676.5,516.4C1677.2,515.7 1677.8,514.9 1678.5,514.9C1679.1,515 1679.8,516.2 1680.4,516.9C1681.1,517.5 1681.7,518 1682.4,518.8C1683,519.6 1683.7,520.2 1684.3,521.8C1685,523.3 1685.6,526.5 1686.3,528C1687,529.4 1687.6,531 1688.3,530.5C1688.9,530 1689.6,526.5 1690.2,524.9C1690.9,523.4 1691.5,521.1 1692.2,521C1692.8,521 1693.5,523.3 1694.1,524.7C1694.8,526.1 1695.4,528.5 1696.1,529.4C1696.7,530.2 1697.4,529.7 1698,529.8C1698.7,529.9 1699.3,529.9 1700,530C1700.7,530.1 1701.3,530.5 1702,530.6C1702.7,530.7 1703.3,530.5 1704,530.6C1704.7,530.7 1705.3,530.1 1706,531.3C1706.7,532.5 1707.3,535.8 1708,537.8C1708.7,539.8 1709.3,543.2 1710,543.4C1710.7,543.5 1711.3,540.5 1712,538.7C1712.7,536.9 1713.3,533.2 1714,532.4C1714.7,531.5 1715.3,532.7 1716,533.7C1716.7,534.7 1717.3,537.1 1718,538.3C1718.7,539.4 1719.3,539.8 1720,540.6C1720.7,541.3 1721.3,542 1722,542.7C1722.7,543.4 1723.3,544.8 1724,544.8C1724.7,544.9 1725.3,543.7 1726,543C1726.7,542.3 1727.3,540.5 1728,540.9C1728.7,541.2 1729.3,543.1 1730,545C1730.7,546.9 1731.3,551.6 1732,552.3C1732.7,553 1733.3,550.9 1734,549.4C1734.7,547.9 1735.3,544.4 1736,543.3C1736.7,542.2 1737.3,542.6 1738,542.9C1738.7,543.3 1739.3,544.7 1740,545.4C1740.7,546.2 1741.3,546.4 1742,547.3C1742.7,548.2 1743.3,549.7 1744,550.8C1744.7,551.9 1745.3,554 1746,554C1746.7,554.1 1747.3,552.5 1748,551.1C1748.7,549.7 1749.3,546.3 1750,545.8C1750.7,545.3 1751.3,546.6 1752,548C1752.7,549.5 1753.3,553.6 1754,554.7C1754.7,555.7 1755.3,555 1756,554.3C1756.7,553.7 1757.3,551 1758,550.6C1758.7,550.2 1759.3,551.9 1760,552C1760.7,552.1 1761.3,551.4 1762,551.4C1762.6,551.4 1763.3,551.2 1764,551.9C1764.6,552.7 1765.3,554.3 1765.9,555.8C1766.6,557.4 1767.3,560.5 1767.9,561.1C1768.6,561.8 1769.2,561 1769.9,559.8C1770.6,558.5 1771.2,554.7 1771.9,553.6C1772.6,552.6 1773.2,552.5 1773.9,553.4C1774.5,554.4 1775.2,558.2 1775.9,559.5C1776.5,560.9 1777.2,561.5 1777.8,561.8C1778.5,562.1 1779.2,561.3 1779.8,561.2C1780.5,561 1781.5,561 1781.8,561" stroke="#55ffaa"/>
<path d="M1041,318C1045.1,315.1 1058.3,303.5 1065.6,300.6C1072.9,297.7 1078.9,299.4 1085,300.6C1091.1,301.8 1096.7,309.2 1102.3,308C1107.9,306.8 1113.3,305.2 1118.8,293.3C1124.3,281.4 1129.4,255.7 1135.2,236.5C1141,217.3 1148.1,193.8 1153.6,177.9C1159.1,162 1162.4,150.9 1168.2,141.3C1174,131.7 1182.3,122 1188.4,120.2C1194.5,118.4 1199,122.5 1204.8,130.3C1210.6,138.1 1217.1,154.1 1223.2,166.9C1229.3,179.7 1233.9,193.8 1241.5,207.2C1249.1,220.6 1259.8,238 1268.9,247.5C1278.1,257 1288.8,257.9 1296.4,264C1304,270.1 1308.6,280.1 1314.7,284.1C1320.8,288.1 1325.5,284.1 1333,287.8C1340.5,291.5 1351.3,300.4 1360,306.1C1368.7,311.8 1375.7,316.5 1385,322C1394.3,327.5 1410.3,335.8 1415.8,339C1421.3,342.2 1417.1,340.3 1417.7,340.9C1418.4,341.6 1419,342.2 1419.7,342.9C1420.3,343.5 1421,344.2 1421.6,344.8C1422.3,345.5 1422.9,346.1 1423.6,346.8C1424.2,347.4 1424.9,348.1 1425.5,348.7C1426.2,349.4 1426.8,350 1427.5,350.7C1428.1,351.3 1428.8,352 1429.4,352.6C1430.1,353.3 1430.7,353.9 1431.4,354.6C1432,355.2 1432.7,355.9 1433.3,356.5C1434,357.2 1434.6,357.8 1435.3,358.5C1435.9,359.1 1436.6,359.8 1437.2,360.4C1437.9,361.1 1438.5,361.7 1439.2,362.4C1439.8,363 1440.5,363.8 1441.1,364.3C1441.7,364.8 1442.4,364.3 1443,365.2C1443.6,366 1444.2,368.4 1444.9,369.4C1445.5,370.3 1446.1,370.4 1446.8,370.8C1447.4,371.2 1448,371.4 1448.7,371.8C1449.3,372.3 1449.9,373.1 1450.5,373.6C1451.2,374.1 1451.8,374.4 1452.4,374.7C1453.1,375 1453.7,374.8 1454.3,375.4C1455,375.9 1455.6,377 1456.2,378.1C1456.8,379.2 1457.5,381.4 1458.1,382C1458.7,382.6 1459.4,381.8 1460,381.7C1460.6,381.6 1461.3,381.3 1462,381.5C1462.7,381.7 1463.3,382.2 1464,383.1C1464.7,384.1 1465.3,386.1 1466,387.1C1466.7,388.1 1467.3,388.6 1468,389.2C1468.7,389.8 1469.3,390.3 1470,390.9C1470.7,391.6 1471.3,392.7 1472,393.1C1472.7,393.5 1473.3,393.4 1474,393.2C1474.7,393.1 1475.3,392.1 1476,392.3C1476.7,392.5 1477.3,393.4 1478,394.5C1478.7,395.6 1479.3,397.8 1480,398.8C1480.7,399.7 1481.3,400 1482,400.2C1482.7,400.3 1483.3,399.4 1484,399.7C1484.7,400 1485.3,401 1486,401.8C1486.7,402.6 1487.3,403.9 1488,404.6C1488.7,405.2 1489.3,405.2 1490,405.9C1490.7,406.5 1491.3,407.6 1492,408.4C1492.7,409.3 1493.3,410.7 1494,411C1494.7,411.4 1495.3,410.3 1496,410.4C1496.7,410.5 1497.3,412.3 1498,411.7C1498.7,411.1 1499.3,407.8 1500,407C1500.6,406.3 1501.3,407.5 1502,407.2C1502.6,406.9 1503.3,406 1503.9,405.1C1504.6,404.2 1505.2,402.7 1505.9,401.8C1506.6,401 1507.2,400.8 1507.9,400C1508.5,399.2 1509.2,398.2 1509.8,397C1510.5,395.9 1511.2,394.1 1511.8,393.1C1512.5,392.1 1513.1,390.7 1513.8,391.1C1514.5,391.5 1515.1,394.7 1515.8,395.4C1516.4,396.2 1517.1,395.7 1517.8,395.5C1518.4,395.4 1519.1,394.2 1519.7,394.4C1520.4,394.5 1521,395.5 1521.7,396.6C1522.4,397.8 1523,399.8 1523.7,401.1C1524.3,402.3 1525,403.1 1525.7,404C1526.3,404.9 1527,405.6 1527.6,406.5C1528.3,407.4 1528.9,408.9 1529.6,409.5C1530.3,410 1530.9,409.8 1531.6,409.7C1532.2,409.7 1532.9,408.7 1533.5,409.1C1534.2,409.5 1534.9,411 1535.5,412.2C1536.2,413.5 1536.8,415.7 1537.5,416.5C1538.2,417.4 1538.8,417.5 1539.5,417.6C1540.1,417.6 1540.8,416.8 1541.5,417C1542.1,417.3 1542.8,418.1 1543.4,419C1544.1,420 1544.8,421.8 1545.4,422.7C1546,423.6 1546.6,423.7 1547.2,424.3C1547.8,424.9 1548.4,425.6 1549.1,426.5C1549.7,427.3 1550.3,428.7 1550.9,429.2C1551.5,429.6 1552.1,429.5 1552.7,429C1553.3,428.5 1553.9,426.8 1554.5,426.3C1555.1,425.8 1555.7,425.7 1556.3,426.2C1557,426.7 1557.6,428.8 1558.2,429.6C1558.8,430.4 1559.4,430.4 1560,431C1560.6,431.6 1561.3,432.5 1561.9,432.9C1562.6,433.2 1563.2,432.9 1563.9,433.2C1564.5,433.5 1565.1,434.3 1565.8,434.8C1566.4,435.3 1567.1,435.7 1567.7,436.2C1568.4,436.7 1569,436.9 1569.6,437.8C1570.3,438.7 1570.9,440.5 1571.6,441.6C1572.2,442.7 1572.9,444.2 1573.5,444.3C1574.1,444.4 1574.8,442.9 1575.4,442.2C1576.1,441.5 1576.7,440 1577.4,440.1C1578,440.1 1578.7,441.5 1579.3,442.6C1579.9,443.7 1580.6,445.7 1581.2,446.7C1581.9,447.7 1582.5,448.2 1583.2,448.7C1583.8,449.2 1584.4,449.4 1585.1,449.9C1585.7,450.3 1586.4,451 1587,451.3C1587.7,451.5 1588.3,451.4 1588.9,451.4C1589.6,451.4 1590.2,450.8 1590.9,451.3C1591.5,451.8 1592.2,453.1 1592.8,454.3C1593.4,455.5 1594,458 1594.6,458.6C1595.2,459.3 1595.8,458.8 1596.4,458.1C1597,457.5 1597.7,455.5 1598.3,454.9C1598.9,454.3 1599.5,454.1 1600.1,454.5C1600.7,454.9 1601.3,456.4 1601.9,457.2C1602.5,458.1 1603.1,458.9 1603.7,459.6C1604.3,460.2 1604.9,460.5 1605.5,461.1C1606.1,461.6 1606.8,462.4 1607.4,462.8C1608,463.2 1608.6,463.5 1609.2,463.4C1609.8,463.2 1610.4,462.6 1611,462C1611.6,461.4 1612.3,459.7 1612.9,460C1613.6,460.4 1614.2,462.6 1614.9,464.1C1615.5,465.5 1616.2,468.2 1616.8,468.9C1617.4,469.6 1618.1,468.8 1618.7,468.5C1619.4,468.1 1620,466.9 1620.7,466.8C1621.3,466.8 1622,467.6 1622.6,468.1C1623.2,468.7 1623.9,469.6 1624.5,470.2C1625.2,470.8 1625.8,471 1626.5,471.7C1627.1,472.5 1627.8,473.7 1628.4,474.6C1629,475.6 1629.7,477.1 1630.3,477.2C1631,477.4 1631.6,476.3 1632.3,475.6C1632.9,474.8 1633.6,472.7 1634.2,472.7C1634.8,472.6 1635.5,473.7 1636.1,475.1C1636.8,476.4 1637.4,480.1 1638.1,480.9C1638.7,481.7 1639.4,479.8 1640,480C1640.6,480.2 1641.3,481.6 1641.9,482.1C1642.6,482.6 1643.2,482.8 1643.8,483C1644.5,483.3 1645.1,483.5 1645.8,483.6C1646.4,483.6 1647,482.9 1647.7,483.2C1648.3,483.5 1648.9,484.4 1649.6,485.4C1650.2,486.5 1650.9,488.8 1651.5,489.6C1652.1,490.4 1652.8,490.5 1653.4,490C1654.1,489.5 1654.7,487.3 1655.3,486.7C1656,486.2 1656.6,486 1657.3,486.8C1657.9,487.7 1658.5,490.5 1659.2,491.9C1659.8,493.3 1660.5,494.5 1661.1,495.2C1661.7,495.9 1662.4,495.5 1663,495.9C1663.7,496.2 1664.3,497.2 1664.9,497.5C1665.6,497.8 1666.2,498.1 1666.8,497.8C1667.5,497.4 1668.1,495.7 1668.8,495.3C1669.4,494.9 1670,494.5 1670.7,495.2C1671.3,495.9 1672,498.2 1672.6,499.5C1673.2,500.8 1673.9,502.6 1674.6,502.8C1675.2,503.1 1675.9,501.4 1676.5,500.9C1677.2,500.3 1677.8,499.2 1678.5,499.5C1679.1,499.8 1679.8,501.7 1680.4,502.6C1681.1,503.6 1681.7,504.6 1682.4,505.1C1683,505.6 1683.7,505.1 1684.3,505.5C1685,506 1685.6,507.4 1686.3,508C1687,508.5 1687.6,509.2 1688.3,508.6C1688.9,508.1 1689.6,505.7 1690.2,504.6C1690.9,503.5 1691.5,501.9 1692.2,502.1C1692.8,502.3 1693.5,504.6 1694.1,506C1694.8,507.4 1695.4,509.7 1696.1,510.5C1696.7,511.2 1697.4,510.7 1698,510.6C1698.7,510.5 1699.3,509.7 1700,510C1700.7,510.3 1701.3,512.1 1702,512.7C1702.7,513.2 1703.3,513.1 1704,513.1C1704.7,513.2 1705.3,512.2 1706,512.7C1706.7,513.3 1707.3,515.5 1708,516.5C1708.7,517.5 1709.3,518.8 1710,518.5C1710.7,518.1 1711.3,515.5 1712,514.4C1712.7,513.3 1713.3,511.6 1714,511.9C1714.7,512.1 1715.3,514.4 1716,515.8C1716.7,517.2 1717.3,519.4 1718,520.4C1718.7,521.5 1719.3,521.4 1720,522C1720.7,522.5 1721.3,523.1 1722,523.7C1722.7,524.3 1723.3,525.6 1724,525.4C1724.7,525.2 1725.3,523.4 1726,522.8C1726.7,522.1 1727.3,521.1 1728,521.5C1728.7,521.9 1729.3,523.8 1730,525C1730.7,526.2 1731.3,528.5 1732,528.6C1732.7,528.6 1733.3,526 1734,525.2C1734.7,524.3 1735.3,523.2 1736,523.4C1736.7,523.6 1737.3,525.4 1738,526.3C1738.7,527.3 1739.3,528.3 1740,529.1C1740.7,529.9 1741.3,530.1 1742,530.9C1742.7,531.7 1743.3,533.4 1744,534C1744.7,534.6 1745.3,535.2 1746,534.4C1746.7,533.6 1747.3,530.3 1748,529.2C1748.7,528 1749.3,526.9 1750,527.4C1750.7,528 1751.3,531.2 1752,532.5C1752.7,533.9 1753.3,535.2 1754,535.4C1754.7,535.6 1755.3,534.1 1756,533.7C1756.7,533.4 1757.3,533.1 1758,533.3C1758.7,533.5 1759.3,534.6 1760,535C1760.7,535.4 1761.3,535.1 1762,535.6C1762.6,536.2 1763.3,536.9 1764,538.1C1764.6,539.3 1765.3,542 1765.9,542.9C1766.6,543.8 1767.3,544.3 1767.9,543.5C1768.6,542.7 1769.2,539 1769.9,537.9C1770.6,536.8 1771.2,536 1771.9,536.7C1772.6,537.4 1773.2,540.6 1773.9,542.1C1774.5,543.6 1775.2,545.1 1775.9,545.8C1776.5,546.5 1777.2,546.2 1777.8,546.4C1778.5,546.7 1779.2,547.4 1779.8,547.5C1780.5,547.6 1781.5,547.1 1781.8,547" stroke="#aaff55"/>
<path d="M1041,309.8C1045.1,308 1055.4,300 1065.6,298.8C1075.8,297.6 1093.4,305.9 1102.3,302.5C1111.2,299.1 1113.3,292 1118.8,278.6C1124.3,265.2 1130,239.6 1135.2,221.9C1140.4,204.2 1144.4,188.3 1149.9,172.4C1155.4,156.5 1161.5,136.4 1168.2,126.6C1174.9,116.8 1184.1,114.4 1190.2,113.8C1196.3,113.2 1199.3,115.4 1204.8,123C1210.3,130.6 1217.1,146.8 1223.2,159.6C1229.3,172.4 1233.9,186.2 1241.5,199.9C1249.1,213.6 1259.8,232.5 1268.9,242C1278.1,251.5 1288.8,251.2 1296.4,256.7C1304,262.2 1308,271.6 1314.7,275C1321.4,278.4 1329.2,273.8 1336.7,276.8C1344.2,279.9 1349.5,282.7 1360,293.3C1370.5,303.9 1393,332.7 1400,340.6C1407,348.5 1401.3,340.7 1402,340.8C1402.7,340.9 1403.3,341 1404,341C1404.7,341.1 1405.3,341.2 1406,341.3C1406.7,341.3 1407.3,341.4 1408,341.5C1408.7,341.6 1409.3,341.6 1410,341.7C1410.7,341.8 1411.3,341.8 1412,341.9C1412.7,342 1413.3,342.1 1414,342.1C1414.7,342.2 1415.3,342.3 1416,342.4C1416.7,342.4 1417.3,342.5 1418,342.6C1418.7,342.7 1419.3,342.7 1420,342.8C1420.7,342.9 1421.3,342.9 1422,343C1422.7,343.1 1423.3,343.2 1424,343.2C1424.7,343.3 1425.3,343.4 1426,343.5C1426.7,343.5 1427.3,343.6 1428,343.7C1428.7,343.8 1429.3,343.8 1430,343.9C1430.7,344 1431.3,344 1432,344.1C1432.7,344.2 1433.3,344.3 1434,344.3C1434.7,344.4 1435.3,344.5 1436,344.6C1436.7,344.6 1437.3,344.7 1438,344.8C1438.7,344.9 1439.3,344.2 1440,345C1440.7,345.8 1441.3,349 1441.9,349.8C1442.5,350.6 1443.2,349.7 1443.8,349.9C1444.5,350.2 1445.1,350.7 1445.7,351.4C1446.4,352 1447,353.1 1447.6,353.8C1448.3,354.6 1448.9,355 1449.5,355.8C1450.2,356.7 1450.8,357.7 1451.4,359C1452.1,360.2 1452.7,362.2 1453.4,363.2C1454,364.2 1454.6,364.6 1455.3,364.8C1455.9,365 1456.5,363.8 1457.2,364.2C1457.8,364.6 1458.4,365.7 1459.1,367.1C1459.7,368.5 1460.3,371.2 1461,372.5C1461.6,373.9 1462.3,374.8 1462.9,375.3C1463.5,375.7 1464.2,375 1464.8,375.3C1465.4,375.6 1466.1,376.7 1466.8,377.2C1467.4,377.7 1468.1,377.9 1468.7,378.2C1469.4,378.6 1470,378.6 1470.7,379.5C1471.3,380.4 1472,382.1 1472.6,383.7C1473.3,385.2 1473.9,387.8 1474.6,388.9C1475.2,389.9 1475.9,390 1476.5,390C1477.2,390.1 1477.8,388.8 1478.5,389.1C1479.1,389.4 1479.8,390.8 1480.4,391.9C1481.1,393 1481.7,394.9 1482.4,395.9C1483,396.9 1483.7,397.2 1484.3,397.8C1485,398.4 1485.6,398.9 1486.3,399.5C1486.9,400 1487.6,400.7 1488.2,401C1488.9,401.2 1489.5,400.8 1490.2,401C1490.8,401.3 1491.5,401.5 1492.1,402.7C1492.8,403.9 1493.4,406.4 1494.1,408.2C1494.7,410 1495.4,412.8 1496,413.4C1496.7,414 1497.3,412.2 1498,411.7C1498.7,411.2 1499.3,410.6 1500,410.3C1500.6,409.9 1501.3,409.9 1502,409.8C1502.6,409.6 1503.3,409.4 1503.9,409.2C1504.6,408.9 1505.2,408.5 1505.9,408.5C1506.6,408.4 1507.2,408.9 1507.9,408.7C1508.5,408.5 1509.2,408 1509.8,407.1C1510.5,406.3 1511.2,404.1 1511.8,403.8C1512.5,403.5 1513.1,404.4 1513.8,405.4C1514.5,406.4 1515.1,408.5 1515.8,409.8C1516.4,411.2 1517.1,412.9 1517.8,413.4C1518.4,413.9 1519.1,412.9 1519.7,412.9C1520.4,412.9 1521,413.1 1521.7,413.4C1522.4,413.7 1523,414.3 1523.7,414.8C1524.3,415.3 1525,415.4 1525.7,416.2C1526.3,417.1 1527,418.6 1527.6,419.9C1528.3,421.2 1528.9,423.3 1529.6,424C1530.3,424.8 1530.9,424.5 1531.6,424.6C1532.2,424.7 1532.9,423.9 1533.5,424.5C1534.2,425.1 1534.9,427.2 1535.5,428.2C1536.2,429.3 1536.9,429.7 1537.5,430.6C1538.1,431.5 1538.8,433.2 1539.4,433.4C1540,433.7 1540.6,432.4 1541.2,432.1C1541.9,431.7 1542.5,431.8 1543.1,431.5C1543.8,431.1 1544.4,430.4 1545,430.1C1545.6,429.8 1546.2,429.2 1546.9,429.6C1547.5,430 1548.1,431.5 1548.8,432.5C1549.4,433.4 1550,435.1 1550.6,435.5C1551.2,435.9 1551.9,435.2 1552.5,434.7C1553.1,434.3 1553.8,433 1554.4,432.8C1555,432.5 1555.6,432.9 1556.2,433.4C1556.9,433.9 1557.5,435.4 1558.1,435.6C1558.8,435.8 1559.4,434.4 1560,434.6C1560.6,434.8 1561.3,436 1561.9,436.6C1562.5,437.1 1563.1,437.6 1563.8,437.7C1564.4,437.7 1565,437.2 1565.7,437C1566.3,436.8 1566.9,436 1567.5,436.4C1568.2,436.9 1568.8,438.4 1569.4,439.8C1570.1,441.1 1570.7,443.4 1571.3,444.3C1571.9,445.2 1572.6,445.3 1573.2,445.3C1573.8,445.3 1574.5,444.4 1575.1,444.3C1575.7,444.2 1576.3,444.5 1577,444.8C1577.6,445.2 1578.2,446.1 1578.9,446.5C1579.5,447 1580.1,447 1580.7,447.4C1581.4,447.9 1582,448.4 1582.6,449.1C1583.3,449.8 1583.9,451.3 1584.5,451.7C1585.1,452 1585.8,451.6 1586.4,451.2C1587,450.8 1587.7,449.3 1588.3,449.2C1588.9,449.1 1589.6,449.8 1590.2,450.7C1590.8,451.5 1591.4,453.4 1592.1,454C1592.7,454.7 1593.3,454.8 1594,454.7C1594.6,454.6 1595.2,453.7 1595.9,453.4C1596.5,453.2 1597.1,453.1 1597.8,453C1598.4,452.8 1599,452.9 1599.6,452.7C1600.3,452.5 1600.9,451.8 1601.5,451.9C1602.2,452.1 1602.8,452.6 1603.4,453.4C1604.1,454.2 1604.7,456.1 1605.3,456.6C1606,457.1 1606.6,456.7 1607.2,456.2C1607.8,455.7 1608.5,453.8 1609.1,453.6C1609.7,453.4 1610.4,454.4 1611,455C1611.6,455.6 1612.3,456.4 1612.9,456.9C1613.6,457.5 1614.2,457.9 1614.9,458.3C1615.5,458.6 1616.2,458.7 1616.8,459.1C1617.4,459.4 1618.1,460.1 1618.7,460.3C1619.4,460.5 1620,460.4 1620.7,460.3C1621.3,460.1 1622,459.2 1622.6,459.5C1623.2,459.9 1623.9,461.2 1624.5,462.5C1625.2,463.7 1625.8,466.4 1626.5,467.3C1627.1,468.2 1627.8,467.9 1628.4,467.7C1629,467.5 1629.7,466.2 1630.3,466C1631,465.9 1631.6,466.3 1632.3,466.6C1632.9,467 1633.6,467.6 1634.2,467.9C1634.8,468.3 1635.5,468.2 1636.1,468.8C1636.8,469.4 1637.4,470.9 1638.1,471.4C1638.7,471.9 1639.4,471.7 1640,472C1640.6,472.3 1641.3,473.3 1641.9,473.2C1642.6,473.2 1643.2,471.5 1643.8,471.7C1644.5,472 1645.1,473.5 1645.8,474.7C1646.4,475.9 1647,478.2 1647.7,478.9C1648.3,479.6 1648.9,479.1 1649.6,478.9C1650.2,478.8 1650.9,478 1651.5,477.7C1652.1,477.5 1652.8,477.7 1653.4,477.6C1654.1,477.5 1654.7,477 1655.3,477C1656,477 1656.6,476.9 1657.3,477.7C1657.9,478.5 1658.5,480.6 1659.2,481.9C1659.8,483.2 1660.5,485.1 1661.1,485.6C1661.7,486 1662.4,485.2 1663,484.6C1663.7,484.1 1664.3,482.5 1664.9,482.5C1665.6,482.5 1666.2,483.8 1666.8,484.7C1667.5,485.5 1668.1,487.1 1668.8,487.7C1669.4,488.2 1670,488 1670.7,488C1671.3,488 1672,487.5 1672.6,487.5C1673.2,487.5 1673.9,488.2 1674.6,488C1675.2,487.7 1675.9,486.2 1676.5,486C1677.2,485.9 1677.8,485.9 1678.5,487C1679.1,488.1 1679.8,491.1 1680.4,492.7C1681.1,494.4 1681.7,496.5 1682.4,496.9C1683,497.4 1683.7,496 1684.3,495.4C1685,494.7 1685.6,493.2 1686.3,493C1687,492.8 1687.6,493.8 1688.3,494.2C1688.9,494.6 1689.6,495 1690.2,495.4C1690.9,495.7 1691.5,495.9 1692.2,496.4C1692.8,497 1693.5,498.4 1694.1,498.7C1694.8,498.9 1695.4,498.6 1696.1,498.1C1696.7,497.6 1697.4,495.2 1698,495.5C1698.7,495.8 1699.3,498.6 1700,500C1700.7,501.4 1701.3,503 1702,504.1C1702.7,505.3 1703.3,506.9 1704,506.9C1704.7,507 1705.3,505.1 1706,504.4C1706.7,503.7 1707.3,502.9 1708,502.6C1708.7,502.2 1709.3,502.2 1710,502.2C1710.7,502.1 1711.3,501.7 1712,502.3C1712.7,503 1713.3,504.9 1714,506C1714.7,507.1 1715.3,509 1716,509.1C1716.7,509.3 1717.3,507.5 1718,506.8C1718.7,506.1 1719.3,504.7 1720,505.1C1720.7,505.5 1721.3,507.7 1722,509.1C1722.7,510.6 1723.3,512.9 1724,513.7C1724.7,514.5 1725.3,514.1 1726,513.9C1726.7,513.6 1727.3,512.4 1728,512.1C1728.7,511.8 1729.3,512.5 1730,512C1730.7,511.5 1731.3,509 1732,508.8C1732.7,508.7 1733.3,509.7 1734,511.1C1734.7,512.4 1735.3,515.7 1736,516.9C1736.7,518 1737.3,518.3 1738,517.9C1738.7,517.5 1739.3,515.1 1740,514.6C1740.7,514 1741.3,514.1 1742,514.6C1742.7,515.1 1743.3,516.9 1744,517.8C1744.7,518.6 1745.3,519.3 1746,519.6C1746.7,520 1747.3,519.8 1748,519.8C1748.7,519.7 1749.3,520 1750,519.6C1750.7,519.1 1751.3,517.6 1752,517C1752.7,516.4 1753.3,515.3 1754,516C1754.7,516.6 1755.3,519.5 1756,521.1C1756.7,522.8 1757.3,525.6 1758,525.7C1758.7,525.9 1759.3,522.6 1760,522C1760.7,521.4 1761.3,521.9 1762,521.9C1762.6,522 1763.3,522.1 1764,522.3C1764.6,522.6 1765.3,523.1 1765.9,523.5C1766.6,523.9 1767.3,524.2 1767.9,524.8C1768.6,525.4 1769.2,526.7 1769.9,527C1770.6,527.4 1771.2,527.5 1771.9,526.9C1772.6,526.3 1773.2,523.9 1773.9,523.5C1774.5,523.1 1775.2,523.4 1775.9,524.4C1776.5,525.4 1777.2,528.4 1777.8,529.5C1778.5,530.7 1779.2,531.4 1779.8,531.3C1780.5,531.1 1781.5,529 1781.8,528.5" stroke="#ffff00"/>
<path d="M1041,303.4C1045.1,302.3 1056.9,297.8 1065.6,297C1074.3,296.2 1087,298.2 1093.1,298.8C1099.2,299.4 1098,304.9 1102.3,300.6C1106.6,296.3 1113.3,285.8 1118.8,273.2C1124.2,260.6 1129.8,241.4 1135,225C1140.2,208.6 1144.5,190.8 1150,175C1155.5,159.2 1161.6,141.1 1168,130C1174.4,118.9 1182.4,110.5 1188.4,108.3C1194.4,106.1 1198.7,110.4 1204,117C1209.3,123.6 1214,135.8 1220,148C1226,160.2 1233.3,176.7 1240,190C1246.7,203.3 1253,217.2 1260,228C1267,238.8 1275.1,249.2 1281.8,255C1288.5,260.8 1293.9,258.1 1300,263C1306.1,267.9 1312.3,281.8 1318.4,284.1C1324.5,286.4 1329.8,274.9 1336.7,277C1343.6,279.1 1352.6,290.1 1360,297C1367.4,303.9 1371.2,310.7 1381,318.5C1390.8,326.3 1412.3,339.2 1419,343.7C1425.7,348.2 1420.3,345 1421,345.6C1421.7,346.3 1422.3,346.9 1423,347.5C1423.7,348.2 1424.3,348.8 1425,349.4C1425.6,350.1 1426.3,350.7 1427,351.4C1427.6,352 1428.3,352.6 1429,353.3C1429.6,353.9 1430.3,354.6 1431,355.2C1431.6,355.8 1432.3,356.5 1433,357.1C1433.6,357.7 1434.3,358.4 1435,359C1435.6,359.7 1436.3,360.3 1437,360.9C1437.6,361.6 1438.3,362.3 1438.9,362.9C1439.6,363.5 1440.3,364.2 1440.9,364.5C1441.6,364.8 1442.3,363.9 1442.9,364.5C1443.6,365 1444.3,366.4 1444.9,367.7C1445.6,368.9 1446.3,371 1446.9,372C1447.6,372.9 1448.3,373.2 1448.9,373.4C1449.6,373.6 1450.3,373 1450.9,373.2C1451.6,373.5 1452.2,374.1 1452.9,374.8C1453.6,375.6 1454.2,376.9 1454.9,377.8C1455.6,378.6 1456.2,379.1 1456.9,380.1C1457.6,381.1 1458.2,382.6 1458.8,383.6C1459.5,384.6 1460.1,385.6 1460.8,385.9C1461.4,386.3 1462.1,386.3 1462.7,385.9C1463.3,385.6 1464,384.4 1464.6,384C1465.3,383.6 1465.9,383.2 1466.6,383.7C1467.2,384.1 1467.9,385.7 1468.5,386.8C1469.1,387.9 1469.8,389.5 1470.4,390.3C1471.1,391.1 1471.7,391.2 1472.4,391.5C1473,391.8 1473.7,391.7 1474.3,392C1474.9,392.4 1475.6,393 1476.2,393.4C1476.9,393.8 1477.5,394.1 1478.2,394.5C1478.8,394.9 1479.5,395.1 1480.1,395.8C1480.7,396.5 1481.4,397.7 1482,398.7C1482.7,399.6 1483.3,400.9 1484,401.4C1484.6,401.9 1485.3,401.9 1485.9,401.6C1486.5,401.3 1487.2,400.1 1487.8,399.7C1488.5,399.4 1489.1,398.8 1489.8,399.5C1490.4,400.2 1489.5,404.4 1491.7,403.8C1493.9,403.2 1500.5,396.9 1502.7,395.9C1504.9,394.9 1504,396.8 1504.6,397.8C1505.3,398.9 1505.9,400.9 1506.5,402C1507.2,403.1 1507.8,404.1 1508.5,404.6C1509.1,405.1 1509.7,404.7 1510.4,404.8C1511,404.9 1511.7,404.6 1512.3,405.2C1512.9,405.7 1513.6,406.9 1514.2,408C1514.9,409.1 1515.5,410.5 1516.2,411.5C1516.8,412.6 1517.4,413.4 1518.1,414.5C1518.7,415.5 1519.4,416.7 1520,417.7C1520.6,418.8 1521.3,420.2 1521.9,420.9C1522.6,421.6 1523.2,421.6 1523.8,421.8C1524.5,421.9 1525.1,421.3 1525.8,421.6C1526.4,421.9 1527,422.9 1527.7,423.8C1528.3,424.8 1529,426.6 1529.6,427.5C1530.2,428.4 1530.9,429.2 1531.6,429.4C1532.2,429.6 1532.9,429 1533.5,428.9C1534.2,428.7 1534.9,428.4 1535.5,428.4C1536.2,428.5 1536.8,429 1537.5,429.2C1538.2,429.4 1538.8,429.5 1539.5,429.6C1540.1,429.8 1540.8,429.8 1541.5,430.2C1542.1,430.7 1542.8,431.7 1543.4,432.4C1544.1,433 1544.7,434 1545.4,434C1546.1,434 1546.7,433 1547.4,432.5C1548,431.9 1548.7,430.8 1549.3,430.6C1550,430.5 1550.7,431 1551.3,431.5C1552,432 1552.6,433.1 1553.3,433.7C1554,434.3 1554.6,434.7 1555.3,435C1555.9,435.2 1556.6,435.2 1557.2,435.3C1557.9,435.5 1558.6,436 1559.2,436C1559.9,436 1560.5,435.4 1561.2,435.4C1561.9,435.4 1562.5,435.7 1563.2,436.2C1563.8,436.6 1564.5,437 1565.2,438C1565.8,439 1566.5,441.1 1567.1,442.2C1567.8,443.4 1568.4,444.5 1569.1,444.9C1569.8,445.3 1570.4,444.7 1571.1,444.8C1571.7,444.8 1572.4,444.8 1573,445.3C1573.7,445.8 1574.4,446.9 1575,447.8C1575.7,448.7 1576.3,449.7 1577,450.6C1577.7,451.5 1578.3,452.3 1579,453.2C1579.6,454 1580.3,455.1 1581,456C1581.6,456.8 1582.3,458 1582.9,458.3C1583.6,458.7 1584.2,458.3 1584.9,458.1C1585.6,457.9 1586.2,457 1586.9,457.2C1587.5,457.5 1588.2,458.5 1588.8,459.7C1589.5,460.9 1590.2,463.5 1590.8,464.5C1591.5,465.4 1592.2,465.4 1592.8,465.4C1593.4,465.4 1594.1,465.1 1594.7,464.7C1595.3,464.3 1596,463.6 1596.6,463.2C1597.3,462.7 1597.9,462.5 1598.5,462C1599.2,461.6 1599.8,461 1600.4,460.6C1601.1,460.3 1601.7,459.9 1602.4,459.9C1603,459.9 1603.6,460.5 1604.3,460.6C1604.9,460.6 1605.5,460.9 1606.2,460.2C1606.8,459.4 1607.5,457.1 1608.1,456.3C1608.7,455.4 1609.3,455.5 1610,455C1610.7,454.5 1611.3,452.8 1612,453.2C1612.7,453.5 1613.3,456.2 1614,457.2C1614.7,458.3 1615.3,459 1616,459.6C1616.7,460.1 1617.3,460.4 1618,460.8C1618.7,461.2 1619.3,461.9 1620,462C1620.7,462.2 1621.3,461.9 1622,461.7C1622.7,461.5 1623.3,460.7 1624,460.9C1624.7,461 1625.3,461.5 1626,462.4C1626.7,463.3 1627.3,465.3 1628,466.1C1628.7,467 1629.3,467.5 1630,467.2C1630.7,467 1631.3,465.2 1632,464.6C1632.7,464 1633.3,463.2 1634,463.5C1634.7,463.8 1635.3,465.3 1636,466.3C1636.7,467.4 1637.3,469 1638,469.6C1638.7,470.2 1639.3,469.1 1640,470C1640.7,470.9 1641.3,473.9 1641.9,474.9C1642.6,475.9 1643.2,476 1643.8,475.8C1644.5,475.6 1645.1,474.4 1645.8,473.8C1646.4,473.2 1647,472.2 1647.7,472.4C1648.3,472.6 1648.9,473.7 1649.6,474.9C1650.2,476 1650.9,478.4 1651.5,479.4C1652.1,480.4 1652.8,480.8 1653.4,480.8C1654.1,480.8 1654.7,479.6 1655.3,479.4C1656,479.2 1656.6,479 1657.3,479.5C1657.9,479.9 1658.5,481.1 1659.2,481.9C1659.8,482.8 1660.5,483.5 1661.1,484.3C1661.7,485.2 1662.4,486 1663,487.1C1663.7,488.3 1664.3,490.2 1664.9,491.1C1665.6,491.9 1666.2,492.6 1666.8,492.3C1667.5,492.1 1668.1,490.4 1668.8,489.5C1669.4,488.6 1670,486.5 1670.7,486.9C1671.3,487.3 1672,491 1672.6,492C1673.2,493 1673.9,492.6 1674.6,493.1C1675.2,493.6 1675.9,494.7 1676.5,494.8C1677.2,495 1677.8,494.2 1678.5,494.1C1679.1,494 1679.8,494.1 1680.4,494.3C1681.1,494.4 1681.7,494.8 1682.4,494.9C1683,495 1683.7,494.5 1684.3,494.7C1685,495 1685.6,495.7 1686.3,496.7C1687,497.7 1687.6,499.9 1688.3,500.7C1688.9,501.4 1689.6,501.7 1690.2,501.1C1690.9,500.4 1691.5,498.2 1692.2,497C1692.8,495.8 1693.5,494.2 1694.1,494C1694.8,493.8 1695.4,495 1696.1,495.9C1696.7,496.9 1697.4,499.1 1698,499.8C1698.7,500.5 1699.3,499.6 1700,500C1700.7,500.4 1701.3,501.9 1702,502.5C1702.7,503 1703.3,503.5 1704,503.5C1704.7,503.5 1705.3,502.8 1706,502.3C1706.7,501.8 1707.3,500.4 1708,500.6C1708.7,500.7 1709.3,502.2 1710,503.4C1710.7,504.6 1711.3,507 1712,507.6C1712.7,508.3 1713.3,507.8 1714,507.1C1714.7,506.5 1715.3,504.4 1716,503.7C1716.7,503 1717.3,502.5 1718,502.8C1718.7,503.2 1719.3,504.7 1720,505.5C1720.7,506.3 1721.3,507.1 1722,507.8C1722.7,508.5 1723.3,508.8 1724,509.5C1724.7,510.2 1725.3,511.5 1726,511.9C1726.7,512.3 1727.3,512.3 1728,512C1728.7,511.7 1729.3,510.8 1730,510C1730.7,509.2 1731.3,507.1 1732,507.4C1732.7,507.6 1733.3,510.3 1734,511.5C1734.7,512.6 1735.3,514.1 1736,514.4C1736.7,514.7 1737.3,513.7 1738,513.3C1738.7,512.9 1739.3,512 1740,511.9C1740.7,511.8 1741.3,512.3 1742,512.6C1742.7,512.9 1743.3,513.2 1744,513.4C1744.7,513.6 1745.3,513.3 1746,513.8C1746.7,514.3 1747.3,515.5 1748,516.4C1748.7,517.3 1749.3,519 1750,519.1C1750.7,519.2 1751.3,518 1752,517C1752.7,516 1753.3,513.6 1754,513.2C1754.7,512.8 1755.3,513.6 1756,514.5C1756.7,515.4 1757.3,517.8 1758,518.4C1758.7,519 1759.3,517.7 1760,518C1760.7,518.3 1761.3,519.6 1762,520C1762.6,520.5 1763.3,520.6 1764,520.8C1764.6,520.9 1765.3,521.1 1765.9,520.8C1766.6,520.5 1767.3,519.3 1767.9,519.1C1768.6,518.9 1769.2,518.7 1769.9,519.4C1770.6,520.1 1771.2,522.3 1771.9,523.3C1772.6,524.3 1773.2,525.5 1773.9,525.5C1774.5,525.4 1775.2,523.5 1775.9,522.8C1776.5,522.1 1777.2,521 1777.8,521.1C1778.5,521.3 1779.2,523 1779.8,523.6C1780.5,524.3 1781.5,524.8 1781.8,525" stroke="#ffaa00"/>
<path d="M1041,295.1C1045.1,293.9 1056.9,287.8 1065.6,287.8C1074.3,287.8 1087,294.5 1093.1,295.1C1099.2,295.7 1098,297.3 1102.3,291.5C1106.6,285.7 1114.5,270.7 1118.8,260.3C1123.1,249.9 1123.9,242.3 1127.9,229.2C1131.9,216.1 1137.7,196.2 1142.6,181.6C1147.5,166.9 1151.7,153.2 1157.2,141.3C1162.7,129.4 1170.3,116.5 1175.5,110.1C1180.7,103.7 1184.1,102.8 1188.4,102.8C1192.7,102.8 1196.9,105.2 1201.2,110.1C1205.5,115 1208.8,120.8 1214,132.1C1219.2,143.4 1226.2,163.6 1232.3,177.9C1238.4,192.2 1244.5,206.9 1250.6,218.2C1256.7,229.5 1263.7,239 1268.9,245.7C1274.1,252.4 1276.6,254.8 1281.8,258.5C1287,262.2 1294,264.3 1300.1,267.7C1306.2,271.1 1312.3,277.4 1318.4,278.6C1324.5,279.8 1329.2,273.1 1336.7,275C1344.2,276.9 1356.3,283.8 1363.7,290C1371.1,296.2 1373.9,305.8 1381,312.1C1388.1,318.4 1397.4,322.2 1406.4,328C1415.4,333.8 1429.8,343.4 1434.8,346.9C1439.8,350.4 1436.1,348.3 1436.7,348.9C1437.3,349.6 1437.9,350.3 1438.6,351C1439.2,351.7 1439.8,352.7 1440.5,353.2C1441.1,353.8 1441.7,353.7 1442.4,354.2C1443,354.7 1443.6,355.3 1444.2,356.1C1444.9,356.8 1445.5,357.5 1446.1,358.6C1446.8,359.8 1447.4,361.7 1448,362.9C1448.7,364.2 1449.3,365.7 1449.9,366C1450.6,366.4 1451.2,364.8 1451.8,365C1452.4,365.2 1451.3,363.6 1453.7,367.4C1456.1,371.2 1462.7,385.2 1466.4,388C1470.1,390.8 1472.2,382.7 1475.9,384C1479.6,385.3 1484.3,395.9 1488.5,395.9C1492.7,395.9 1498.7,386 1501.1,384C1503.5,382 1502.4,383.4 1503.1,384.1C1503.7,384.7 1504.4,386.5 1505,387.7C1505.7,389 1506.4,390.9 1507,391.7C1507.7,392.4 1508.3,391.9 1509,392.2C1509.7,392.5 1510.3,392.8 1511,393.4C1511.6,393.9 1512.3,394.7 1513,395.5C1513.6,396.3 1514.3,397.3 1514.9,398.1C1515.6,399 1516.2,399.3 1516.9,400.6C1517.6,401.9 1518.2,405.5 1518.8,406.2C1519.5,406.9 1520.1,405 1520.8,404.7C1521.4,404.4 1522.1,403.9 1522.7,404.4C1523.3,405 1524,407.1 1524.6,408.3C1525.3,409.5 1525.9,410.6 1526.6,411.5C1527.2,412.4 1527.9,412.7 1528.5,413.5C1529.1,414.2 1529.8,415.4 1530.4,416C1531.1,416.6 1531.7,416.5 1532.4,417.1C1533,417.7 1532.1,415.8 1534.3,419.6C1536.5,423.4 1541.7,438.8 1545.4,440.1C1549.1,441.4 1552.5,427.8 1556.4,427.5C1560.4,427.2 1566.7,436.7 1569.1,438.5C1571.5,440.3 1570.3,438.7 1570.9,438.5C1571.5,438.4 1572.1,437.4 1572.6,437.5C1573.2,437.7 1573.8,438.9 1574.4,439.4C1575,439.8 1575.6,440.1 1576.2,440.2C1576.8,440.2 1577.4,439.7 1578,439.6C1578.6,439.5 1579.2,439.7 1579.8,439.7C1580.3,439.7 1580.9,439.6 1581.5,439.7C1582.1,439.8 1581.4,438 1583.3,440.1C1585.2,442.2 1590.9,450.1 1592.8,452C1594.7,453.9 1594,451.6 1594.6,451.5C1595.2,451.5 1595.8,451.5 1596.4,451.7C1597,451.9 1597.7,452.6 1598.3,452.7C1598.9,452.9 1599.5,453.3 1600.1,452.8C1600.7,452.4 1601.3,450.7 1601.9,450.1C1602.5,449.5 1603.1,448.8 1603.7,449.1C1604.3,449.4 1604.9,451.4 1605.5,452C1606.1,452.6 1606.8,453 1607.4,452.7C1608,452.4 1608.6,450.6 1609.2,450.1C1609.8,449.7 1610.4,450.1 1611,450C1611.6,449.9 1612.3,449.7 1612.9,449.7C1613.5,449.8 1614.2,449.7 1614.8,450.3C1615.4,450.8 1616.1,452.2 1616.7,453C1617.3,453.9 1618,455.4 1618.6,455.4C1619.2,455.3 1619.9,453.6 1620.5,452.8C1621.1,451.9 1621.8,450.2 1622.4,450.3C1623,450.3 1623.7,452.1 1624.3,453C1624.9,453.8 1625.6,455 1626.2,455.3C1626.8,455.7 1627.5,455.1 1628.1,455.1C1628.7,455 1629.3,454.8 1630,455C1630.7,455.2 1631.3,455.9 1632,456.1C1632.7,456.4 1633.3,455.8 1634,456.7C1634.7,457.6 1635.3,460.1 1636,461.5C1636.7,462.8 1637.3,464.7 1638,464.7C1638.7,464.8 1639.3,462.4 1640,461.8C1640.7,461.1 1641.3,460.3 1642,460.8C1642.7,461.3 1643.3,463.5 1644,464.6C1644.7,465.8 1645.3,466.4 1646,467.4C1646.7,468.4 1647.3,470.3 1648,470.7C1648.7,471.1 1649.4,470 1650,470C1650.6,470 1651.3,470.3 1651.9,470.6C1652.5,470.9 1653.1,470.6 1653.8,471.7C1654.4,472.8 1655,475.9 1655.7,477.2C1656.3,478.4 1656.9,479.2 1657.5,479.1C1658.2,479 1658.8,477 1659.4,476.6C1660,476.2 1660.7,476.2 1661.3,476.7C1661.9,477.3 1662.6,478.8 1663.2,479.8C1663.8,480.7 1664.4,481.3 1665.1,482.7C1665.7,484 1666.3,486.5 1666.9,487.8C1667.6,489.1 1668.2,490.6 1668.8,490.5C1669.5,490.4 1670.1,487.5 1670.7,487.3C1671.3,487.1 1672,488.7 1672.6,489.2C1673.2,489.7 1673.9,489.7 1674.6,490.1C1675.2,490.6 1675.9,491.9 1676.5,491.9C1677.2,491.8 1677.8,490.1 1678.5,489.7C1679.1,489.2 1679.8,489.4 1680.4,489.4C1681.1,489.4 1681.7,489.6 1682.4,489.9C1683,490.2 1683.7,490.2 1684.3,491.4C1685,492.5 1685.6,495.9 1686.3,496.8C1687,497.8 1687.6,498.1 1688.3,497.2C1688.9,496.3 1689.6,492.6 1690.2,491.4C1690.9,490.2 1691.5,489.6 1692.2,489.9C1692.8,490.3 1693.5,492.7 1694.1,493.5C1694.8,494.3 1695.4,494.5 1696.1,494.7C1696.7,495 1697.4,494.9 1698,495C1698.7,495 1699.3,495.1 1700,495C1700.7,494.9 1701.3,493.9 1702,494.2C1702.7,494.5 1703.3,495.2 1704,496.6C1704.7,498 1705.3,501.8 1706,502.4C1706.7,503 1707.3,501.4 1708,500.2C1708.7,499 1709.3,496 1710,495.3C1710.7,494.6 1711.3,495.6 1712,496.2C1712.7,496.8 1713.3,498.1 1714,498.9C1714.7,499.7 1715.3,500.1 1716,501C1716.7,501.8 1717.3,503.7 1718,504C1718.7,504.3 1719.3,503.4 1720,502.7C1720.7,502.1 1721.3,499.7 1722,500C1722.7,500.3 1723.3,503.4 1724,504.7C1724.7,505.9 1725.3,507.5 1726,507.4C1726.7,507.3 1727.3,504.4 1728,504C1728.7,503.6 1729.3,505 1730,505C1730.7,505 1731.3,503.8 1732,503.7C1732.7,503.7 1733.3,503.9 1734,504.7C1734.7,505.6 1735.3,507.7 1736,508.6C1736.7,509.6 1737.3,511 1738,510.5C1738.7,510 1739.3,506.6 1740,505.7C1740.7,504.7 1741.3,504.2 1742,504.8C1742.7,505.4 1743.3,508.4 1744,509C1744.7,509.7 1745.3,509 1746,508.8C1746.7,508.6 1747.3,507.9 1748,507.8C1748.7,507.7 1749.3,508.3 1750,508.2C1750.7,508.1 1751.3,507 1752,507.1C1752.7,507.2 1753.3,507.6 1754,508.6C1754.7,509.7 1755.3,512.9 1756,513.5C1756.7,514 1757.3,512.5 1758,511.9C1758.7,511.3 1759.3,510.4 1760,510C1760.7,509.6 1761.3,509.1 1762,509.2C1762.6,509.4 1763.3,510.6 1764,511C1764.6,511.3 1765.3,511 1765.9,511.4C1766.6,511.8 1767.3,513.2 1767.9,513.3C1768.6,513.5 1769.2,512.9 1769.9,512.2C1770.6,511.5 1771.2,509.2 1771.9,509.2C1772.6,509.1 1773.2,511.1 1773.9,512.1C1774.5,513.2 1775.2,515.5 1775.9,515.6C1776.5,515.6 1777.2,513.2 1777.8,512.4C1778.5,511.7 1779.2,511 1779.8,511.1C1780.5,511.2 1781.5,512.7 1781.8,513" stroke="#ff5500"/>
</g>
<rect x="1158.4" y="56.4" width="3" height="593.6" fill="#ff5500"/>
<rect x="1161.4" y="56.4" width="1" height="593.6" fill="#3a1a00"/>
<rect x="1162.4" y="56.4" width="2.5" height="593.6" fill="#ffff00"/>
<rect x="1164.9" y="56.4" width="1.5" height="593.6" fill="#aaff55"/>
<rect x="1166.4" y="56.4" width="1.5" height="593.6" fill="#3c9a68"/>
<rect x="1167.9" y="56.4" width="1.5" height="593.6" fill="#00c8c8"/>
<rect x="1169.4" y="56.4" width="1" height="593.6" fill="#001a70"/>
<rect x="1170.4" y="56.4" width="3" height="593.6" fill="#00008c"/>
<line x1="1184.5" y1="57.4" x2="1184.5" y2="650" stroke="#000" stroke-width="2.4" stroke-dasharray="2.4 2.0"/>
<line x1="1202.6" y1="56.4" x2="1202.6" y2="650" stroke="#111" stroke-width="2"/>
<line x1="1354.8" y1="61.4" x2="1354.8" y2="650" stroke="#000" stroke-width="2.2" stroke-dasharray="8.5 4.8"/>
<line x1="1363" y1="56.4" x2="1363" y2="650" stroke="#111" stroke-width="2"/>
<rect x="1670.5" y="56.4" width="4.6" height="593.6" fill="#2a2a2a"/>
<rect x="1671.5" y="56.4" width="2.6" height="593.6" fill="#0000aa"/>
<rect x="1683.1" y="56.4" width="4.6" height="593.6" fill="#2a2a2a"/>
<rect x="1684.1" y="56.4" width="2.6" height="593.6" fill="#0000ff"/>
<rect x="1693.3" y="56.4" width="4.6" height="593.6" fill="#2a2a2a"/>
<rect x="1694.3" y="56.4" width="2.6" height="593.6" fill="#0055ff"/>
<rect x="1712.5" y="56.4" width="4.6" height="593.6" fill="#2a2a2a"/>
<rect x="1713.5" y="56.4" width="2.6" height="593.6" fill="#00aaff"/>
<rect x="1731.5" y="56.4" width="4.6" height="593.6" fill="#2a2a2a"/>
<rect x="1732.5" y="56.4" width="2.6" height="593.6" fill="#00ffff"/>
<rect x="1747.5" y="56.4" width="4.6" height="593.6" fill="#2a2a2a"/>
<rect x="1748.5" y="56.4" width="2.6" height="593.6" fill="#55ffaa"/>
<rect x="1764.3" y="56.4" width="4.6" height="593.6" fill="#2a2a2a"/>
<rect x="1765.3" y="56.4" width="2.6" height="593.6" fill="#aaff55"/>
<rect x="1781.7" y="56.4" width="4.6" height="593.6" fill="#2a2a2a"/>
<rect x="1782.7" y="56.4" width="2.6" height="593.6" fill="#ffff00"/>
<rect x="1794.7" y="56.4" width="4.6" height="593.6" fill="#2a2a2a"/>
<rect x="1795.7" y="56.4" width="2.6" height="593.6" fill="#ffaa00"/>
<rect x="1805.1" y="56.4" width="4.6" height="593.6" fill="#2a2a2a"/>
<rect x="1806.1" y="56.4" width="2.6" height="593.6" fill="#ff5500"/>
<rect x="1040.4" y="56.4" width="775.6" height="593.6" fill="none" stroke="#a6a6a6" stroke-width="1.5"/>
<line x1="1040.4" y1="588.5" x2="1044.9" y2="588.5" stroke="#a6a6a6" stroke-width="1.3"/>
<line x1="1816" y1="588.5" x2="1811.5" y2="588.5" stroke="#a6a6a6" stroke-width="1.3"/>
<line x1="1040.4" y1="552.5" x2="1044.9" y2="552.5" stroke="#a6a6a6" stroke-width="1.3"/>
<line x1="1816" y1="552.5" x2="1811.5" y2="552.5" stroke="#a6a6a6" stroke-width="1.3"/>
<line x1="1040.4" y1="527" x2="1044.9" y2="527" stroke="#a6a6a6" stroke-width="1.3"/>
<line x1="1816" y1="527" x2="1811.5" y2="527" stroke="#a6a6a6" stroke-width="1.3"/>
<line x1="1040.4" y1="507.2" x2="1044.9" y2="507.2" stroke="#a6a6a6" stroke-width="1.3"/>
<line x1="1816" y1="507.2" x2="1811.5" y2="507.2" stroke="#a6a6a6" stroke-width="1.3"/>
<line x1="1040.4" y1="491" x2="1044.9" y2="491" stroke="#a6a6a6" stroke-width="1.3"/>
<line x1="1816" y1="491" x2="1811.5" y2="491" stroke="#a6a6a6" stroke-width="1.3"/>
<line x1="1040.4" y1="477.3" x2="1044.9" y2="477.3" stroke="#a6a6a6" stroke-width="1.3"/>
<line x1="1816" y1="477.3" x2="1811.5" y2="477.3" stroke="#a6a6a6" stroke-width="1.3"/>
<line x1="1040.4" y1="465.5" x2="1044.9" y2="465.5" stroke="#a6a6a6" stroke-width="1.3"/>
<line x1="1816" y1="465.5" x2="1811.5" y2="465.5" stroke="#a6a6a6" stroke-width="1.3"/>
<line x1="1040.4" y1="455" x2="1044.9" y2="455" stroke="#a6a6a6" stroke-width="1.3"/>
<line x1="1816" y1="455" x2="1811.5" y2="455" stroke="#a6a6a6" stroke-width="1.3"/>
<line x1="1040.4" y1="445.7" x2="1048.4" y2="445.7" stroke="#a6a6a6" stroke-width="1.3"/>
<line x1="1816" y1="445.7" x2="1808" y2="445.7" stroke="#a6a6a6" stroke-width="1.3"/>
<line x1="1040.4" y1="384.2" x2="1044.9" y2="384.2" stroke="#a6a6a6" stroke-width="1.3"/>
<line x1="1816" y1="384.2" x2="1811.5" y2="384.2" stroke="#a6a6a6" stroke-width="1.3"/>
<line x1="1040.4" y1="348.2" x2="1044.9" y2="348.2" stroke="#a6a6a6" stroke-width="1.3"/>
<line x1="1816" y1="348.2" x2="1811.5" y2="348.2" stroke="#a6a6a6" stroke-width="1.3"/>
<line x1="1040.4" y1="322.7" x2="1044.9" y2="322.7" stroke="#a6a6a6" stroke-width="1.3"/>
<line x1="1816" y1="322.7" x2="1811.5" y2="322.7" stroke="#a6a6a6" stroke-width="1.3"/>
<line x1="1040.4" y1="302.9" x2="1044.9" y2="302.9" stroke="#a6a6a6" stroke-width="1.3"/>
<line x1="1816" y1="302.9" x2="1811.5" y2="302.9" stroke="#a6a6a6" stroke-width="1.3"/>
<line x1="1040.4" y1="286.7" x2="1044.9" y2="286.7" stroke="#a6a6a6" stroke-width="1.3"/>
<line x1="1816" y1="286.7" x2="1811.5" y2="286.7" stroke="#a6a6a6" stroke-width="1.3"/>
<line x1="1040.4" y1="273" x2="1044.9" y2="273" stroke="#a6a6a6" stroke-width="1.3"/>
<line x1="1816" y1="273" x2="1811.5" y2="273" stroke="#a6a6a6" stroke-width="1.3"/>
<line x1="1040.4" y1="261.2" x2="1044.9" y2="261.2" stroke="#a6a6a6" stroke-width="1.3"/>
<line x1="1816" y1="261.2" x2="1811.5" y2="261.2" stroke="#a6a6a6" stroke-width="1.3"/>
<line x1="1040.4" y1="250.7" x2="1044.9" y2="250.7" stroke="#a6a6a6" stroke-width="1.3"/>
<line x1="1816" y1="250.7" x2="1811.5" y2="250.7" stroke="#a6a6a6" stroke-width="1.3"/>
<line x1="1040.4" y1="241.4" x2="1048.4" y2="241.4" stroke="#a6a6a6" stroke-width="1.3"/>
<line x1="1816" y1="241.4" x2="1808" y2="241.4" stroke="#a6a6a6" stroke-width="1.3"/>
<line x1="1040.4" y1="179.9" x2="1044.9" y2="179.9" stroke="#a6a6a6" stroke-width="1.3"/>
<line x1="1816" y1="179.9" x2="1811.5" y2="179.9" stroke="#a6a6a6" stroke-width="1.3"/>
<line x1="1040.4" y1="143.9" x2="1044.9" y2="143.9" stroke="#a6a6a6" stroke-width="1.3"/>
<line x1="1816" y1="143.9" x2="1811.5" y2="143.9" stroke="#a6a6a6" stroke-width="1.3"/>
<line x1="1040.4" y1="118.4" x2="1044.9" y2="118.4" stroke="#a6a6a6" stroke-width="1.3"/>
<line x1="1816" y1="118.4" x2="1811.5" y2="118.4" stroke="#a6a6a6" stroke-width="1.3"/>
<line x1="1040.4" y1="98.6" x2="1044.9" y2="98.6" stroke="#a6a6a6" stroke-width="1.3"/>
<line x1="1816" y1="98.6" x2="1811.5" y2="98.6" stroke="#a6a6a6" stroke-width="1.3"/>
<line x1="1040.4" y1="82.4" x2="1044.9" y2="82.4" stroke="#a6a6a6" stroke-width="1.3"/>
<line x1="1816" y1="82.4" x2="1811.5" y2="82.4" stroke="#a6a6a6" stroke-width="1.3"/>
<line x1="1040.4" y1="68.7" x2="1044.9" y2="68.7" stroke="#a6a6a6" stroke-width="1.3"/>
<line x1="1816" y1="68.7" x2="1811.5" y2="68.7" stroke="#a6a6a6" stroke-width="1.3"/>
<line x1="1084" y1="650" x2="1084" y2="663.5" stroke="#333" stroke-width="1.4"/>
<line x1="1084" y1="56.4" x2="1084" y2="61.4" stroke="#a6a6a6" stroke-width="1.3"/>
<line x1="1119.8" y1="650" x2="1119.8" y2="663.5" stroke="#333" stroke-width="1.4"/>
<line x1="1119.8" y1="56.4" x2="1119.8" y2="61.4" stroke="#a6a6a6" stroke-width="1.3"/>
<line x1="1150.9" y1="650" x2="1150.9" y2="663.5" stroke="#333" stroke-width="1.4"/>
<line x1="1150.9" y1="56.4" x2="1150.9" y2="61.4" stroke="#a6a6a6" stroke-width="1.3"/>
<line x1="1178.2" y1="650" x2="1178.2" y2="663.5" stroke="#333" stroke-width="1.4"/>
<line x1="1178.2" y1="56.4" x2="1178.2" y2="61.4" stroke="#a6a6a6" stroke-width="1.3"/>
<line x1="1202.7" y1="650" x2="1202.7" y2="663.5" stroke="#333" stroke-width="1.4"/>
<line x1="1202.7" y1="56.4" x2="1202.7" y2="61.4" stroke="#a6a6a6" stroke-width="1.3"/>
<line x1="1363.1" y1="650" x2="1363.1" y2="663.5" stroke="#333" stroke-width="1.4"/>
<line x1="1363.1" y1="56.4" x2="1363.1" y2="61.4" stroke="#a6a6a6" stroke-width="1.3"/>
<line x1="1457.7" y1="650" x2="1457.7" y2="663.5" stroke="#333" stroke-width="1.4"/>
<line x1="1457.7" y1="56.4" x2="1457.7" y2="61.4" stroke="#a6a6a6" stroke-width="1.3"/>
<line x1="1524.4" y1="650" x2="1524.4" y2="663.5" stroke="#333" stroke-width="1.4"/>
<line x1="1524.4" y1="56.4" x2="1524.4" y2="61.4" stroke="#a6a6a6" stroke-width="1.3"/>
<line x1="1576.8" y1="650" x2="1576.8" y2="663.5" stroke="#333" stroke-width="1.4"/>
<line x1="1576.8" y1="56.4" x2="1576.8" y2="61.4" stroke="#a6a6a6" stroke-width="1.3"/>
<line x1="1619" y1="650" x2="1619" y2="663.5" stroke="#333" stroke-width="1.4"/>
<line x1="1619" y1="56.4" x2="1619" y2="61.4" stroke="#a6a6a6" stroke-width="1.3"/>
<line x1="1655" y1="650" x2="1655" y2="663.5" stroke="#333" stroke-width="1.4"/>
<line x1="1655" y1="56.4" x2="1655" y2="61.4" stroke="#a6a6a6" stroke-width="1.3"/>
<line x1="1696" y1="650" x2="1696" y2="663.5" stroke="#333" stroke-width="1.4"/>
<line x1="1696" y1="56.4" x2="1696" y2="61.4" stroke="#a6a6a6" stroke-width="1.3"/>
<line x1="1738" y1="650" x2="1738" y2="663.5" stroke="#333" stroke-width="1.4"/>
<line x1="1738" y1="56.4" x2="1738" y2="61.4" stroke="#a6a6a6" stroke-width="1.3"/>
<line x1="1776.8" y1="650" x2="1776.8" y2="663.5" stroke="#333" stroke-width="1.4"/>
<line x1="1776.8" y1="56.4" x2="1776.8" y2="61.4" stroke="#a6a6a6" stroke-width="1.3"/>
<text x="1202.7" y="710.4" font-family="'Liberation Serif', serif" font-size="46.5" fill="#000" text-anchor="middle">1</text>
<text x="1363.1" y="710.4" font-family="'Liberation Serif', serif" font-size="46.5" fill="#000" text-anchor="middle">2</text>
<text x="1457.7" y="710.4" font-family="'Liberation Serif', serif" font-size="46.5" fill="#000" text-anchor="middle">3</text>
<text x="1524.4" y="710.4" font-family="'Liberation Serif', serif" font-size="46.5" fill="#000" text-anchor="middle">4</text>
<text x="1576.8" y="710.4" font-family="'Liberation Serif', serif" font-size="46.5" fill="#000" text-anchor="middle">5</text>
<text x="1619" y="710.4" font-family="'Liberation Serif', serif" font-size="46.5" fill="#000" text-anchor="middle">6</text>
<text x="1655" y="710.4" font-family="'Liberation Serif', serif" font-size="46.5" fill="#000" text-anchor="middle">7</text>
<text x="1696" y="710.4" font-family="'Liberation Serif', serif" font-size="46.5" fill="#000" text-anchor="middle">8</text>
<text x="1738" y="710.4" font-family="'Liberation Serif', serif" font-size="46.5" fill="#000" text-anchor="middle">9</text>
<text x="1776.8" y="710.4" font-family="'Liberation Serif', serif" font-size="46.5" fill="#000" text-anchor="middle">10</text>
<text x="959.6" y="670.2" font-family="'DejaVu Sans', 'Liberation Sans', sans-serif" font-size="39.5" fill="#262626">10<tspan dy="-20.3" dx="-0.6" font-size="31">0</tspan></text>
<text x="959.6" y="466" font-family="'DejaVu Sans', 'Liberation Sans', sans-serif" font-size="39.5" fill="#262626">10<tspan dy="-20.3" dx="-0.6" font-size="31">1</tspan></text>
<text x="959.6" y="261.6" font-family="'DejaVu Sans', 'Liberation Sans', sans-serif" font-size="39.5" fill="#262626">10<tspan dy="-20.3" dx="-0.6" font-size="31">2</tspan></text>
<text x="1046.7" y="102.3" font-family="'DejaVu Sans', 'Liberation Sans', sans-serif" font-size="45" fill="#000" font-weight="bold">[b]</text>
<text x="1201.2" y="39.1" font-family="'Liberation Serif', serif" font-size="48.5" fill="#000" textLength="83.4" lengthAdjust="spacingAndGlyphs">BFS</text>
<text x="1312.8" y="39.1" font-family="'Liberation Serif', serif" font-size="48.5" fill="#000" textLength="415.4" lengthAdjust="spacingAndGlyphs">Displacement spectra</text>
<text x="1265.6" y="759" font-family="'Liberation Serif', serif" font-size="47.6" fill="#262626" textLength="209" lengthAdjust="spacingAndGlyphs">Frequency</text>
<text x="1495.8" y="759" font-family="'Liberation Serif', serif" font-size="47.6" fill="#262626" textLength="91" lengthAdjust="spacingAndGlyphs">[cpd]</text>
<text transform="translate(44.6,548.6) rotate(-90)" font-family="'Liberation Serif', serif" font-size="47.6" fill="#262626" textLength="92" lengthAdjust="spacingAndGlyphs">PSD</text>
<text transform="translate(44.6,434) rotate(-90)" font-family="'Liberation Serif', serif" font-size="47.6" fill="#262626" textLength="97.6" lengthAdjust="spacingAndGlyphs">[dbar</text>
<text transform="translate(27.9,332.4) rotate(-90)" font-family="'Liberation Serif', serif" font-size="33" fill="#262626" textLength="16.6" lengthAdjust="spacingAndGlyphs">2</text>
<text transform="translate(44.6,296.2) rotate(-90)" font-family="'Liberation Serif', serif" font-size="47.6" fill="#262626" textLength="74.6" lengthAdjust="spacingAndGlyphs">cpd</text>
<text transform="translate(27.9,220) rotate(-90)" font-family="'Liberation Serif', serif" font-size="33" fill="#262626" textLength="21.6" lengthAdjust="spacingAndGlyphs">−</text>
<text transform="translate(44.6,191) rotate(-90)" font-family="'Liberation Serif', serif" font-size="47.6" fill="#262626" textLength="17.8" lengthAdjust="spacingAndGlyphs">1</text>
<text transform="translate(44.6,169.6) rotate(-90)" font-family="'Liberation Serif', serif" font-size="47.6" fill="#262626" textLength="7.8" lengthAdjust="spacingAndGlyphs">]</text>
<rect x="1855.6" y="615.2" width="18.4" height="58.8" fill="#0000aa"/>
<rect x="1855.6" y="556.9" width="18.4" height="58.8" fill="#0000ff"/>
<rect x="1855.6" y="498.7" width="18.4" height="58.8" fill="#0055ff"/>
<rect x="1855.6" y="440.4" width="18.4" height="58.8" fill="#00aaff"/>
<rect x="1855.6" y="382.1" width="18.4" height="58.8" fill="#00ffff"/>
<rect x="1855.6" y="323.8" width="18.4" height="58.8" fill="#55ffaa"/>
<rect x="1855.6" y="265.5" width="18.4" height="58.8" fill="#aaff55"/>
<rect x="1855.6" y="207.2" width="18.4" height="58.8" fill="#ffff00"/>
<rect x="1855.6" y="149" width="18.4" height="58.8" fill="#ffaa00"/>
<rect x="1855.6" y="90.7" width="18.4" height="58.8" fill="#ff5500"/>
<rect x="1855.6" y="32.4" width="18.4" height="58.8" fill="#ff0000"/>
<text x="1883" y="687.1" font-family="'DejaVu Sans', 'Liberation Sans', sans-serif" font-size="37.2" fill="#262626">0</text>
<text x="1883" y="570.5" font-family="'DejaVu Sans', 'Liberation Sans', sans-serif" font-size="37.2" fill="#262626">0.2</text>
<line x1="1867.5" y1="556.9" x2="1874" y2="556.9" stroke="#444" stroke-opacity="0.7" stroke-width="1.3"/>
<text x="1883" y="454" font-family="'DejaVu Sans', 'Liberation Sans', sans-serif" font-size="37.2" fill="#262626">0.4</text>
<line x1="1867.5" y1="440.4" x2="1874" y2="440.4" stroke="#444" stroke-opacity="0.7" stroke-width="1.3"/>
<text x="1883" y="337.4" font-family="'DejaVu Sans', 'Liberation Sans', sans-serif" font-size="37.2" fill="#262626">0.6</text>
<line x1="1867.5" y1="323.8" x2="1874" y2="323.8" stroke="#444" stroke-opacity="0.7" stroke-width="1.3"/>
<text x="1883" y="220.8" font-family="'DejaVu Sans', 'Liberation Sans', sans-serif" font-size="37.2" fill="#262626">0.8</text>
<line x1="1867.5" y1="207.2" x2="1874" y2="207.2" stroke="#444" stroke-opacity="0.7" stroke-width="1.3"/>
<text x="1883" y="104.3" font-family="'DejaVu Sans', 'Liberation Sans', sans-serif" font-size="37.2" fill="#262626">1</text>
<line x1="1867.5" y1="90.7" x2="1874" y2="90.7" stroke="#444" stroke-opacity="0.7" stroke-width="1.3"/>
<text transform="translate(1984,432) rotate(-90)" font-family="'Liberation Serif', serif" font-size="47.6" fill="#262626" textLength="81.6" lengthAdjust="spacingAndGlyphs">SSH</text>
<text transform="translate(1984,330) rotate(-90)" font-family="'Liberation Serif', serif" font-size="47.6" fill="#262626" textLength="53.4" lengthAdjust="spacingAndGlyphs">[m]</text>
<rect x="184.4" y="864.4" width="707.6" height="66.3" fill="url(#h1)"/>
<rect x="184.4" y="930.1" width="707.6" height="66.3" fill="url(#h2)"/>
<rect x="184.4" y="995.8" width="707.6" height="66.3" fill="url(#h3)"/>
<rect x="184.4" y="1061.5" width="707.6" height="66.3" fill="url(#h4)"/>
<rect x="184.4" y="1127.2" width="707.6" height="66.3" fill="url(#h5)"/>
<rect x="184.4" y="1193" width="707.6" height="66.3" fill="url(#h6)"/>
<rect x="184.4" y="1258.7" width="707.6" height="66.3" fill="url(#h7)"/>
<rect x="184.4" y="1324.4" width="707.6" height="66.3" fill="url(#h8)"/>
<rect x="184.4" y="1390.1" width="707.6" height="66.3" fill="url(#h9)"/>
<line x1="892" y1="995.8" x2="925.6" y2="995.8" stroke="#d9d9d9" stroke-width="1.2"/>
<line x1="892" y1="1127.2" x2="925.6" y2="1127.2" stroke="#d9d9d9" stroke-width="1.2"/>
<line x1="892" y1="1258.7" x2="925.6" y2="1258.7" stroke="#d9d9d9" stroke-width="1.2"/>
<line x1="892" y1="1390.1" x2="925.6" y2="1390.1" stroke="#d9d9d9" stroke-width="1.2"/>
<g fill="none" stroke="#1a1a1a" stroke-width="0.9" stroke-opacity="0.85" stroke-linejoin="round">
<path d="M248.7,864C248.5,872.8 247.9,912.4 247.5,930C247.1,947.6 246.2,978.7 246,996C245.8,1013.3 246.1,1042.6 245.9,1060C245.7,1077.4 244.9,1108.8 244.6,1126.5C244.3,1144.2 244.1,1175.2 243.5,1193C242.9,1210.8 241.3,1242.5 240.4,1260C239.5,1277.5 238.3,1307.2 236.7,1324.4C235.1,1341.6 230.2,1371.5 228.4,1389C226.6,1406.5 223.9,1447.1 223.2,1456"/>
<path d="M283.4,864C283.2,872.8 282.6,912.4 282,930C281.4,947.6 279.6,978.7 279,996C278.4,1013.3 277.6,1042.6 277.3,1060C277,1077.4 276.5,1108.8 276.4,1126.5C276.3,1144.2 276.8,1175.2 276.8,1193C276.8,1210.8 277.2,1242.5 276.4,1260C275.6,1277.5 272.5,1307.2 270.9,1324.4C269.3,1341.6 265.8,1371.5 264.4,1389C263,1406.5 260.8,1447.1 260.2,1456"/>
<path d="M326,864C325.3,872.8 322.1,912.4 321,930C319.9,947.6 318.6,978.7 318,996C317.4,1013.3 316.9,1042.6 316.7,1060C316.5,1077.4 316.3,1110.5 316.5,1126.5C316.7,1142.5 318.1,1171.1 318.2,1180C318.3,1188.9 318,1182.3 317.5,1193C317,1203.7 315.6,1242.5 314.3,1260C313,1277.5 310.2,1307.2 307.8,1324.4C305.4,1341.6 298.6,1371.5 296.4,1389C294.2,1406.5 291.9,1447.1 291.2,1456"/>
<path d="M350,864C351.1,872.8 356.3,912.8 358,930C359.7,947.2 361.8,975.7 363,993C364.2,1010.3 366.1,1042.2 367,1060C367.9,1077.8 368.9,1108.8 369.4,1126.5C369.9,1144.2 370.2,1175.2 370.7,1193C371.2,1210.8 372.6,1242.5 373.5,1260C374.4,1277.5 376.4,1307.2 377.7,1324.4C379,1341.6 382.1,1371.5 383.3,1389C384.5,1406.5 386.3,1447.1 386.8,1456"/>
<path d="M384.4,864C385.1,872.8 388.9,912.8 390,930C391.1,947.2 391.4,975.7 392.5,993C393.6,1010.3 397,1042.2 398.4,1060C399.8,1077.8 402.1,1108.8 403,1126.5C403.9,1144.2 404.6,1175.2 404.9,1193C405.2,1210.8 405.3,1242.5 405.4,1260C405.5,1277.5 405.2,1307.2 405.8,1324.4C406.4,1341.6 409,1371.5 409.9,1389C410.8,1406.5 412,1447.1 412.3,1456"/>
<path d="M411,864C411.5,872.8 412.9,912.8 415,930C417.1,947.2 423.4,975.8 426.7,993C430,1010.2 436.9,1041.2 440,1059C443.1,1076.8 448.9,1108.6 449.8,1126.5C450.7,1144.4 447.5,1175.2 446.8,1193C446.1,1210.8 445,1242.5 444.6,1260C444.2,1277.5 442.6,1307.2 443.7,1324.4C444.8,1341.6 450.9,1371.5 452.9,1389C454.9,1406.5 457.8,1447.1 458.5,1456"/>
<path d="M467.5,864C468.5,872.8 472.5,912.5 475,930C477.5,947.5 482.9,977.7 486,995C489.1,1012.3 496,1042.5 498.5,1060C501,1077.5 503.6,1108.8 504.7,1126.5C505.8,1144.2 506,1175.2 506.6,1193C507.2,1210.8 508.2,1242.5 509.3,1260C510.4,1277.5 514.5,1307.2 514.9,1324.4C515.3,1341.6 513,1371.5 512.1,1389C511.2,1406.5 508.9,1447.1 508.4,1456"/>
<path d="M521,864C521.4,872.8 521.9,912.5 524,930C526.1,947.5 533,977.7 536.5,995C540,1012.3 548.1,1042.5 550.3,1060C552.5,1077.5 552.2,1108.8 552.8,1126.5C553.4,1144.2 554.2,1175.5 555,1193C555.8,1210.5 557.1,1240.4 558.5,1258C559.9,1275.6 562.6,1307.3 565.3,1325C568,1342.7 575.8,1373.5 578.4,1391C581,1408.5 584.1,1447.3 585,1456"/>
<path d="M572.3,864C573,872.8 575.8,912.5 577.8,930C579.8,947.5 584.4,977.7 587.5,995C590.6,1012.3 597.7,1042.4 601,1060C604.3,1077.6 610.3,1109.2 612.3,1126.7C614.3,1144.2 615.6,1173.8 616,1191.6C616.4,1209.4 615.1,1242.1 615,1260C614.9,1277.9 614.5,1308 615.1,1325.5C615.7,1343 618.5,1373.6 619.8,1391C621.1,1408.4 623.9,1447.3 624.5,1456"/>
<path d="M639.4,864C639.7,872.8 639.8,912.5 641.3,930C642.8,947.5 649,984.5 651,995C653,1005.5 654.8,1005.7 656,1009C657.2,1012.3 657.3,1013.1 660,1020C662.7,1026.9 671.8,1046.8 676,1061C680.2,1075.2 688.3,1109.3 691.2,1126.7C694.1,1144.1 697.8,1173.8 697.8,1191.6C697.8,1209.4 692.5,1242.1 691.2,1260C689.9,1277.9 688.5,1308 688.4,1325.5C688.3,1343 690,1373.6 690.3,1391C690.6,1408.4 690.6,1447.3 690.7,1456"/>
<path d="M701.9,864C702.3,872.8 703.4,919.1 704.6,930C705.8,940.9 708.9,942.8 710.8,946C712.7,949.2 717.2,953.2 719,954C720.8,954.8 723.2,950.9 724.5,951.7C725.8,952.5 727.4,954.2 728.6,960C729.8,965.8 732.1,986.6 733.4,995.5C734.7,1004.4 736.9,1022.5 738,1027C739.1,1031.5 740.7,1024.5 741.6,1029C742.5,1033.5 743.8,1048 745,1061C746.2,1074 749.5,1109.3 750.4,1126.7C751.3,1144.1 751,1173.8 751.4,1191.6C751.8,1209.4 753,1242.1 753.3,1260C753.6,1277.9 752.6,1308 753.3,1325.5C754,1343 758,1373.6 758.9,1391C759.8,1408.4 759.7,1447.3 759.8,1456"/>
<path d="M782,864C782.9,872.8 787.2,918.3 788.9,930C790.6,941.7 792.2,944.1 794.4,951.7C796.6,959.3 803.6,981.2 805.3,987C807,992.8 805.9,985.6 807.4,995.5C808.9,1005.4 814.9,1043.5 816.3,1061C817.7,1078.5 818.2,1116.3 818.1,1126.7C818,1137.1 816.3,1130.3 815.3,1139C814.3,1147.7 811.9,1175.5 810.6,1191.6C809.3,1207.7 807,1242.1 805.9,1260C804.8,1277.9 803.2,1308 802.1,1325.5C801,1343 798.7,1373.6 797.4,1391C796.1,1408.4 793,1447.3 792.3,1456"/>
<path d="M892,1267C891.5,1265.8 889.3,1259.6 888.6,1258C887.9,1256.4 887.7,1258.1 887,1255C886.3,1251.9 884.2,1236.3 883,1235C881.8,1233.7 879.6,1242.9 878,1245C876.4,1247.1 872.3,1253.3 871,1251C869.7,1248.7 868.7,1231.3 868,1228C867.3,1224.7 866.5,1222 866,1226C865.5,1230 864.9,1249 864.2,1258C863.5,1267 861.7,1282.3 860.4,1293.6C859.1,1304.9 855.8,1334.8 854.8,1342.5C853.8,1350.2 853.7,1350.8 852.9,1351C852.1,1351.2 850.2,1344.1 849.1,1344C848,1343.9 845.5,1346.7 844.4,1350C843.3,1353.3 841.3,1354.7 840.6,1368.8C839.9,1382.9 839,1444.4 838.8,1456"/>
<path d="M335.6,1456C335.9,1454.7 337.1,1448.1 338,1446C338.9,1443.9 340.9,1440 342,1440C343.1,1440 345,1443.9 346,1446C347,1448.1 348.9,1454.7 349.4,1456"/>
</g>
<polyline points="916.3,864.4 916.3,929.7 906.7,929.7 906.7,995.5 894,995.5 894,1061 878,1061 878,1126.7 861,1126.7 861,1192.5 846,1192.5 846,1257.5 828.5,1257.5 828.5,1324.6 809.6,1324.6 809.6,1390.4 800.2,1390.4 800.2,1453.6 789,1453.6" fill="none" stroke="#1a1a1a" stroke-width="5.6" stroke-linejoin="miter"/>
<polyline points="916.3,864.4 916.3,929.7 906.7,929.7 906.7,995.5 894,995.5 894,1061 878,1061 878,1126.7 861,1126.7 861,1192.5 846,1192.5 846,1257.5 828.5,1257.5 828.5,1324.6 809.6,1324.6 809.6,1390.4 800.2,1390.4 800.2,1453.6 789,1453.6" fill="none" stroke="#f98080" stroke-width="3.4" stroke-linejoin="miter"/>
<rect x="184.4" y="864.4" width="741.2" height="591.4" fill="none" stroke="#a6a6a6" stroke-width="1.5"/>
<line x1="917.6" y1="995.8" x2="925.6" y2="995.8" stroke="#888" stroke-width="1.3"/>
<line x1="917.6" y1="1127.2" x2="925.6" y2="1127.2" stroke="#888" stroke-width="1.3"/>
<line x1="917.6" y1="1258.7" x2="925.6" y2="1258.7" stroke="#888" stroke-width="1.3"/>
<line x1="917.6" y1="1390.1" x2="925.6" y2="1390.1" stroke="#888" stroke-width="1.3"/>
<line x1="339.6" y1="1455.8" x2="339.6" y2="1469.8" stroke="#555" stroke-width="1.5"/>
<text x="339.6" y="1515.5" font-family="'Liberation Serif', serif" font-size="48" fill="#000" text-anchor="middle">1</text>
<line x1="493.4" y1="1455.8" x2="493.4" y2="1469.8" stroke="#555" stroke-width="1.5"/>
<text x="493.4" y="1515.5" font-family="'Liberation Serif', serif" font-size="48" fill="#000" text-anchor="middle">2</text>
<line x1="584" y1="1455.8" x2="584" y2="1469.8" stroke="#555" stroke-width="1.5"/>
<text x="584" y="1515.5" font-family="'Liberation Serif', serif" font-size="48" fill="#000" text-anchor="middle">3</text>
<line x1="648" y1="1455.8" x2="648" y2="1469.8" stroke="#555" stroke-width="1.5"/>
<text x="648" y="1515.5" font-family="'Liberation Serif', serif" font-size="48" fill="#000" text-anchor="middle">4</text>
<line x1="698" y1="1455.8" x2="698" y2="1469.8" stroke="#555" stroke-width="1.5"/>
<text x="698" y="1515.5" font-family="'Liberation Serif', serif" font-size="48" fill="#000" text-anchor="middle">5</text>
<line x1="738.6" y1="1455.8" x2="738.6" y2="1469.8" stroke="#555" stroke-width="1.5"/>
<text x="738.6" y="1515.5" font-family="'Liberation Serif', serif" font-size="48" fill="#000" text-anchor="middle">6</text>
<line x1="773" y1="1455.8" x2="773" y2="1469.8" stroke="#555" stroke-width="1.5"/>
<text x="773" y="1515.5" font-family="'Liberation Serif', serif" font-size="48" fill="#000" text-anchor="middle">7</text>
<line x1="812.6" y1="1455.8" x2="812.6" y2="1469.8" stroke="#555" stroke-width="1.5"/>
<text x="812.6" y="1515.5" font-family="'Liberation Serif', serif" font-size="48" fill="#000" text-anchor="middle">8</text>
<line x1="852.4" y1="1455.8" x2="852.4" y2="1469.8" stroke="#555" stroke-width="1.5"/>
<text x="852.4" y="1515.5" font-family="'Liberation Serif', serif" font-size="48" fill="#000" text-anchor="middle">9</text>
<line x1="890" y1="1455.8" x2="890" y2="1469.8" stroke="#555" stroke-width="1.5"/>
<text x="901" y="1515.5" font-family="'Liberation Serif', serif" font-size="48" fill="#000" text-anchor="middle">10</text>
<text x="174.8" y="878.8" font-family="'DejaVu Sans', 'Liberation Sans', sans-serif" font-size="39.5" fill="#262626" text-anchor="end">1</text>
<text x="174.8" y="1010.2" font-family="'DejaVu Sans', 'Liberation Sans', sans-serif" font-size="39.5" fill="#262626" text-anchor="end">0.8</text>
<text x="174.8" y="1141.6" font-family="'DejaVu Sans', 'Liberation Sans', sans-serif" font-size="39.5" fill="#262626" text-anchor="end">0.6</text>
<text x="174.8" y="1273.1" font-family="'DejaVu Sans', 'Liberation Sans', sans-serif" font-size="39.5" fill="#262626" text-anchor="end">0.4</text>
<text x="174.8" y="1404.5" font-family="'DejaVu Sans', 'Liberation Sans', sans-serif" font-size="39.5" fill="#262626" text-anchor="end">0.2</text>
<text x="189" y="910.2" font-family="'DejaVu Sans', 'Liberation Sans', sans-serif" font-size="45" fill="#000" font-weight="bold">[c]</text>
<text x="330.6" y="842" font-family="'Liberation Serif', serif" font-size="48.5" fill="#000" textLength="441.6" lengthAdjust="spacingAndGlyphs">Displacement variance</text>
<text x="391.5" y="1566" font-family="'Liberation Serif', serif" font-size="47.6" fill="#262626" textLength="209" lengthAdjust="spacingAndGlyphs">Frequency</text>
<text x="622.5" y="1566" font-family="'Liberation Serif', serif" font-size="47.6" fill="#262626" textLength="91" lengthAdjust="spacingAndGlyphs">[cpd]</text>
<rect x="1039" y="867.8" width="713.8" height="65.9" fill="url(#h10)"/>
<rect x="1039" y="933.1" width="713.8" height="65.9" fill="url(#h11)"/>
<rect x="1039" y="998.4" width="713.8" height="65.9" fill="url(#h12)"/>
<rect x="1039" y="1063.7" width="713.8" height="65.9" fill="url(#h13)"/>
<rect x="1039" y="1129" width="713.8" height="65.9" fill="url(#h14)"/>
<rect x="1039" y="1194.2" width="713.8" height="65.9" fill="url(#h15)"/>
<rect x="1039" y="1259.5" width="713.8" height="65.9" fill="url(#h16)"/>
<rect x="1039" y="1324.8" width="713.8" height="65.9" fill="url(#h17)"/>
<rect x="1039" y="1390.1" width="713.8" height="65.9" fill="url(#h18)"/>
<line x1="1752.8" y1="998.4" x2="1786" y2="998.4" stroke="#d9d9d9" stroke-width="1.2"/>
<line x1="1752.8" y1="1129" x2="1786" y2="1129" stroke="#d9d9d9" stroke-width="1.2"/>
<line x1="1752.8" y1="1259.5" x2="1786" y2="1259.5" stroke="#d9d9d9" stroke-width="1.2"/>
<line x1="1752.8" y1="1390.1" x2="1786" y2="1390.1" stroke="#d9d9d9" stroke-width="1.2"/>
<g fill="none" stroke="#1a1a1a" stroke-width="0.9" stroke-opacity="0.85" stroke-linejoin="round">
<path d="M1039,1181C1041.1,1183.6 1049.7,1190 1054.5,1200.5C1059.3,1211 1070.4,1243.4 1074.8,1260C1079.2,1276.6 1085.6,1307.4 1087.8,1324.8C1090,1342.2 1091,1373.2 1091.5,1390.6C1092,1408 1091.5,1446.4 1091.5,1455"/>
<path d="M1041.5,868C1043.1,876.6 1049.9,915.4 1053.6,932.8C1057.3,950.2 1064.9,981.1 1069.3,998.6C1073.7,1016.1 1083.1,1046.6 1086.8,1064C1090.5,1081.4 1093.8,1111.4 1097,1128.8C1100.2,1146.2 1108.2,1177.1 1110.9,1194.6C1113.6,1212.1 1115.5,1242.6 1117.3,1260C1119.1,1277.4 1123.7,1307.4 1124.7,1324.8C1125.7,1342.2 1124.9,1373.2 1124.7,1390.6C1124.5,1408 1123.4,1446.4 1123.2,1455"/>
<path d="M1102.5,868C1103.1,876.6 1105.7,915.4 1107.2,932.8C1108.7,950.2 1111.6,981.1 1113.6,998.6C1115.6,1016.1 1119.5,1046.6 1122,1064C1124.5,1081.4 1129.2,1111.4 1132.1,1128.8C1135,1146.2 1141,1177.1 1144.1,1194.6C1147.2,1212.1 1153.1,1242.6 1155.2,1260C1157.3,1277.4 1159.8,1307.4 1160.2,1324.8C1160.6,1342.2 1158.6,1373.2 1158,1390.6C1157.4,1408 1156.1,1446.4 1155.8,1455"/>
<path d="M1135.8,868C1136.2,876.6 1137.2,915.4 1138.6,932.8C1140,950.2 1143.7,981.1 1146,998.6C1148.3,1016.1 1152.8,1046.6 1156.1,1064C1159.4,1081.4 1167.1,1115.3 1171,1128.8C1174.9,1142.3 1182.2,1157.5 1185,1165C1187.8,1172.5 1190.1,1180.9 1192,1185C1193.9,1189.1 1197.6,1196 1199.6,1196C1201.6,1196 1205.2,1188.5 1207,1185C1208.8,1181.5 1210.8,1177.5 1213.4,1170C1216,1162.5 1223.4,1142.9 1226.4,1128.8C1229.4,1114.7 1233.7,1081.4 1235.6,1064C1237.5,1046.6 1239.6,1016.1 1240.3,998.6C1241,981.1 1241.2,950.2 1241.2,932.8C1241.2,915.4 1240.4,876.6 1240.3,868"/>
<path d="M1175.6,868C1175.9,872.3 1176.8,891.4 1177.5,900C1178.2,908.6 1179.9,926 1180.8,932.7C1181.7,939.4 1183,945.6 1184,950C1185,954.4 1187.3,961.6 1188.3,966C1189.3,970.4 1190.8,978.8 1191.7,982.7C1192.6,986.6 1194.2,992.8 1195,995C1195.8,997.2 1196.8,999.4 1197.5,999.4C1198.2,999.4 1199.3,997.2 1200,995C1200.7,992.8 1201.7,986.6 1202.5,982.7C1203.3,978.8 1205.1,970.4 1205.8,966C1206.5,961.6 1207.4,954.4 1208,950C1208.6,945.6 1209.7,939.4 1210,932.7C1210.3,926 1210.3,908.6 1210.3,900C1210.3,891.4 1210,872.3 1210,868"/>
<path d="M1266.1,868C1266.3,876.6 1267.1,915.4 1267.4,932.8C1267.7,950.2 1268.1,981.1 1268,998.6C1267.9,1016.1 1267.7,1046.6 1266.7,1064C1265.7,1081.4 1263,1111.4 1260.6,1128.8C1258.2,1146.2 1251.1,1177.1 1248.6,1194.6C1246.1,1212.1 1243.6,1242.6 1242,1260C1240.4,1277.4 1237.3,1307.4 1236.6,1324.8C1235.9,1342.2 1236.6,1373.2 1236.6,1390.6C1236.6,1408 1236.6,1446.4 1236.6,1455"/>
<path d="M1324.4,868C1324.3,876.6 1324.5,915.4 1324,932.8C1323.5,950.2 1321.6,981.1 1320.7,998.6C1319.8,1016.1 1319,1046.6 1317.3,1064C1315.6,1081.4 1311.2,1111.4 1307.7,1128.8C1304.2,1146.2 1295.2,1177.1 1291,1194.6C1286.8,1212.1 1279.9,1242.6 1276.3,1260C1272.7,1277.4 1266.3,1307.4 1264.3,1324.8C1262.3,1342.2 1261.9,1373.2 1261.5,1390.6C1261.1,1408 1261.2,1446.4 1261.1,1455"/>
<path d="M1378.3,868C1378,876.6 1376.9,915.4 1376.1,932.8C1375.3,950.2 1373.4,981.1 1372.4,998.6C1371.4,1016.1 1369.9,1046.6 1368.7,1064C1367.5,1081.4 1366.2,1111.4 1363.2,1128.8C1360.2,1146.2 1350.8,1177.1 1346.5,1194.6C1342.2,1212.1 1336.1,1242.6 1330.8,1260C1325.5,1277.4 1311.1,1307.4 1306.8,1324.8C1302.5,1342.2 1299.7,1373.2 1298.5,1390.6C1297.3,1408 1297.7,1446.4 1297.6,1455"/>
<path d="M1430.6,868C1430.5,877.1 1430.6,918.6 1430.2,936C1429.8,953.4 1428.6,981.4 1427.3,998.5C1426,1015.6 1422.6,1046.6 1420.5,1064C1418.4,1081.4 1414.4,1113.9 1411.7,1129C1409,1144.1 1402,1168.3 1400,1177C1398,1185.7 1398.5,1183.5 1396.4,1194.6C1394.3,1205.7 1386.7,1242.6 1384.4,1260C1382.1,1277.4 1381.8,1307.4 1378.9,1324.8C1376,1342.2 1365.5,1373.2 1362.3,1390.6C1359.1,1408 1355.9,1446.4 1354.9,1455"/>
<path d="M1496.5,868C1496.1,877.1 1495,918.6 1493.6,936C1492.2,953.4 1488.1,981.4 1485.8,998.5C1483.5,1015.6 1477.7,1046.6 1476,1064C1474.3,1081.4 1474.8,1111.6 1473.1,1129C1471.4,1146.4 1467,1177.3 1463.4,1194.5C1459.8,1211.7 1450.4,1241.3 1446,1258C1441.6,1274.7 1432.7,1302.3 1430.2,1320C1427.7,1337.7 1427.3,1372.5 1426.9,1390.5C1426.5,1408.5 1427.2,1446.4 1427.3,1455"/>
<path d="M1560.2,868C1559.9,877.1 1558.9,918.6 1558.3,936C1557.7,953.4 1556.4,981.4 1556,998.5C1555.6,1015.6 1555.8,1046.6 1555,1064C1554.2,1081.4 1552.8,1111.6 1550.1,1129C1547.4,1146.4 1538.4,1182.4 1534.5,1194.5C1530.6,1206.6 1525.3,1211.8 1520.9,1220C1516.5,1228.2 1506.1,1247.3 1501.4,1256C1496.7,1264.7 1488.9,1276.5 1485.8,1285C1482.7,1293.5 1479.9,1305.9 1478,1320C1476.1,1334.1 1472.4,1372.5 1471.2,1390.5C1470,1408.5 1469.5,1446.4 1469.2,1455"/>
<path d="M1644.6,868C1644.5,876.3 1644.2,920.9 1643.7,930C1643.2,939.1 1641.4,934.4 1640.7,936C1640,937.6 1639.8,933.7 1638.8,942C1637.8,950.3 1635.7,982.2 1633,998.5C1630.3,1014.8 1621,1049.3 1618.3,1064C1615.6,1078.7 1614.3,1100 1612.5,1108.7C1610.7,1117.4 1607,1121.5 1604.7,1129C1602.4,1136.5 1597,1156.3 1595,1165C1593,1173.7 1591.3,1182.1 1590,1194.5C1588.7,1206.9 1588.4,1241.5 1585.2,1258C1582,1274.5 1569.4,1309.2 1566,1318C1562.6,1326.8 1562.8,1314.3 1559.8,1324C1556.8,1333.7 1546,1373 1543.3,1390.5C1540.6,1408 1539.9,1446.4 1539.4,1455"/>
<path d="M1752.5,965.4C1751.5,966.9 1746.7,974.9 1745,977C1743.3,979.1 1741.1,980.9 1740,981C1738.9,981.1 1738.2,975.7 1737,978C1735.8,980.3 1732.2,995.2 1731,998.5C1729.8,1001.8 1728.8,1002.7 1728,1003C1727.2,1003.3 1725.8,995.7 1725,1000.5C1724.2,1005.3 1722.7,1031.1 1722,1039C1721.3,1046.9 1720.5,1054.1 1719.7,1060C1718.9,1065.9 1717.2,1083 1715.8,1083C1714.4,1083 1710.6,1065.2 1709,1060C1707.4,1054.8 1705.3,1044.7 1704,1044C1702.7,1043.3 1699.9,1052.9 1699,1055C1698.1,1057.1 1699,1050.1 1697.3,1060C1695.6,1069.9 1688.5,1118.6 1686.5,1129C1684.5,1139.4 1684.4,1135.5 1682.6,1138C1680.8,1140.5 1675.9,1140.5 1672.9,1148C1669.9,1155.5 1663.3,1184.1 1660.2,1194.5C1657.1,1204.9 1652.5,1217.5 1649.5,1226C1646.5,1234.5 1641.4,1245.5 1637.8,1258C1634.2,1270.5 1625.7,1302.3 1622.2,1320C1618.7,1337.7 1613.2,1372.5 1611.5,1390.5C1609.8,1408.5 1609.9,1446.4 1609.6,1455"/>
<path d="M1752.5,1202C1751.8,1200.4 1748.4,1192.7 1747,1190C1745.6,1187.3 1743.6,1182.3 1742,1181.8C1740.4,1181.3 1736.9,1185 1735,1186C1733.1,1187 1729.3,1185.6 1727.5,1189.6C1725.7,1193.6 1723.3,1210.9 1721.6,1216C1719.9,1221.1 1716.1,1227.6 1714.8,1227.6C1713.5,1227.6 1713.4,1217.5 1712,1216C1710.6,1214.5 1706.9,1210.1 1704,1216C1701.1,1221.9 1692.7,1251.3 1690.4,1260C1688.1,1268.7 1689.1,1273 1686.5,1281C1683.9,1289 1673.9,1311.6 1671,1320C1668.1,1328.4 1667.4,1334.3 1665.1,1343.7C1662.8,1353.1 1655.6,1375.7 1653.4,1390.5C1651.2,1405.3 1649.2,1446.4 1648.5,1455"/>
<path d="M1752.5,1311.6C1751.8,1311.5 1749,1308.9 1747,1310.6C1745,1312.3 1739.1,1323.2 1737.2,1324.2C1735.3,1325.2 1734.2,1316.2 1732.4,1318C1730.6,1319.8 1725.3,1333.7 1723.6,1337.9C1721.9,1342.1 1721.3,1346.2 1719.7,1349.6C1718.1,1353 1714,1361.4 1711.9,1363.2C1709.8,1365 1705.7,1360.9 1704.1,1363.2C1702.5,1365.5 1701.1,1371.7 1700.2,1380.8C1699.3,1389.9 1698.1,1422.8 1697.3,1431.4C1696.5,1440 1695.5,1444 1694.3,1445C1693.1,1446 1689.7,1437.9 1688.5,1439.2C1687.3,1440.5 1686,1452.9 1685.6,1455"/>
</g>
<polyline points="1777.8,868 1777.8,933.2 1767.5,933.2 1767.5,998.5 1754.8,998.5 1754.8,1063 1738.2,1063 1738.2,1129 1721.6,1129 1721.6,1194.5 1707,1194.5 1707,1259 1686.5,1259 1686.5,1325 1669,1325 1669,1390.5 1660.2,1390.5 1660.2,1453.2 1648.5,1453.2" fill="none" stroke="#1a1a1a" stroke-width="5.6" stroke-linejoin="miter"/>
<polyline points="1777.8,868 1777.8,933.2 1767.5,933.2 1767.5,998.5 1754.8,998.5 1754.8,1063 1738.2,1063 1738.2,1129 1721.6,1129 1721.6,1194.5 1707,1194.5 1707,1259 1686.5,1259 1686.5,1325 1669,1325 1669,1390.5 1660.2,1390.5 1660.2,1453.2 1648.5,1453.2" fill="none" stroke="#f98080" stroke-width="3.4" stroke-linejoin="miter"/>
<rect x="1039" y="867.8" width="747" height="587.6" fill="none" stroke="#a6a6a6" stroke-width="1.5"/>
<line x1="1778" y1="998.4" x2="1786" y2="998.4" stroke="#888" stroke-width="1.3"/>
<line x1="1778" y1="1129" x2="1786" y2="1129" stroke="#888" stroke-width="1.3"/>
<line x1="1778" y1="1259.5" x2="1786" y2="1259.5" stroke="#888" stroke-width="1.3"/>
<line x1="1778" y1="1390.1" x2="1786" y2="1390.1" stroke="#888" stroke-width="1.3"/>
<line x1="1196.6" y1="1455.4" x2="1196.6" y2="1469.4" stroke="#555" stroke-width="1.5"/>
<text x="1196.6" y="1515.5" font-family="'Liberation Serif', serif" font-size="48" fill="#000" text-anchor="middle">1</text>
<line x1="1350.4" y1="1455.4" x2="1350.4" y2="1469.4" stroke="#555" stroke-width="1.5"/>
<text x="1350.4" y="1515.5" font-family="'Liberation Serif', serif" font-size="48" fill="#000" text-anchor="middle">2</text>
<line x1="1441" y1="1455.4" x2="1441" y2="1469.4" stroke="#555" stroke-width="1.5"/>
<text x="1441" y="1515.5" font-family="'Liberation Serif', serif" font-size="48" fill="#000" text-anchor="middle">3</text>
<line x1="1505" y1="1455.4" x2="1505" y2="1469.4" stroke="#555" stroke-width="1.5"/>
<text x="1505" y="1515.5" font-family="'Liberation Serif', serif" font-size="48" fill="#000" text-anchor="middle">4</text>
<line x1="1555" y1="1455.4" x2="1555" y2="1469.4" stroke="#555" stroke-width="1.5"/>
<text x="1555" y="1515.5" font-family="'Liberation Serif', serif" font-size="48" fill="#000" text-anchor="middle">5</text>
<line x1="1595.6" y1="1455.4" x2="1595.6" y2="1469.4" stroke="#555" stroke-width="1.5"/>
<text x="1595.6" y="1515.5" font-family="'Liberation Serif', serif" font-size="48" fill="#000" text-anchor="middle">6</text>
<line x1="1630" y1="1455.4" x2="1630" y2="1469.4" stroke="#555" stroke-width="1.5"/>
<text x="1630" y="1515.5" font-family="'Liberation Serif', serif" font-size="48" fill="#000" text-anchor="middle">7</text>
<line x1="1669.6" y1="1455.4" x2="1669.6" y2="1469.4" stroke="#555" stroke-width="1.5"/>
<text x="1669.6" y="1515.5" font-family="'Liberation Serif', serif" font-size="48" fill="#000" text-anchor="middle">8</text>
<line x1="1709.4" y1="1455.4" x2="1709.4" y2="1469.4" stroke="#555" stroke-width="1.5"/>
<text x="1709.4" y="1515.5" font-family="'Liberation Serif', serif" font-size="48" fill="#000" text-anchor="middle">9</text>
<line x1="1747" y1="1455.4" x2="1747" y2="1469.4" stroke="#555" stroke-width="1.5"/>
<text x="1758" y="1515.5" font-family="'Liberation Serif', serif" font-size="48" fill="#000" text-anchor="middle">10</text>
<text x="1029.4" y="882.2" font-family="'DejaVu Sans', 'Liberation Sans', sans-serif" font-size="39.5" fill="#262626" text-anchor="end">1</text>
<text x="1029.4" y="1012.8" font-family="'DejaVu Sans', 'Liberation Sans', sans-serif" font-size="39.5" fill="#262626" text-anchor="end">0.8</text>
<text x="1029.4" y="1143.4" font-family="'DejaVu Sans', 'Liberation Sans', sans-serif" font-size="39.5" fill="#262626" text-anchor="end">0.6</text>
<text x="1029.4" y="1273.9" font-family="'DejaVu Sans', 'Liberation Sans', sans-serif" font-size="39.5" fill="#262626" text-anchor="end">0.4</text>
<text x="1029.4" y="1404.5" font-family="'DejaVu Sans', 'Liberation Sans', sans-serif" font-size="39.5" fill="#262626" text-anchor="end">0.2</text>
<text x="1043.6" y="913.6" font-family="'DejaVu Sans', 'Liberation Sans', sans-serif" font-size="45" fill="#000" font-weight="bold">[d]</text>
<text x="1182.4" y="842" font-family="'Liberation Serif', serif" font-size="48.5" fill="#000" textLength="82.2" lengthAdjust="spacingAndGlyphs">BFS</text>
<text x="1287.2" y="842" font-family="'Liberation Serif', serif" font-size="48.5" fill="#000" textLength="248.4" lengthAdjust="spacingAndGlyphs">Displacement</text>
<text x="1555.5" y="842" font-family="'Liberation Serif', serif" font-size="48.5" fill="#000" textLength="162.7" lengthAdjust="spacingAndGlyphs">variance</text>
<text x="1249.5" y="1566" font-family="'Liberation Serif', serif" font-size="47.6" fill="#262626" textLength="209" lengthAdjust="spacingAndGlyphs">Frequency</text>
<text x="1480.5" y="1566" font-family="'Liberation Serif', serif" font-size="47.6" fill="#262626" textLength="91" lengthAdjust="spacingAndGlyphs">[cpd]</text>
<text transform="translate(87.2,1228) rotate(-90)" font-family="'DejaVu Sans', 'Liberation Sans', sans-serif" font-size="37.5" fill="#000">SSH [m]</text>
<defs><linearGradient id="cbg" x1="0" y1="0" x2="0" y2="1"><stop offset="0.0000" stop-color="#800000"/><stop offset="0.0250" stop-color="#990000"/><stop offset="0.0500" stop-color="#b30000"/><stop offset="0.0750" stop-color="#cc0000"/><stop offset="0.1000" stop-color="#e50000"/><stop offset="0.1250" stop-color="#ff0000"/><stop offset="0.1500" stop-color="#ff1a00"/><stop offset="0.1750" stop-color="#ff3300"/><stop offset="0.2000" stop-color="#ff4c00"/><stop offset="0.2250" stop-color="#ff6600"/><stop offset="0.2500" stop-color="#ff8000"/><stop offset="0.2750" stop-color="#ff9900"/><stop offset="0.3000" stop-color="#ffb300"/><stop offset="0.3250" stop-color="#ffcc00"/><stop offset="0.3500" stop-color="#ffe500"/><stop offset="0.3750" stop-color="#ffff00"/><stop offset="0.4000" stop-color="#e5ff1a"/><stop offset="0.4250" stop-color="#ccff33"/><stop offset="0.4500" stop-color="#b3ff4c"/><stop offset="0.4750" stop-color="#99ff66"/><stop offset="0.5000" stop-color="#80ff80"/><stop offset="0.5250" stop-color="#66ff99"/><stop offset="0.5500" stop-color="#4cffb3"/><stop offset="0.5750" stop-color="#33ffcc"/><stop offset="0.6000" stop-color="#1affe5"/><stop offset="0.6250" stop-color="#00ffff"/><stop offset="0.6500" stop-color="#00e5ff"/><stop offset="0.6750" stop-color="#00ccff"/><stop offset="0.7000" stop-color="#00b3ff"/><stop offset="0.7250" stop-color="#0099ff"/><stop offset="0.7500" stop-color="#0080ff"/><stop offset="0.7750" stop-color="#0066ff"/><stop offset="0.8000" stop-color="#004cff"/><stop offset="0.8250" stop-color="#0033ff"/><stop offset="0.8500" stop-color="#001aff"/><stop offset="0.8750" stop-color="#0000ff"/><stop offset="0.9000" stop-color="#0000e5"/><stop offset="0.9250" stop-color="#0000cc"/><stop offset="0.9500" stop-color="#0000b3"/><stop offset="0.9750" stop-color="#000099"/><stop offset="1.0000" stop-color="#000080"/></linearGradient><linearGradient id="h1" gradientUnits="objectBoundingBox" x1="0" y1="0" x2="1" y2="0"><stop offset="-0.0006" stop-color="#bfff40"/><stop offset="0.0220" stop-color="#c7ff38"/><stop offset="0.0856" stop-color="#c7ff38"/><stop offset="0.0955" stop-color="#e8ff17"/><stop offset="0.1012" stop-color="#ffff00"/><stop offset="0.1125" stop-color="#ffe000"/><stop offset="0.1224" stop-color="#ffc000"/><stop offset="0.1337" stop-color="#ff9800"/><stop offset="0.1436" stop-color="#ff7000"/><stop offset="0.1549" stop-color="#ff4800"/><stop offset="0.1662" stop-color="#ff2000"/><stop offset="0.1775" stop-color="#ff0000"/><stop offset="0.1888" stop-color="#f00000"/><stop offset="0.2058" stop-color="#e80000"/><stop offset="0.2199" stop-color="#e80000"/><stop offset="0.2312" stop-color="#ff0000"/><stop offset="0.2453" stop-color="#ff2000"/><stop offset="0.2595" stop-color="#ff4000"/><stop offset="0.2736" stop-color="#ff6000"/><stop offset="0.2906" stop-color="#ff8800"/><stop offset="0.3047" stop-color="#ffa000"/><stop offset="0.3217" stop-color="#ffcc00"/><stop offset="0.3386" stop-color="#ffe000"/><stop offset="0.3556" stop-color="#ffff00"/><stop offset="0.3782" stop-color="#f0ff0f"/><stop offset="0.3966" stop-color="#dfff20"/><stop offset="0.4149" stop-color="#d0ff2f"/><stop offset="0.4460" stop-color="#afff50"/><stop offset="0.4743" stop-color="#80ff80"/><stop offset="0.5096" stop-color="#70ff8f"/><stop offset="0.5308" stop-color="#5fffa0"/><stop offset="0.5520" stop-color="#2fffd0"/><stop offset="0.5873" stop-color="#0ffff0"/><stop offset="0.6227" stop-color="#00ffff"/><stop offset="0.6580" stop-color="#00e8ff"/><stop offset="0.6792" stop-color="#00c8ff"/><stop offset="0.7145" stop-color="#00b0ff"/><stop offset="0.7499" stop-color="#0098ff"/><stop offset="0.7923" stop-color="#0088ff"/><stop offset="0.8347" stop-color="#0070ff"/><stop offset="0.8841" stop-color="#0058ff"/><stop offset="0.9124" stop-color="#0048ff"/><stop offset="0.9406" stop-color="#0040ff"/><stop offset="0.9689" stop-color="#0030ff"/><stop offset="1.0000" stop-color="#0020ff"/></linearGradient><linearGradient id="h2" gradientUnits="objectBoundingBox" x1="0" y1="0" x2="1" y2="0"><stop offset="-0.0006" stop-color="#afff50"/><stop offset="0.0150" stop-color="#d0ff2f"/><stop offset="0.0644" stop-color="#d8ff27"/><stop offset="0.0899" stop-color="#dfff20"/><stop offset="0.1012" stop-color="#e8ff17"/><stop offset="0.1125" stop-color="#ffff00"/><stop offset="0.1224" stop-color="#ffd000"/><stop offset="0.1323" stop-color="#ffa000"/><stop offset="0.1436" stop-color="#ff8000"/><stop offset="0.1549" stop-color="#ff5000"/><stop offset="0.1662" stop-color="#ff2000"/><stop offset="0.1789" stop-color="#ff0000"/><stop offset="0.1916" stop-color="#e80000"/><stop offset="0.2058" stop-color="#d80000"/><stop offset="0.2199" stop-color="#d60000"/><stop offset="0.2340" stop-color="#e00000"/><stop offset="0.2453" stop-color="#f00000"/><stop offset="0.2489" stop-color="#ff0000"/><stop offset="0.2566" stop-color="#ff2000"/><stop offset="0.2708" stop-color="#ff4000"/><stop offset="0.2877" stop-color="#ff6800"/><stop offset="0.3075" stop-color="#ff8000"/><stop offset="0.3287" stop-color="#ffa000"/><stop offset="0.3471" stop-color="#ffc000"/><stop offset="0.3612" stop-color="#ffd800"/><stop offset="0.3782" stop-color="#ffff00"/><stop offset="0.4036" stop-color="#f7ff08"/><stop offset="0.4291" stop-color="#d0ff2f"/><stop offset="0.4601" stop-color="#a0ff5f"/><stop offset="0.4912" stop-color="#8fff70"/><stop offset="0.5280" stop-color="#70ff8f"/><stop offset="0.5591" stop-color="#40ffbf"/><stop offset="0.5873" stop-color="#20ffdf"/><stop offset="0.6227" stop-color="#00ffff"/><stop offset="0.6580" stop-color="#00f0ff"/><stop offset="0.6905" stop-color="#00e0ff"/><stop offset="0.7357" stop-color="#00c0ff"/><stop offset="0.7852" stop-color="#00a0ff"/><stop offset="0.8417" stop-color="#0080ff"/><stop offset="0.8912" stop-color="#0068ff"/><stop offset="0.9406" stop-color="#0048ff"/><stop offset="0.9760" stop-color="#0038ff"/><stop offset="1.0000" stop-color="#0030ff"/></linearGradient><linearGradient id="h3" gradientUnits="objectBoundingBox" x1="0" y1="0" x2="1" y2="0"><stop offset="-0.0006" stop-color="#d0ff2f"/><stop offset="0.0220" stop-color="#e8ff17"/><stop offset="0.0786" stop-color="#e8ff17"/><stop offset="0.0955" stop-color="#dfff20"/><stop offset="0.1125" stop-color="#ffff00"/><stop offset="0.1238" stop-color="#ffc800"/><stop offset="0.1337" stop-color="#ffa000"/><stop offset="0.1436" stop-color="#ff7000"/><stop offset="0.1549" stop-color="#ff4000"/><stop offset="0.1662" stop-color="#ff2000"/><stop offset="0.1775" stop-color="#ff0000"/><stop offset="0.1945" stop-color="#e00000"/><stop offset="0.2171" stop-color="#d40000"/><stop offset="0.2369" stop-color="#e80000"/><stop offset="0.2477" stop-color="#ff0000"/><stop offset="0.2552" stop-color="#ff1000"/><stop offset="0.2694" stop-color="#ff3000"/><stop offset="0.2849" stop-color="#ff6000"/><stop offset="0.3019" stop-color="#ff7800"/><stop offset="0.3188" stop-color="#ffa000"/><stop offset="0.3400" stop-color="#ffb000"/><stop offset="0.3570" stop-color="#ffd000"/><stop offset="0.3782" stop-color="#ffe800"/><stop offset="0.4064" stop-color="#ffff00"/><stop offset="0.4347" stop-color="#f0ff0f"/><stop offset="0.4559" stop-color="#d0ff2f"/><stop offset="0.4771" stop-color="#afff50"/><stop offset="0.5025" stop-color="#97ff68"/><stop offset="0.5308" stop-color="#70ff8f"/><stop offset="0.5661" stop-color="#40ffbf"/><stop offset="0.6156" stop-color="#20ffdf"/><stop offset="0.6580" stop-color="#0ffff0"/><stop offset="0.6863" stop-color="#00ffff"/><stop offset="0.7145" stop-color="#00f0ff"/><stop offset="0.7357" stop-color="#00e0ff"/><stop offset="0.7852" stop-color="#00b8ff"/><stop offset="0.8417" stop-color="#0090ff"/><stop offset="0.8912" stop-color="#0070ff"/><stop offset="0.9336" stop-color="#0058ff"/><stop offset="0.9760" stop-color="#0040ff"/><stop offset="1.0000" stop-color="#0030ff"/></linearGradient><linearGradient id="h4" gradientUnits="objectBoundingBox" x1="0" y1="0" x2="1" y2="0"><stop offset="-0.0006" stop-color="#a7ff58"/><stop offset="0.0192" stop-color="#b8ff47"/><stop offset="0.0362" stop-color="#c7ff38"/><stop offset="0.0856" stop-color="#c7ff38"/><stop offset="0.0913" stop-color="#dfff20"/><stop offset="0.1012" stop-color="#ffff00"/><stop offset="0.1125" stop-color="#ffd800"/><stop offset="0.1238" stop-color="#ffb000"/><stop offset="0.1351" stop-color="#ff9000"/><stop offset="0.1450" stop-color="#ff7000"/><stop offset="0.1549" stop-color="#ff4800"/><stop offset="0.1634" stop-color="#ff1800"/><stop offset="0.1747" stop-color="#ff0000"/><stop offset="0.1832" stop-color="#e80000"/><stop offset="0.1987" stop-color="#d80000"/><stop offset="0.2142" stop-color="#d80000"/><stop offset="0.2270" stop-color="#e00000"/><stop offset="0.2397" stop-color="#f40000"/><stop offset="0.2430" stop-color="#ff0000"/><stop offset="0.2524" stop-color="#ff2000"/><stop offset="0.2637" stop-color="#ff4000"/><stop offset="0.2835" stop-color="#ff6800"/><stop offset="0.3047" stop-color="#ff9800"/><stop offset="0.3259" stop-color="#ffb000"/><stop offset="0.3471" stop-color="#ffb800"/><stop offset="0.3867" stop-color="#ffd000"/><stop offset="0.4178" stop-color="#ffff00"/><stop offset="0.4460" stop-color="#f0ff0f"/><stop offset="0.4573" stop-color="#e8ff17"/><stop offset="0.4771" stop-color="#bfff40"/><stop offset="0.5025" stop-color="#a0ff5f"/><stop offset="0.5223" stop-color="#8fff70"/><stop offset="0.5407" stop-color="#70ff8f"/><stop offset="0.5661" stop-color="#50ffaf"/><stop offset="0.5873" stop-color="#40ffbf"/><stop offset="0.6156" stop-color="#2fffd0"/><stop offset="0.6439" stop-color="#20ffdf"/><stop offset="0.6580" stop-color="#0ffff0"/><stop offset="0.6721" stop-color="#00ffff"/><stop offset="0.6933" stop-color="#00e8ff"/><stop offset="0.7145" stop-color="#00c8ff"/><stop offset="0.7357" stop-color="#00b0ff"/><stop offset="0.7569" stop-color="#0098ff"/><stop offset="0.7852" stop-color="#0090ff"/><stop offset="0.8135" stop-color="#0080ff"/><stop offset="0.8417" stop-color="#0078ff"/><stop offset="0.8700" stop-color="#0068ff"/><stop offset="0.8912" stop-color="#0058ff"/><stop offset="0.9124" stop-color="#0048ff"/><stop offset="0.9406" stop-color="#0038ff"/><stop offset="0.9661" stop-color="#0030ff"/><stop offset="1.0000" stop-color="#0020ff"/></linearGradient><linearGradient id="h5" gradientUnits="objectBoundingBox" x1="0" y1="0" x2="1" y2="0"><stop offset="-0.0006" stop-color="#bfff40"/><stop offset="0.0786" stop-color="#c7ff38"/><stop offset="0.0927" stop-color="#dfff20"/><stop offset="0.1040" stop-color="#ffff00"/><stop offset="0.1139" stop-color="#ffd000"/><stop offset="0.1238" stop-color="#ffb000"/><stop offset="0.1337" stop-color="#ff8800"/><stop offset="0.1436" stop-color="#ff6000"/><stop offset="0.1535" stop-color="#ff3000"/><stop offset="0.1648" stop-color="#ff0800"/><stop offset="0.1681" stop-color="#ff0000"/><stop offset="0.1775" stop-color="#e80000"/><stop offset="0.1945" stop-color="#d00000"/><stop offset="0.2128" stop-color="#d00000"/><stop offset="0.2270" stop-color="#e00000"/><stop offset="0.2411" stop-color="#ff0000"/><stop offset="0.2552" stop-color="#ff3000"/><stop offset="0.2694" stop-color="#ff5000"/><stop offset="0.2877" stop-color="#ff6800"/><stop offset="0.3047" stop-color="#ff8800"/><stop offset="0.3217" stop-color="#ffa000"/><stop offset="0.3471" stop-color="#ffb800"/><stop offset="0.3754" stop-color="#ffd000"/><stop offset="0.4036" stop-color="#ffe800"/><stop offset="0.4248" stop-color="#ffff00"/><stop offset="0.4319" stop-color="#f7ff08"/><stop offset="0.4601" stop-color="#d8ff27"/><stop offset="0.4884" stop-color="#afff50"/><stop offset="0.5124" stop-color="#8fff70"/><stop offset="0.5308" stop-color="#80ff80"/><stop offset="0.5478" stop-color="#5fffa0"/><stop offset="0.5873" stop-color="#40ffbf"/><stop offset="0.6227" stop-color="#20ffdf"/><stop offset="0.6580" stop-color="#00ffff"/><stop offset="0.7004" stop-color="#00ffff"/><stop offset="0.7287" stop-color="#00e8ff"/><stop offset="0.7569" stop-color="#00c8ff"/><stop offset="0.7852" stop-color="#00b0ff"/><stop offset="0.8135" stop-color="#0098ff"/><stop offset="0.8417" stop-color="#0080ff"/><stop offset="0.8770" stop-color="#0070ff"/><stop offset="0.9124" stop-color="#0050ff"/><stop offset="0.9336" stop-color="#0040ff"/><stop offset="0.9689" stop-color="#0020ff"/><stop offset="1.0000" stop-color="#0010ff"/></linearGradient><linearGradient id="h6" gradientUnits="objectBoundingBox" x1="0" y1="0" x2="1" y2="0"><stop offset="-0.0006" stop-color="#f0ff0f"/><stop offset="0.0475" stop-color="#dfff20"/><stop offset="0.0786" stop-color="#dfff20"/><stop offset="0.0899" stop-color="#f0ff0f"/><stop offset="0.1012" stop-color="#ffff00"/><stop offset="0.1068" stop-color="#ffe000"/><stop offset="0.1125" stop-color="#ffc000"/><stop offset="0.1238" stop-color="#ffa000"/><stop offset="0.1351" stop-color="#ff7800"/><stop offset="0.1464" stop-color="#ff5000"/><stop offset="0.1577" stop-color="#ff2800"/><stop offset="0.1690" stop-color="#ff1000"/><stop offset="0.1803" stop-color="#ff0000"/><stop offset="0.1945" stop-color="#f00000"/><stop offset="0.2199" stop-color="#e80000"/><stop offset="0.2340" stop-color="#ff0000"/><stop offset="0.2510" stop-color="#ff2800"/><stop offset="0.2722" stop-color="#ff5000"/><stop offset="0.2934" stop-color="#ff7000"/><stop offset="0.3146" stop-color="#ff9800"/><stop offset="0.3428" stop-color="#ffc000"/><stop offset="0.3711" stop-color="#ffe000"/><stop offset="0.3966" stop-color="#ffff00"/><stop offset="0.4276" stop-color="#f0ff0f"/><stop offset="0.4559" stop-color="#dfff20"/><stop offset="0.4813" stop-color="#bfff40"/><stop offset="0.5096" stop-color="#a0ff5f"/><stop offset="0.5308" stop-color="#8fff70"/><stop offset="0.5520" stop-color="#70ff8f"/><stop offset="0.5732" stop-color="#50ffaf"/><stop offset="0.6015" stop-color="#40ffbf"/><stop offset="0.6297" stop-color="#20ffdf"/><stop offset="0.6509" stop-color="#00ffff"/><stop offset="0.7145" stop-color="#00ffff"/><stop offset="0.7357" stop-color="#00e8ff"/><stop offset="0.7569" stop-color="#00d0ff"/><stop offset="0.7852" stop-color="#00b8ff"/><stop offset="0.8135" stop-color="#00a0ff"/><stop offset="0.8417" stop-color="#0088ff"/><stop offset="0.8700" stop-color="#0078ff"/><stop offset="0.8982" stop-color="#0060ff"/><stop offset="0.9265" stop-color="#0040ff"/><stop offset="0.9548" stop-color="#0010ff"/><stop offset="0.9781" stop-color="#0000ff"/><stop offset="1.0000" stop-color="#0000f0"/></linearGradient><linearGradient id="h7" gradientUnits="objectBoundingBox" x1="0" y1="0" x2="1" y2="0"><stop offset="-0.0006" stop-color="#d8ff27"/><stop offset="0.0644" stop-color="#dfff20"/><stop offset="0.0729" stop-color="#d0ff2f"/><stop offset="0.0842" stop-color="#d8ff27"/><stop offset="0.0927" stop-color="#e8ff17"/><stop offset="0.0984" stop-color="#ffff00"/><stop offset="0.1097" stop-color="#ffd000"/><stop offset="0.1224" stop-color="#ffb000"/><stop offset="0.1337" stop-color="#ff8800"/><stop offset="0.1436" stop-color="#ff6000"/><stop offset="0.1535" stop-color="#ff3000"/><stop offset="0.1648" stop-color="#ff1000"/><stop offset="0.1775" stop-color="#ff0000"/><stop offset="0.1888" stop-color="#f00000"/><stop offset="0.2029" stop-color="#d80000"/><stop offset="0.2171" stop-color="#d00000"/><stop offset="0.2270" stop-color="#e00000"/><stop offset="0.2411" stop-color="#ff0000"/><stop offset="0.2552" stop-color="#ff3000"/><stop offset="0.2694" stop-color="#ff5000"/><stop offset="0.2863" stop-color="#ff7000"/><stop offset="0.3075" stop-color="#ff9800"/><stop offset="0.3330" stop-color="#ffb000"/><stop offset="0.3612" stop-color="#ffc000"/><stop offset="0.3923" stop-color="#ffe000"/><stop offset="0.4178" stop-color="#ffff00"/><stop offset="0.4460" stop-color="#ffff00"/><stop offset="0.4573" stop-color="#f0ff0f"/><stop offset="0.4813" stop-color="#d0ff2f"/><stop offset="0.5096" stop-color="#afff50"/><stop offset="0.5308" stop-color="#97ff68"/><stop offset="0.5478" stop-color="#80ff80"/><stop offset="0.5704" stop-color="#5fffa0"/><stop offset="0.5873" stop-color="#50ffaf"/><stop offset="0.6156" stop-color="#2fffd0"/><stop offset="0.6439" stop-color="#20ffdf"/><stop offset="0.6792" stop-color="#0ffff0"/><stop offset="0.7145" stop-color="#00ffff"/><stop offset="0.7428" stop-color="#00e8ff"/><stop offset="0.7711" stop-color="#00d0ff"/><stop offset="0.7923" stop-color="#00b8ff"/><stop offset="0.8135" stop-color="#00a0ff"/><stop offset="0.8417" stop-color="#0088ff"/><stop offset="0.8700" stop-color="#0070ff"/><stop offset="0.8912" stop-color="#0050ff"/><stop offset="0.9124" stop-color="#0030ff"/><stop offset="0.9548" stop-color="#0010ff"/><stop offset="0.9781" stop-color="#0000ff"/><stop offset="1.0000" stop-color="#0000f0"/></linearGradient><linearGradient id="h8" gradientUnits="objectBoundingBox" x1="0" y1="0" x2="1" y2="0"><stop offset="-0.0006" stop-color="#d8ff27"/><stop offset="0.0715" stop-color="#dfff20"/><stop offset="0.0828" stop-color="#f0ff0f"/><stop offset="0.0955" stop-color="#ffff00"/><stop offset="0.1012" stop-color="#ffe800"/><stop offset="0.1097" stop-color="#ffc800"/><stop offset="0.1181" stop-color="#ffa000"/><stop offset="0.1295" stop-color="#ff7800"/><stop offset="0.1408" stop-color="#ff5000"/><stop offset="0.1521" stop-color="#ff2000"/><stop offset="0.1634" stop-color="#ff0000"/><stop offset="0.1775" stop-color="#e00000"/><stop offset="0.1916" stop-color="#c80000"/><stop offset="0.2058" stop-color="#b00000"/><stop offset="0.2199" stop-color="#a80000"/><stop offset="0.2340" stop-color="#c00000"/><stop offset="0.2482" stop-color="#e00000"/><stop offset="0.2595" stop-color="#ff0000"/><stop offset="0.2665" stop-color="#ff2000"/><stop offset="0.2764" stop-color="#ff4000"/><stop offset="0.2934" stop-color="#ff6000"/><stop offset="0.3118" stop-color="#ff9000"/><stop offset="0.3259" stop-color="#ffa800"/><stop offset="0.3471" stop-color="#ffb800"/><stop offset="0.3754" stop-color="#ffc000"/><stop offset="0.3895" stop-color="#ffd000"/><stop offset="0.4036" stop-color="#ffe800"/><stop offset="0.4178" stop-color="#ffff00"/><stop offset="0.4460" stop-color="#ffff00"/><stop offset="0.4743" stop-color="#dfff20"/><stop offset="0.5223" stop-color="#d0ff2f"/><stop offset="0.5407" stop-color="#afff50"/><stop offset="0.5591" stop-color="#8fff70"/><stop offset="0.5873" stop-color="#70ff8f"/><stop offset="0.6156" stop-color="#50ffaf"/><stop offset="0.6439" stop-color="#2fffd0"/><stop offset="0.6721" stop-color="#0ffff0"/><stop offset="0.7004" stop-color="#00ffff"/><stop offset="0.7287" stop-color="#00f0ff"/><stop offset="0.7569" stop-color="#00e0ff"/><stop offset="0.7852" stop-color="#00c8ff"/><stop offset="0.8064" stop-color="#00b0ff"/><stop offset="0.8276" stop-color="#0090ff"/><stop offset="0.8488" stop-color="#0070ff"/><stop offset="0.8700" stop-color="#0050ff"/><stop offset="0.8982" stop-color="#0030ff"/><stop offset="0.9265" stop-color="#0010ff"/><stop offset="0.9460" stop-color="#0000ff"/><stop offset="0.9548" stop-color="#0000f8"/><stop offset="1.0000" stop-color="#0000e0"/></linearGradient><linearGradient id="h9" gradientUnits="objectBoundingBox" x1="0" y1="0" x2="1" y2="0"><stop offset="-0.0006" stop-color="#dfff20"/><stop offset="0.0136" stop-color="#dfff20"/><stop offset="0.0192" stop-color="#ffff00"/><stop offset="0.0334" stop-color="#ffe000"/><stop offset="0.0432" stop-color="#ffd000"/><stop offset="0.0786" stop-color="#ffc000"/><stop offset="0.1026" stop-color="#ffb000"/><stop offset="0.1153" stop-color="#ff9800"/><stop offset="0.1280" stop-color="#ff7000"/><stop offset="0.1422" stop-color="#ff4000"/><stop offset="0.1549" stop-color="#ff2000"/><stop offset="0.1626" stop-color="#ff0000"/><stop offset="0.1662" stop-color="#f00000"/><stop offset="0.1789" stop-color="#d00000"/><stop offset="0.1916" stop-color="#b80000"/><stop offset="0.2058" stop-color="#a00000"/><stop offset="0.2199" stop-color="#a00000"/><stop offset="0.2340" stop-color="#b80000"/><stop offset="0.2453" stop-color="#d00000"/><stop offset="0.2581" stop-color="#ff0000"/><stop offset="0.2736" stop-color="#ff3000"/><stop offset="0.2934" stop-color="#ff6000"/><stop offset="0.3118" stop-color="#ff9000"/><stop offset="0.3301" stop-color="#ffa800"/><stop offset="0.3499" stop-color="#ffb800"/><stop offset="0.3683" stop-color="#ffc000"/><stop offset="0.4036" stop-color="#ffc800"/><stop offset="0.4291" stop-color="#ffd000"/><stop offset="0.4375" stop-color="#ffff00"/><stop offset="0.4460" stop-color="#dfff20"/><stop offset="0.4503" stop-color="#bfff40"/><stop offset="0.4601" stop-color="#a0ff5f"/><stop offset="0.4884" stop-color="#a7ff58"/><stop offset="0.5096" stop-color="#b8ff47"/><stop offset="0.5223" stop-color="#bfff40"/><stop offset="0.5407" stop-color="#afff50"/><stop offset="0.5591" stop-color="#a0ff5f"/><stop offset="0.5732" stop-color="#80ff80"/><stop offset="0.6015" stop-color="#50ffaf"/><stop offset="0.6227" stop-color="#40ffbf"/><stop offset="0.6439" stop-color="#20ffdf"/><stop offset="0.6721" stop-color="#0ffff0"/><stop offset="0.7004" stop-color="#00ffff"/><stop offset="0.7287" stop-color="#00f0ff"/><stop offset="0.7569" stop-color="#00d8ff"/><stop offset="0.7852" stop-color="#00c0ff"/><stop offset="0.8135" stop-color="#0098ff"/><stop offset="0.8347" stop-color="#0080ff"/><stop offset="0.8559" stop-color="#0060ff"/><stop offset="0.8841" stop-color="#0040ff"/><stop offset="0.9124" stop-color="#0010ff"/><stop offset="0.9343" stop-color="#0000ff"/><stop offset="0.9548" stop-color="#0000f0"/><stop offset="0.9830" stop-color="#0000c0"/><stop offset="1.0000" stop-color="#0000b0"/></linearGradient><linearGradient id="h10" gradientUnits="objectBoundingBox" x1="0" y1="0" x2="1" y2="0"><stop offset="0.0000" stop-color="#ffff00"/><stop offset="0.0126" stop-color="#fff000"/><stop offset="0.0855" stop-color="#ffe800"/><stop offset="0.0939" stop-color="#ffd800"/><stop offset="0.1023" stop-color="#ffc000"/><stop offset="0.1079" stop-color="#ffa000"/><stop offset="0.1191" stop-color="#ff7800"/><stop offset="0.1303" stop-color="#ff5000"/><stop offset="0.1415" stop-color="#ff2000"/><stop offset="0.1527" stop-color="#ff0000"/><stop offset="0.1625" stop-color="#e80000"/><stop offset="0.1737" stop-color="#c80000"/><stop offset="0.1835" stop-color="#b00000"/><stop offset="0.1975" stop-color="#a00000"/><stop offset="0.2185" stop-color="#980000"/><stop offset="0.2298" stop-color="#b00000"/><stop offset="0.2424" stop-color="#d00000"/><stop offset="0.2536" stop-color="#f00000"/><stop offset="0.2590" stop-color="#ff0000"/><stop offset="0.2648" stop-color="#ff1000"/><stop offset="0.2760" stop-color="#ff3000"/><stop offset="0.2886" stop-color="#ff5000"/><stop offset="0.3026" stop-color="#ff7000"/><stop offset="0.3166" stop-color="#ff8800"/><stop offset="0.3334" stop-color="#ffa000"/><stop offset="0.3656" stop-color="#ffb000"/><stop offset="0.3937" stop-color="#ffc000"/><stop offset="0.4217" stop-color="#ffe000"/><stop offset="0.4469" stop-color="#ffff00"/><stop offset="0.4637" stop-color="#f0ff0f"/><stop offset="0.4777" stop-color="#d0ff2f"/><stop offset="0.5057" stop-color="#afff50"/><stop offset="0.5478" stop-color="#8fff70"/><stop offset="0.5688" stop-color="#80ff80"/><stop offset="0.5898" stop-color="#5fffa0"/><stop offset="0.6178" stop-color="#40ffbf"/><stop offset="0.6458" stop-color="#2fffd0"/><stop offset="0.6879" stop-color="#20ffdf"/><stop offset="0.7299" stop-color="#00ffff"/><stop offset="0.7509" stop-color="#00f0ff"/><stop offset="0.7719" stop-color="#00e0ff"/><stop offset="0.7929" stop-color="#00d0ff"/><stop offset="0.8140" stop-color="#00c0ff"/><stop offset="0.8420" stop-color="#00a8ff"/><stop offset="0.8700" stop-color="#0098ff"/><stop offset="0.8980" stop-color="#0090ff"/><stop offset="0.9260" stop-color="#0080ff"/><stop offset="0.9611" stop-color="#0070ff"/><stop offset="1.0003" stop-color="#0060ff"/></linearGradient><linearGradient id="h11" gradientUnits="objectBoundingBox" x1="0" y1="0" x2="1" y2="0"><stop offset="0.0000" stop-color="#f7ff08"/><stop offset="0.0294" stop-color="#ffff00"/><stop offset="0.0925" stop-color="#fff000"/><stop offset="0.0981" stop-color="#ffd000"/><stop offset="0.1079" stop-color="#ffb000"/><stop offset="0.1191" stop-color="#ff9000"/><stop offset="0.1303" stop-color="#ff6000"/><stop offset="0.1415" stop-color="#ff3000"/><stop offset="0.1527" stop-color="#ff1000"/><stop offset="0.1585" stop-color="#ff0000"/><stop offset="0.1639" stop-color="#f00000"/><stop offset="0.1765" stop-color="#d00000"/><stop offset="0.1905" stop-color="#b00000"/><stop offset="0.2045" stop-color="#a00000"/><stop offset="0.2256" stop-color="#980000"/><stop offset="0.2396" stop-color="#c00000"/><stop offset="0.2508" stop-color="#e00000"/><stop offset="0.2620" stop-color="#ff0000"/><stop offset="0.2732" stop-color="#ff2800"/><stop offset="0.2858" stop-color="#ff5000"/><stop offset="0.2998" stop-color="#ff7000"/><stop offset="0.3180" stop-color="#ff9000"/><stop offset="0.3404" stop-color="#ffa000"/><stop offset="0.3656" stop-color="#ffb800"/><stop offset="0.3937" stop-color="#ffd000"/><stop offset="0.4217" stop-color="#ffe800"/><stop offset="0.4497" stop-color="#ffff00"/><stop offset="0.4777" stop-color="#dfff20"/><stop offset="0.5057" stop-color="#bfff40"/><stop offset="0.5226" stop-color="#a0ff5f"/><stop offset="0.5478" stop-color="#80ff80"/><stop offset="0.5758" stop-color="#70ff8f"/><stop offset="0.6038" stop-color="#50ffaf"/><stop offset="0.6458" stop-color="#2fffd0"/><stop offset="0.6879" stop-color="#0ffff0"/><stop offset="0.7229" stop-color="#00ffff"/><stop offset="0.7439" stop-color="#00e8ff"/><stop offset="0.7859" stop-color="#00d0ff"/><stop offset="0.8140" stop-color="#00b8ff"/><stop offset="0.8420" stop-color="#00a0ff"/><stop offset="0.8840" stop-color="#0090ff"/><stop offset="0.9260" stop-color="#0080ff"/><stop offset="0.9611" stop-color="#0070ff"/><stop offset="1.0003" stop-color="#0060ff"/></linearGradient><linearGradient id="h12" gradientUnits="objectBoundingBox" x1="0" y1="0" x2="1" y2="0"><stop offset="0.0000" stop-color="#d8ff27"/><stop offset="0.0084" stop-color="#ffff00"/><stop offset="0.0434" stop-color="#fff000"/><stop offset="0.0743" stop-color="#ffff00"/><stop offset="0.0925" stop-color="#fff000"/><stop offset="0.0995" stop-color="#ffd000"/><stop offset="0.1065" stop-color="#ffb000"/><stop offset="0.1135" stop-color="#ff9000"/><stop offset="0.1275" stop-color="#ff5000"/><stop offset="0.1387" stop-color="#ff2000"/><stop offset="0.1485" stop-color="#ff0000"/><stop offset="0.1667" stop-color="#e00000"/><stop offset="0.1835" stop-color="#c00000"/><stop offset="0.2045" stop-color="#b00000"/><stop offset="0.2256" stop-color="#a80000"/><stop offset="0.2368" stop-color="#c00000"/><stop offset="0.2536" stop-color="#e00000"/><stop offset="0.2648" stop-color="#ff0000"/><stop offset="0.2746" stop-color="#ff2000"/><stop offset="0.2858" stop-color="#ff5000"/><stop offset="0.3096" stop-color="#ff8000"/><stop offset="0.3236" stop-color="#ff9000"/><stop offset="0.3446" stop-color="#ffa000"/><stop offset="0.3656" stop-color="#ffb000"/><stop offset="0.3797" stop-color="#ffc800"/><stop offset="0.4077" stop-color="#ffd800"/><stop offset="0.4357" stop-color="#ffe800"/><stop offset="0.4497" stop-color="#ffff00"/><stop offset="0.4609" stop-color="#f0ff0f"/><stop offset="0.4777" stop-color="#d0ff2f"/><stop offset="0.4987" stop-color="#b8ff47"/><stop offset="0.5198" stop-color="#a7ff58"/><stop offset="0.5478" stop-color="#8fff70"/><stop offset="0.5758" stop-color="#80ff80"/><stop offset="0.6108" stop-color="#50ffaf"/><stop offset="0.6458" stop-color="#2fffd0"/><stop offset="0.6879" stop-color="#0ffff0"/><stop offset="0.7089" stop-color="#00ffff"/><stop offset="0.7299" stop-color="#00e8ff"/><stop offset="0.7579" stop-color="#00d8ff"/><stop offset="0.7859" stop-color="#00c0ff"/><stop offset="0.8140" stop-color="#00a8ff"/><stop offset="0.8490" stop-color="#0090ff"/><stop offset="0.8840" stop-color="#0080ff"/><stop offset="0.9260" stop-color="#0070ff"/><stop offset="0.9611" stop-color="#0060ff"/><stop offset="1.0003" stop-color="#0048ff"/></linearGradient><linearGradient id="h13" gradientUnits="objectBoundingBox" x1="0" y1="0" x2="1" y2="0"><stop offset="0.0000" stop-color="#a7ff58"/><stop offset="0.0224" stop-color="#b8ff47"/><stop offset="0.0434" stop-color="#bfff40"/><stop offset="0.0785" stop-color="#d8ff27"/><stop offset="0.0883" stop-color="#e8ff17"/><stop offset="0.0939" stop-color="#ffff00"/><stop offset="0.0995" stop-color="#ffe000"/><stop offset="0.1079" stop-color="#ffc000"/><stop offset="0.1177" stop-color="#ffb000"/><stop offset="0.1275" stop-color="#ff9000"/><stop offset="0.1373" stop-color="#ff7000"/><stop offset="0.1499" stop-color="#ff4000"/><stop offset="0.1653" stop-color="#ff1000"/><stop offset="0.1719" stop-color="#ff0000"/><stop offset="0.1765" stop-color="#f40000"/><stop offset="0.1947" stop-color="#e00000"/><stop offset="0.2059" stop-color="#d80000"/><stop offset="0.2143" stop-color="#e40000"/><stop offset="0.2256" stop-color="#f40000"/><stop offset="0.2296" stop-color="#ff0000"/><stop offset="0.2354" stop-color="#ff1000"/><stop offset="0.2480" stop-color="#ff2800"/><stop offset="0.2620" stop-color="#ff4800"/><stop offset="0.2788" stop-color="#ff7000"/><stop offset="0.2928" stop-color="#ff8000"/><stop offset="0.3096" stop-color="#ff9000"/><stop offset="0.3306" stop-color="#ffa000"/><stop offset="0.3516" stop-color="#ffb000"/><stop offset="0.3727" stop-color="#ffc000"/><stop offset="0.3937" stop-color="#ffd800"/><stop offset="0.4119" stop-color="#ffe800"/><stop offset="0.4287" stop-color="#ffff00"/><stop offset="0.4455" stop-color="#f0ff0f"/><stop offset="0.4637" stop-color="#d0ff2f"/><stop offset="0.4777" stop-color="#afff50"/><stop offset="0.5029" stop-color="#a0ff5f"/><stop offset="0.5170" stop-color="#8fff70"/><stop offset="0.5338" stop-color="#80ff80"/><stop offset="0.5548" stop-color="#5fffa0"/><stop offset="0.5758" stop-color="#50ffaf"/><stop offset="0.6038" stop-color="#2fffd0"/><stop offset="0.6318" stop-color="#20ffdf"/><stop offset="0.6879" stop-color="#00ffff"/><stop offset="0.7159" stop-color="#00f0ff"/><stop offset="0.7369" stop-color="#00e0ff"/><stop offset="0.7509" stop-color="#00c8ff"/><stop offset="0.7719" stop-color="#00b0ff"/><stop offset="0.8069" stop-color="#0098ff"/><stop offset="0.8280" stop-color="#0088ff"/><stop offset="0.8630" stop-color="#0078ff"/><stop offset="0.8840" stop-color="#0068ff"/><stop offset="0.9190" stop-color="#0058ff"/><stop offset="0.9400" stop-color="#0048ff"/><stop offset="1.0003" stop-color="#0030ff"/></linearGradient><linearGradient id="h14" gradientUnits="objectBoundingBox" x1="0" y1="0" x2="1" y2="0"><stop offset="0.0000" stop-color="#afff50"/><stop offset="0.0827" stop-color="#c7ff38"/><stop offset="0.0911" stop-color="#e8ff17"/><stop offset="0.0995" stop-color="#ffff00"/><stop offset="0.1079" stop-color="#ffd800"/><stop offset="0.1177" stop-color="#ffc000"/><stop offset="0.1275" stop-color="#ffa000"/><stop offset="0.1387" stop-color="#ff8000"/><stop offset="0.1485" stop-color="#ff6000"/><stop offset="0.1569" stop-color="#ff4000"/><stop offset="0.1667" stop-color="#ff1800"/><stop offset="0.1779" stop-color="#ff0000"/><stop offset="0.1947" stop-color="#e40000"/><stop offset="0.2059" stop-color="#d80000"/><stop offset="0.2143" stop-color="#e80000"/><stop offset="0.2242" stop-color="#ff0000"/><stop offset="0.2410" stop-color="#ff3000"/><stop offset="0.2578" stop-color="#ff6000"/><stop offset="0.2746" stop-color="#ff8000"/><stop offset="0.3012" stop-color="#ff9000"/><stop offset="0.3376" stop-color="#ffa800"/><stop offset="0.3586" stop-color="#ffc000"/><stop offset="0.3797" stop-color="#ffd800"/><stop offset="0.3965" stop-color="#ffe800"/><stop offset="0.4147" stop-color="#ffff00"/><stop offset="0.4329" stop-color="#f0ff0f"/><stop offset="0.4497" stop-color="#d0ff2f"/><stop offset="0.4665" stop-color="#afff50"/><stop offset="0.4917" stop-color="#8fff70"/><stop offset="0.5127" stop-color="#80ff80"/><stop offset="0.5338" stop-color="#70ff8f"/><stop offset="0.5618" stop-color="#50ffaf"/><stop offset="0.5898" stop-color="#2fffd0"/><stop offset="0.6178" stop-color="#0ffff0"/><stop offset="0.6318" stop-color="#00ffff"/><stop offset="0.6879" stop-color="#00ffff"/><stop offset="0.7089" stop-color="#00f0ff"/><stop offset="0.7299" stop-color="#00e0ff"/><stop offset="0.7509" stop-color="#00c0ff"/><stop offset="0.7859" stop-color="#00a0ff"/><stop offset="0.8140" stop-color="#0088ff"/><stop offset="0.8420" stop-color="#0070ff"/><stop offset="0.8700" stop-color="#0060ff"/><stop offset="0.8980" stop-color="#0050ff"/><stop offset="0.9260" stop-color="#0040ff"/><stop offset="0.9540" stop-color="#0020ff"/><stop offset="0.9751" stop-color="#0010ff"/><stop offset="1.0003" stop-color="#0000ff"/></linearGradient><linearGradient id="h15" gradientUnits="objectBoundingBox" x1="0" y1="0" x2="1" y2="0"><stop offset="0.0000" stop-color="#afff50"/><stop offset="0.0574" stop-color="#a7ff58"/><stop offset="0.0714" stop-color="#bfff40"/><stop offset="0.0855" stop-color="#d8ff27"/><stop offset="0.0939" stop-color="#f7ff08"/><stop offset="0.0955" stop-color="#ffff00"/><stop offset="0.1023" stop-color="#ffe000"/><stop offset="0.1107" stop-color="#ffc000"/><stop offset="0.1191" stop-color="#ffa000"/><stop offset="0.1303" stop-color="#ff8000"/><stop offset="0.1415" stop-color="#ff5000"/><stop offset="0.1555" stop-color="#ff3800"/><stop offset="0.1695" stop-color="#ff2800"/><stop offset="0.1905" stop-color="#ff1800"/><stop offset="0.2115" stop-color="#ff1000"/><stop offset="0.2312" stop-color="#ff3000"/><stop offset="0.2452" stop-color="#ff4000"/><stop offset="0.2578" stop-color="#ff5800"/><stop offset="0.2704" stop-color="#ff7000"/><stop offset="0.2844" stop-color="#ff9000"/><stop offset="0.3096" stop-color="#ffa800"/><stop offset="0.3376" stop-color="#ffb800"/><stop offset="0.3544" stop-color="#ffd000"/><stop offset="0.3685" stop-color="#ffe800"/><stop offset="0.3825" stop-color="#ffff00"/><stop offset="0.3965" stop-color="#f0ff0f"/><stop offset="0.4147" stop-color="#d0ff2f"/><stop offset="0.4357" stop-color="#bfff40"/><stop offset="0.4497" stop-color="#afff50"/><stop offset="0.4707" stop-color="#8fff70"/><stop offset="0.4917" stop-color="#70ff8f"/><stop offset="0.5127" stop-color="#5fffa0"/><stop offset="0.5338" stop-color="#40ffbf"/><stop offset="0.5618" stop-color="#20ffdf"/><stop offset="0.5898" stop-color="#0ffff0"/><stop offset="0.6178" stop-color="#00ffff"/><stop offset="0.6388" stop-color="#00f0ff"/><stop offset="0.6598" stop-color="#00e0ff"/><stop offset="0.6949" stop-color="#00d0ff"/><stop offset="0.7299" stop-color="#00c0ff"/><stop offset="0.7579" stop-color="#00a8ff"/><stop offset="0.7859" stop-color="#0090ff"/><stop offset="0.8210" stop-color="#0078ff"/><stop offset="0.8560" stop-color="#0060ff"/><stop offset="0.8910" stop-color="#0040ff"/><stop offset="0.9260" stop-color="#0020ff"/><stop offset="0.9470" stop-color="#0008ff"/><stop offset="0.9610" stop-color="#0000ff"/><stop offset="1.0003" stop-color="#0000e8"/></linearGradient><linearGradient id="h16" gradientUnits="objectBoundingBox" x1="0" y1="0" x2="1" y2="0"><stop offset="0.0000" stop-color="#8fff70"/><stop offset="0.0294" stop-color="#97ff68"/><stop offset="0.0855" stop-color="#a7ff58"/><stop offset="0.0939" stop-color="#bfff40"/><stop offset="0.1023" stop-color="#dfff20"/><stop offset="0.1093" stop-color="#ffff00"/><stop offset="0.1177" stop-color="#ffe000"/><stop offset="0.1247" stop-color="#ffc000"/><stop offset="0.1317" stop-color="#ffa000"/><stop offset="0.1387" stop-color="#ff8000"/><stop offset="0.1457" stop-color="#ff6000"/><stop offset="0.1527" stop-color="#ff4000"/><stop offset="0.1625" stop-color="#ff3000"/><stop offset="0.1905" stop-color="#ff2000"/><stop offset="0.2185" stop-color="#ff1000"/><stop offset="0.2284" stop-color="#ff3000"/><stop offset="0.2424" stop-color="#ff5000"/><stop offset="0.2536" stop-color="#ff7000"/><stop offset="0.2648" stop-color="#ff9000"/><stop offset="0.2746" stop-color="#ffb000"/><stop offset="0.2886" stop-color="#ffd000"/><stop offset="0.3026" stop-color="#ffe800"/><stop offset="0.3208" stop-color="#ffff00"/><stop offset="0.3376" stop-color="#f0ff0f"/><stop offset="0.3656" stop-color="#d8ff27"/><stop offset="0.3937" stop-color="#c7ff38"/><stop offset="0.4217" stop-color="#bfff40"/><stop offset="0.4427" stop-color="#afff50"/><stop offset="0.4637" stop-color="#a0ff5f"/><stop offset="0.4889" stop-color="#8fff70"/><stop offset="0.5057" stop-color="#80ff80"/><stop offset="0.5127" stop-color="#50ffaf"/><stop offset="0.5338" stop-color="#40ffbf"/><stop offset="0.5618" stop-color="#20ffdf"/><stop offset="0.5828" stop-color="#0ffff0"/><stop offset="0.6038" stop-color="#00ffff"/><stop offset="0.6318" stop-color="#00f0ff"/><stop offset="0.6739" stop-color="#00e0ff"/><stop offset="0.7019" stop-color="#00d0ff"/><stop offset="0.7299" stop-color="#00c0ff"/><stop offset="0.7579" stop-color="#00b0ff"/><stop offset="0.7859" stop-color="#0098ff"/><stop offset="0.8140" stop-color="#0088ff"/><stop offset="0.8420" stop-color="#0070ff"/><stop offset="0.8700" stop-color="#0050ff"/><stop offset="0.8980" stop-color="#0030ff"/><stop offset="0.9260" stop-color="#0010ff"/><stop offset="0.9405" stop-color="#0000ff"/><stop offset="0.9540" stop-color="#0000f0"/><stop offset="0.9751" stop-color="#0000e0"/><stop offset="1.0003" stop-color="#0000d0"/></linearGradient><linearGradient id="h17" gradientUnits="objectBoundingBox" x1="0" y1="0" x2="1" y2="0"><stop offset="0.0000" stop-color="#80ff80"/><stop offset="0.0294" stop-color="#88ff77"/><stop offset="0.0574" stop-color="#8fff70"/><stop offset="0.0855" stop-color="#a7ff58"/><stop offset="0.0925" stop-color="#bfff40"/><stop offset="0.1023" stop-color="#f0ff0f"/><stop offset="0.1041" stop-color="#ffff00"/><stop offset="0.1079" stop-color="#ffe000"/><stop offset="0.1163" stop-color="#ffb000"/><stop offset="0.1233" stop-color="#ff9000"/><stop offset="0.1317" stop-color="#ff7000"/><stop offset="0.1415" stop-color="#ff5000"/><stop offset="0.1513" stop-color="#ff3000"/><stop offset="0.1625" stop-color="#ff1000"/><stop offset="0.2115" stop-color="#ff0000"/><stop offset="0.2326" stop-color="#ff1000"/><stop offset="0.2396" stop-color="#ff3000"/><stop offset="0.2508" stop-color="#ff6000"/><stop offset="0.2592" stop-color="#ff8000"/><stop offset="0.2704" stop-color="#ffb000"/><stop offset="0.2816" stop-color="#ffd000"/><stop offset="0.3068" stop-color="#ffff00"/><stop offset="0.3236" stop-color="#f0ff0f"/><stop offset="0.3516" stop-color="#d8ff27"/><stop offset="0.3797" stop-color="#d0ff2f"/><stop offset="0.4217" stop-color="#bfff40"/><stop offset="0.4357" stop-color="#a7ff58"/><stop offset="0.4637" stop-color="#97ff68"/><stop offset="0.4847" stop-color="#8fff70"/><stop offset="0.5057" stop-color="#80ff80"/><stop offset="0.5127" stop-color="#5fffa0"/><stop offset="0.5268" stop-color="#40ffbf"/><stop offset="0.5408" stop-color="#2fffd0"/><stop offset="0.5618" stop-color="#0ffff0"/><stop offset="0.5758" stop-color="#00ffff"/><stop offset="0.6038" stop-color="#00f0ff"/><stop offset="0.6388" stop-color="#00e0ff"/><stop offset="0.6739" stop-color="#00d0ff"/><stop offset="0.7019" stop-color="#00c0ff"/><stop offset="0.7299" stop-color="#00b0ff"/><stop offset="0.7579" stop-color="#0098ff"/><stop offset="0.7859" stop-color="#0080ff"/><stop offset="0.8140" stop-color="#0068ff"/><stop offset="0.8420" stop-color="#0040ff"/><stop offset="0.8700" stop-color="#0020ff"/><stop offset="0.8910" stop-color="#0000ff"/><stop offset="0.9260" stop-color="#0000e0"/><stop offset="0.9540" stop-color="#0000d0"/><stop offset="0.9751" stop-color="#0000c8"/><stop offset="1.0003" stop-color="#0000c0"/></linearGradient><linearGradient id="h18" gradientUnits="objectBoundingBox" x1="0" y1="0" x2="1" y2="0"><stop offset="0.0000" stop-color="#70ff8f"/><stop offset="0.0224" stop-color="#80ff80"/><stop offset="0.0364" stop-color="#8fff70"/><stop offset="0.0574" stop-color="#a7ff58"/><stop offset="0.0714" stop-color="#bfff40"/><stop offset="0.0897" stop-color="#dfff20"/><stop offset="0.0967" stop-color="#ffff00"/><stop offset="0.1051" stop-color="#ffd000"/><stop offset="0.1135" stop-color="#ffb000"/><stop offset="0.1233" stop-color="#ff8000"/><stop offset="0.1345" stop-color="#ff6000"/><stop offset="0.1485" stop-color="#ff3000"/><stop offset="0.1625" stop-color="#ff1000"/><stop offset="0.1905" stop-color="#ff0000"/><stop offset="0.2256" stop-color="#ff0000"/><stop offset="0.2354" stop-color="#ff3000"/><stop offset="0.2466" stop-color="#ff5000"/><stop offset="0.2564" stop-color="#ff8000"/><stop offset="0.2676" stop-color="#ffb000"/><stop offset="0.2816" stop-color="#ffd000"/><stop offset="0.3096" stop-color="#ffff00"/><stop offset="0.3306" stop-color="#f0ff0f"/><stop offset="0.3586" stop-color="#d8ff27"/><stop offset="0.3937" stop-color="#d0ff2f"/><stop offset="0.4287" stop-color="#bfff40"/><stop offset="0.4441" stop-color="#afff50"/><stop offset="0.4525" stop-color="#5fffa0"/><stop offset="0.4707" stop-color="#40ffbf"/><stop offset="0.4987" stop-color="#50ffaf"/><stop offset="0.5127" stop-color="#40ffbf"/><stop offset="0.5338" stop-color="#2fffd0"/><stop offset="0.5618" stop-color="#20ffdf"/><stop offset="0.5870" stop-color="#0ffff0"/><stop offset="0.5920" stop-color="#00ffff"/><stop offset="0.5968" stop-color="#00f0ff"/><stop offset="0.6178" stop-color="#00e0ff"/><stop offset="0.6458" stop-color="#00d0ff"/><stop offset="0.6809" stop-color="#00c0ff"/><stop offset="0.7019" stop-color="#00a8ff"/><stop offset="0.7369" stop-color="#0090ff"/><stop offset="0.7579" stop-color="#0078ff"/><stop offset="0.7929" stop-color="#0060ff"/><stop offset="0.8140" stop-color="#0040ff"/><stop offset="0.8420" stop-color="#0010ff"/><stop offset="0.8505" stop-color="#0000ff"/><stop offset="0.8630" stop-color="#0000e8"/><stop offset="0.8980" stop-color="#0000d0"/><stop offset="0.9190" stop-color="#0000a8"/><stop offset="0.9470" stop-color="#000090"/><stop offset="0.9569" stop-color="#000080"/><stop offset="0.9751" stop-color="#0000a0"/><stop offset="1.0003" stop-color="#0000b0"/></linearGradient></defs>
<rect x="1794.8" y="867.3" width="18.2" height="588.2" fill="url(#cbg)"/>
<line x1="1808.5" y1="1455.5" x2="1813" y2="1455.5" stroke="#333" stroke-width="1.2"/>
<text x="1823.2" y="1468.3" font-family="'DejaVu Sans', 'Liberation Sans', sans-serif" font-size="35.5" fill="#262626">0</text>
<line x1="1808.5" y1="1346.6" x2="1813" y2="1346.6" stroke="#333" stroke-width="1.2"/>
<text x="1823.2" y="1359.4" font-family="'DejaVu Sans', 'Liberation Sans', sans-serif" font-size="35.5" fill="#262626">0.5</text>
<line x1="1808.5" y1="1237.6" x2="1813" y2="1237.6" stroke="#333" stroke-width="1.2"/>
<text x="1823.2" y="1250.4" font-family="'DejaVu Sans', 'Liberation Sans', sans-serif" font-size="35.5" fill="#262626">1</text>
<line x1="1808.5" y1="1128.7" x2="1813" y2="1128.7" stroke="#333" stroke-width="1.2"/>
<text x="1823.2" y="1141.5" font-family="'DejaVu Sans', 'Liberation Sans', sans-serif" font-size="35.5" fill="#262626">1.5</text>
<line x1="1808.5" y1="1019.8" x2="1813" y2="1019.8" stroke="#333" stroke-width="1.2"/>
<text x="1823.2" y="1032.6" font-family="'DejaVu Sans', 'Liberation Sans', sans-serif" font-size="35.5" fill="#262626">2</text>
<line x1="1808.5" y1="910.9" x2="1813" y2="910.9" stroke="#333" stroke-width="1.2"/>
<text x="1823.2" y="923.7" font-family="'DejaVu Sans', 'Liberation Sans', sans-serif" font-size="35.5" fill="#262626">2.5</text>
<text transform="translate(1915.5,1263) rotate(-90)" font-family="'Liberation Serif', serif" font-size="41.4" fill="#262626" textLength="66.2" lengthAdjust="spacingAndGlyphs">Log</text>
<text transform="translate(1923.2,1193.8) rotate(-90)" font-family="'Liberation Serif', serif" font-size="29" fill="#262626" textLength="23.4" lengthAdjust="spacingAndGlyphs">10</text>
<text transform="translate(1915.5,1166.6) rotate(-90)" font-family="'Liberation Serif', serif" font-size="41.4" fill="#262626" textLength="103.8" lengthAdjust="spacingAndGlyphs">(PSD)</text>
</svg></body></html>
